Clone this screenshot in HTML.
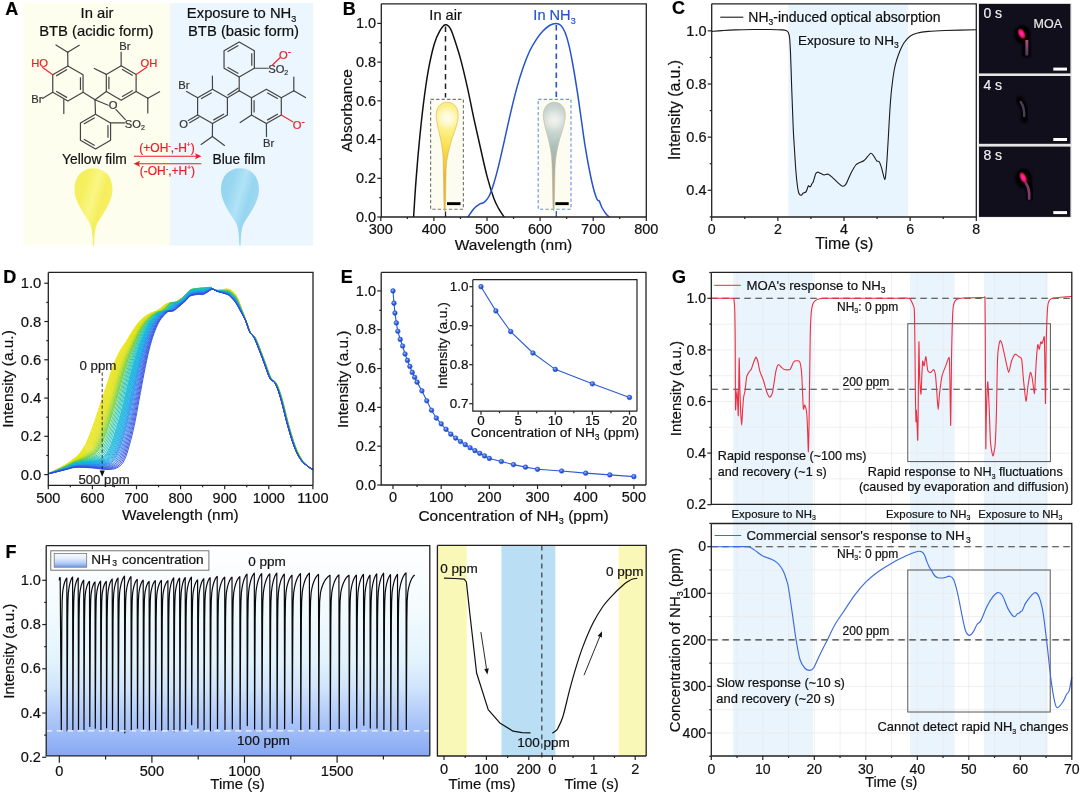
<!DOCTYPE html>
<html lang="en"><head><meta charset="utf-8"><title>Figure</title>
<style>
html,body{margin:0;padding:0;background:#fff;}
body{width:1080px;height:794px;overflow:hidden;}
svg{display:block;font-family:"Liberation Sans", sans-serif;will-change:transform;}
svg text{stroke-width:0.2px;stroke-linejoin:round;}
</style></head><body>
<svg width="1080" height="794" viewBox="0 0 1080 794">
<rect width="1080" height="794" fill="#ffffff"/>
<rect x="23" y="3" width="146.8" height="242.5" fill="#fefeee" stroke="none" stroke-width="1" />
<rect x="169.8" y="3" width="143.4" height="242.5" fill="#ebf6fe" stroke="none" stroke-width="1" />
<text x="5.3" y="15" font-size="18" text-anchor="start" fill="#000" stroke="#000" font-weight="bold" >A</text>
<text x="97" y="18.3" font-size="14.8" text-anchor="middle" fill="#101010" stroke="#101010" font-weight="normal" >In air</text>
<text x="96.3" y="35.7" font-size="14.8" text-anchor="middle" fill="#101010" stroke="#101010" font-weight="normal" >BTB (acidic form)</text>
<text x="241.6" y="18.3" font-size="14.8" text-anchor="middle" fill="#101010" stroke="#101010" font-weight="normal" >Exposure to NH<tspan font-size="9" dy="3.4">3</tspan><tspan dy="-3.4" font-size="1">&#8203;</tspan></text>
<text x="243.5" y="35.7" font-size="14.8" text-anchor="middle" fill="#101010" stroke="#101010" font-weight="normal" >BTB (basic form)</text>
<path d="M67.9 66.1 L83.06 74.85 L83.06 92.35 L67.9 101.1 L52.74 92.35 L52.74 74.85 Z" fill="none" stroke="#444444" stroke-width="1.2" stroke-linejoin="round"/>
<line x1="56.17" y1="75.88" x2="67.08" y2="69.58" stroke="#444444" stroke-width="1.2" />
<line x1="80.46" y1="77.3" x2="80.46" y2="89.9" stroke="#444444" stroke-width="1.2" />
<line x1="67.08" y1="97.62" x2="56.17" y2="91.32" stroke="#444444" stroke-width="1.2" />
<line x1="67.9" y1="66.1" x2="67.7" y2="52.2" stroke="#444444" stroke-width="1.2" stroke-linecap="round"/>
<line x1="67.7" y1="52.2" x2="56" y2="44.9" stroke="#444444" stroke-width="1.2" stroke-linecap="round"/>
<line x1="67.7" y1="52.2" x2="79.2" y2="45.2" stroke="#444444" stroke-width="1.2" stroke-linecap="round"/>
<line x1="52.74" y1="74.85" x2="42.6" y2="67.6" stroke="#ee2a2a" stroke-width="1.2" stroke-linecap="round"/>
<text x="31.2" y="66.6" font-size="11.2" text-anchor="start" fill="#ee1c24" stroke="#ee1c24" font-weight="normal" >HO</text>
<line x1="52.74" y1="92.35" x2="42.5" y2="98.4" stroke="#444444" stroke-width="1.2" stroke-linecap="round"/>
<text x="31.2" y="102.6" font-size="11.2" text-anchor="start" fill="#333" stroke="#333" font-weight="normal" >Br</text>
<line x1="63.8" y1="99.6" x2="63.8" y2="113.5" stroke="#444444" stroke-width="1.2" stroke-linecap="round"/>
<line x1="83.06" y1="92.35" x2="95" y2="99.8" stroke="#444444" stroke-width="1.2" stroke-linecap="round"/>
<path d="M121.2 65.8 L136.1 74.4 L136.1 91.6 L121.2 100.2 L106.3 91.6 L106.3 74.4 Z" fill="none" stroke="#444444" stroke-width="1.2" stroke-linejoin="round"/>
<line x1="121.99" y1="69.26" x2="132.71" y2="75.45" stroke="#444444" stroke-width="1.2" />
<line x1="108.9" y1="89.19" x2="108.9" y2="76.81" stroke="#444444" stroke-width="1.2" />
<line x1="132.71" y1="90.55" x2="121.99" y2="96.74" stroke="#444444" stroke-width="1.2" />
<line x1="95" y1="99.8" x2="106.3" y2="91.6" stroke="#444444" stroke-width="1.2" stroke-linecap="round"/>
<line x1="121.2" y1="65.8" x2="121.1" y2="52.2" stroke="#444444" stroke-width="1.2" stroke-linecap="round"/>
<text x="119.2" y="50.4" font-size="11.2" text-anchor="start" fill="#333" stroke="#333" font-weight="normal" >Br</text>
<line x1="136.1" y1="74.4" x2="146.8" y2="67.3" stroke="#ee2a2a" stroke-width="1.2" stroke-linecap="round"/>
<text x="140.6" y="66.6" font-size="11.2" text-anchor="start" fill="#ee1c24" stroke="#ee1c24" font-weight="normal" >OH</text>
<line x1="106.3" y1="74.4" x2="94.3" y2="68.5" stroke="#444444" stroke-width="1.2" stroke-linecap="round"/>
<line x1="136.1" y1="91.6" x2="147.8" y2="98.3" stroke="#444444" stroke-width="1.2" stroke-linecap="round"/>
<line x1="147.8" y1="98.3" x2="159.6" y2="91.7" stroke="#444444" stroke-width="1.2" stroke-linecap="round"/>
<line x1="147.8" y1="98.3" x2="147.8" y2="112.9" stroke="#444444" stroke-width="1.2" stroke-linecap="round"/>
<line x1="95" y1="99.8" x2="108.2" y2="105.2" stroke="#444444" stroke-width="1.2" stroke-linecap="round"/>
<text x="108.8" y="108.8" font-size="11.2" text-anchor="start" fill="#333" stroke="#333" font-weight="normal" >O</text>
<line x1="116" y1="109.6" x2="125.4" y2="119.6" stroke="#444444" stroke-width="1.2" stroke-linecap="round"/>
<text x="124.8" y="127.8" font-size="11.2" text-anchor="start" fill="#333" stroke="#333" font-weight="normal" >SO<tspan font-size="7" dy="2.5">2</tspan><tspan dy="-2.5" font-size="1">&#8203;</tspan></text>
<path d="M95.5 114.2 L110.57 122.9 L110.57 140.3 L95.5 149 L80.43 140.3 L80.43 122.9 Z" fill="none" stroke="#444444" stroke-width="1.2" stroke-linejoin="round"/>
<line x1="83.84" y1="123.93" x2="94.69" y2="117.67" stroke="#444444" stroke-width="1.2" />
<line x1="107.97" y1="125.34" x2="107.97" y2="137.86" stroke="#444444" stroke-width="1.2" />
<line x1="94.69" y1="145.53" x2="83.84" y2="139.27" stroke="#444444" stroke-width="1.2" />
<line x1="95" y1="99.8" x2="95.5" y2="114.2" stroke="#444444" stroke-width="1.2" stroke-linecap="round"/>
<line x1="110.57" y1="122.9" x2="124.6" y2="122.9" stroke="#444444" stroke-width="1.2" stroke-linecap="round"/>
<text x="94.4" y="164" font-size="13.8" text-anchor="middle" fill="#101010" stroke="#101010" font-weight="normal" >Yellow film</text>
<line x1="133.8" y1="156.3" x2="196.5" y2="156.3" stroke="#ee1c24" stroke-width="1.1" />
<path d="M201.5 156.3 L195 153.3 L196.3 156.3 L195 159.3 Z" fill="#ee1c24" stroke="none" stroke-width="1" />
<line x1="138.6" y1="163.8" x2="201.3" y2="163.8" stroke="#ee1c24" stroke-width="1.1" />
<path d="M133.6 163.8 L140.1 160.8 L138.8 163.8 L140.1 166.8 Z" fill="#ee1c24" stroke="none" stroke-width="1" />
<text x="167" y="152" font-size="12" text-anchor="middle" fill="#ee1c24" stroke="#ee1c24" font-weight="normal" >(+OH<tspan font-size="7.5" dy="-4.2">-</tspan><tspan dy="4.2" font-size="1">&#8203;</tspan>,-H<tspan font-size="6.5" dy="-4.6">+</tspan><tspan dy="4.6" font-size="1">&#8203;</tspan>)</text>
<text x="167.3" y="174.7" font-size="12" text-anchor="middle" fill="#ee1c24" stroke="#ee1c24" font-weight="normal" >(-OH<tspan font-size="7.5" dy="-4.2">-</tspan><tspan dy="4.2" font-size="1">&#8203;</tspan>,+H<tspan font-size="6.5" dy="-4.6">+</tspan><tspan dy="4.6" font-size="1">&#8203;</tspan>)</text>
<text x="239" y="164" font-size="13.8" text-anchor="middle" fill="#101010" stroke="#101010" font-weight="normal" >Blue film</text>
<defs>
<linearGradient id="gy" x1="0" y1="0" x2="1" y2="0.6">
<stop offset="0" stop-color="#f4ed5a"/><stop offset="0.3" stop-color="#f6f060"/><stop offset="0.52" stop-color="#faf684"/><stop offset="0.72" stop-color="#f5ee5c"/><stop offset="1" stop-color="#f7f16e"/>
</linearGradient>
<linearGradient id="gb" x1="0" y1="0" x2="1" y2="0.6">
<stop offset="0" stop-color="#92d2ee"/><stop offset="0.3" stop-color="#99d7f1"/><stop offset="0.52" stop-color="#b0e3f7"/><stop offset="0.72" stop-color="#96d5f0"/><stop offset="1" stop-color="#a5dcf3"/>
</linearGradient>
</defs>
<path d="M93.5 168.3 C104.5 168.3 112.5 176 112.5 189.5 C112.5 201 104.5 212 98 222 C95.5 227 94.4 231 94.1 245.5 L92.9 245.5 C92.6 231 91.5 227 89 222 C82.5 212 74.5 201 74.5 189.5 C74.5 176 82.5 168.3 93.5 168.3 Z" fill="url(#gy)" stroke="none" stroke-width="1" />
<path d="M240 168.3 C251 168.3 259 176 259 189.5 C259 201 251 212 244.5 222 C242 227 240.9 231 240.6 245.5 L239.4 245.5 C239.1 231 238 227 235.5 222 C229 212 221 201 221 189.5 C221 176 229 168.3 240 168.3 Z" fill="url(#gb)" stroke="none" stroke-width="1" />
<path d="M239.2 42 L254.36 50.75 L254.36 68.25 L239.2 77 L224.04 68.25 L224.04 50.75 Z" fill="none" stroke="#444444" stroke-width="1.2" stroke-linejoin="round"/>
<line x1="227.47" y1="51.78" x2="238.38" y2="45.48" stroke="#444444" stroke-width="1.2" />
<line x1="251.76" y1="53.2" x2="251.76" y2="65.8" stroke="#444444" stroke-width="1.2" />
<line x1="238.38" y1="73.52" x2="227.47" y2="67.22" stroke="#444444" stroke-width="1.2" />
<line x1="254.36" y1="68.25" x2="268.3" y2="68.25" stroke="#444444" stroke-width="1.2" stroke-linecap="round"/>
<text x="268.2" y="72.6" font-size="11.2" text-anchor="start" fill="#333" stroke="#333" font-weight="normal" >SO<tspan font-size="7" dy="2.5">2</tspan><tspan dy="-2.5" font-size="1">&#8203;</tspan></text>
<line x1="272.2" y1="65.2" x2="280" y2="57.8" stroke="#ee2a2a" stroke-width="1.2" stroke-linecap="round"/>
<text x="279" y="58.8" font-size="11.2" text-anchor="start" fill="#ee1c24" stroke="#ee1c24" font-weight="normal" >O<tspan font-size="10" dy="-4">-</tspan><tspan dy="4" font-size="1">&#8203;</tspan></text>
<line x1="239.2" y1="77" x2="239.2" y2="90.8" stroke="#444444" stroke-width="1.2" stroke-linecap="round"/>
<path d="M212.5 89.2 L227.4 97.8 L227.4 115 L212.5 123.6 L197.6 115 L197.6 97.8 Z" fill="none" stroke="#444444" stroke-width="1.2" stroke-linejoin="round"/>
<line x1="200.99" y1="98.85" x2="211.71" y2="92.66" stroke="#444444" stroke-width="1.2" />
<line x1="224.01" y1="113.95" x2="213.29" y2="120.14" stroke="#444444" stroke-width="1.2" />
<path d="M266.4 89.2 L281.3 97.8 L281.3 115 L266.4 123.6 L251.5 115 L251.5 97.8 Z" fill="none" stroke="#444444" stroke-width="1.2" stroke-linejoin="round"/>
<line x1="254.1" y1="112.59" x2="254.1" y2="100.21" stroke="#444444" stroke-width="1.2" />
<line x1="267.19" y1="92.66" x2="277.91" y2="98.85" stroke="#444444" stroke-width="1.2" />
<line x1="277.91" y1="113.95" x2="267.19" y2="120.14" stroke="#444444" stroke-width="1.2" />
<line x1="239.2" y1="90.8" x2="227.4" y2="97.8" stroke="#444444" stroke-width="1.2" stroke-linecap="round"/>
<line x1="239.2" y1="90.8" x2="251.5" y2="97.8" stroke="#444444" stroke-width="1.2" stroke-linecap="round"/>
<line x1="238" y1="88.2" x2="227.8" y2="94.9" stroke="#444444" stroke-width="1.2" stroke-linecap="round"/>
<line x1="212.5" y1="89.2" x2="212.4" y2="76.1" stroke="#444444" stroke-width="1.2" stroke-linecap="round"/>
<line x1="197.6" y1="97.8" x2="186.6" y2="91.5" stroke="#444444" stroke-width="1.2" stroke-linecap="round"/>
<text x="178.2" y="89.4" font-size="11.2" text-anchor="start" fill="#333" stroke="#333" font-weight="normal" >Br</text>
<line x1="197.6" y1="115" x2="188.3" y2="120.4" stroke="#444444" stroke-width="1.2" stroke-linecap="round"/>
<line x1="198.9" y1="117.3" x2="189.6" y2="122.7" stroke="#444444" stroke-width="1.2" stroke-linecap="round"/>
<text x="179.3" y="127.9" font-size="11.2" text-anchor="start" fill="#333" stroke="#333" font-weight="normal" >O</text>
<line x1="212.5" y1="123.6" x2="212.4" y2="136.6" stroke="#444444" stroke-width="1.2" stroke-linecap="round"/>
<line x1="212.4" y1="136.6" x2="201.1" y2="144.4" stroke="#444444" stroke-width="1.2" stroke-linecap="round"/>
<line x1="212.4" y1="136.6" x2="224.5" y2="145.4" stroke="#444444" stroke-width="1.2" stroke-linecap="round"/>
<line x1="281.3" y1="97.8" x2="293.8" y2="90.8" stroke="#444444" stroke-width="1.2" stroke-linecap="round"/>
<line x1="293.8" y1="90.8" x2="293.8" y2="77.1" stroke="#444444" stroke-width="1.2" stroke-linecap="round"/>
<line x1="293.8" y1="90.8" x2="305.5" y2="97.6" stroke="#444444" stroke-width="1.2" stroke-linecap="round"/>
<line x1="281.3" y1="115" x2="292.7" y2="121.8" stroke="#ee2a2a" stroke-width="1.2" stroke-linecap="round"/>
<text x="292.7" y="129.4" font-size="11.2" text-anchor="start" fill="#ee1c24" stroke="#ee1c24" font-weight="normal" >O<tspan font-size="10" dy="-4">-</tspan><tspan dy="4" font-size="1">&#8203;</tspan></text>
<line x1="266.4" y1="123.6" x2="266.5" y2="136.6" stroke="#444444" stroke-width="1.2" stroke-linecap="round"/>
<text x="263" y="146.8" font-size="11.2" text-anchor="start" fill="#333" stroke="#333" font-weight="normal" >Br</text>
<line x1="251.5" y1="115" x2="240.2" y2="122.6" stroke="#444444" stroke-width="1.2" stroke-linecap="round"/>
<text x="342.8" y="14.8" font-size="18" text-anchor="start" fill="#000" stroke="#000" font-weight="bold" >B</text>
<defs>
<radialGradient id="by" gradientUnits="userSpaceOnUse" cx="447.2" cy="118" r="60"><stop offset="0" stop-color="#fffdf0"/><stop offset="0.1" stop-color="#fef9cc"/><stop offset="0.2" stop-color="#fcf08c"/><stop offset="0.45" stop-color="#f9e252"/><stop offset="0.8" stop-color="#f2c832"/><stop offset="1" stop-color="#e8b830"/></radialGradient>
<radialGradient id="bg2" gradientUnits="userSpaceOnUse" cx="554.3" cy="120" r="60"><stop offset="0" stop-color="#f4f2ef"/><stop offset="0.1" stop-color="#e4e8e3"/><stop offset="0.2" stop-color="#cad7d3"/><stop offset="0.45" stop-color="#abbfbd"/><stop offset="0.8" stop-color="#a9aca4"/><stop offset="1" stop-color="#b5aa98"/></radialGradient>
</defs>
<rect x="430.6" y="99.3" width="32.8" height="109.9" fill="#fdfcf0" stroke="#777" stroke-width="1.15" stroke-dasharray="3.3 2.2"/>
<path d="M447.2 102.3 C447.73 102.38 449.37 102.43 450.4 102.75 C451.43 103.07 452.47 103.51 453.4 104.2 C454.33 104.89 455.28 105.78 456 106.9 C456.72 108.02 457.33 109.42 457.7 110.9 C458.07 112.38 458.25 113.9 458.2 115.8 C458.15 117.7 457.94 119.88 457.4 122.3 C456.86 124.72 455.88 127.47 454.96 130.3 C454.03 133.13 452.79 136.3 451.86 139.3 C450.92 142.3 450.06 145.47 449.36 148.3 C448.65 151.13 448.13 153.3 447.61 156.3 C447.09 159.3 446.56 161.97 446.26 166.3 C445.95 170.63 445.97 175.37 445.8 182.3 C445.63 189.23 445.52 203.63 445.25 207.9 C444.98 212.17 444.42 212.17 444.15 207.9 C443.88 203.63 443.75 189.23 443.6 182.3 C443.45 175.37 443.35 170.63 443.26 166.3 C443.16 161.97 443.19 159.3 443.01 156.3 C442.83 153.3 442.55 151.13 442.16 148.3 C441.76 145.47 441.26 142.3 440.66 139.3 C440.06 136.3 439.16 133.13 438.56 130.3 C437.95 127.47 437.39 124.72 437 122.3 C436.61 119.88 436.25 117.7 436.2 115.8 C436.15 113.9 436.33 112.38 436.7 110.9 C437.07 109.42 437.68 108.02 438.4 106.9 C439.12 105.78 440.07 104.89 441 104.2 C441.93 103.51 442.97 103.07 444 102.75 C445.03 102.43 446.67 102.38 447.2 102.3 Z" fill="url(#by)" stroke="#d8a84a" stroke-width="0.55" />
<rect x="447" y="202.2" width="13.5" height="2.9" fill="#000" stroke="none" stroke-width="1" />
<rect x="538.2" y="99.3" width="32.8" height="109.9" fill="#fdfcf0" stroke="#6f93e8" stroke-width="1.15" stroke-dasharray="3.3 2.2"/>
<path d="M554.3 102.3 C554.83 102.38 556.47 102.43 557.5 102.75 C558.53 103.07 559.57 103.51 560.5 104.2 C561.43 104.89 562.38 105.78 563.1 106.9 C563.82 108.02 564.43 109.42 564.8 110.9 C565.17 112.38 565.35 113.9 565.3 115.8 C565.25 117.7 564.99 119.88 564.5 122.3 C564.01 124.72 563.19 127.47 562.38 130.3 C561.56 133.13 560.45 136.3 559.64 139.3 C558.82 142.3 558.09 145.47 557.5 148.3 C556.9 151.13 556.47 153.3 556.07 156.3 C555.67 159.3 555.34 161.97 555.12 166.3 C554.89 170.63 554.86 175.37 554.7 182.3 C554.54 189.23 554.42 203.63 554.15 207.9 C553.88 212.17 553.33 212.17 553.05 207.9 C552.78 203.63 552.66 189.23 552.5 182.3 C552.34 175.37 552.29 170.63 552.12 166.3 C551.94 161.97 551.77 159.3 551.47 156.3 C551.17 153.3 550.8 151.13 550.3 148.3 C549.79 145.47 549.16 142.3 548.44 139.3 C547.72 136.3 546.7 133.13 545.98 130.3 C545.25 127.47 544.55 124.72 544.1 122.3 C543.65 119.88 543.35 117.7 543.3 115.8 C543.25 113.9 543.43 112.38 543.8 110.9 C544.17 109.42 544.78 108.02 545.5 106.9 C546.22 105.78 547.17 104.89 548.1 104.2 C549.03 103.51 550.07 103.07 551.1 102.75 C552.13 102.43 553.77 102.38 554.3 102.3 Z" fill="url(#bg2)" stroke="#bfb092" stroke-width="0.55" />
<rect x="555.4" y="202.2" width="13.3" height="2.9" fill="#000" stroke="none" stroke-width="1" />
<line x1="445.5" y1="26.5" x2="445.5" y2="97.5" stroke="#222" stroke-width="1.5" stroke-dasharray="5.5 4"/>
<line x1="445.5" y1="211.5" x2="445.5" y2="217" stroke="#222" stroke-width="1.3" />
<line x1="556.3" y1="25" x2="556.3" y2="98" stroke="#2552cf" stroke-width="1.6" stroke-dasharray="5.5 4"/>
<line x1="556.3" y1="211" x2="556.3" y2="217" stroke="#2552cf" stroke-width="1.3" />
<clipPath id="clipB"><rect x="381.3" y="3.8" width="264.99999999999994" height="213.5"/></clipPath>
<path d="M413.6 217.2 C413.97 211.57 414.88 195.58 415.8 183.4 C416.72 171.22 417.85 157.2 419.1 144.1 C420.35 131 421.77 117.08 423.3 104.8 C424.83 92.52 426.48 80.5 428.3 70.4 C430.12 60.3 432.3 50.75 434.2 44.2 C436.1 37.65 437.85 34.35 439.7 31.1 C441.55 27.85 443.5 25.08 445.3 24.7 C447.1 24.32 448.7 25.55 450.5 28.8 C452.3 32.05 454.35 38.9 456.1 44.2 C457.85 49.5 459.08 53.23 461 60.6 C462.92 67.97 465.42 78.57 467.6 88.4 C469.78 98.23 471.92 109.5 474.1 119.6 C476.28 129.7 478.52 139.45 480.7 149 C482.88 158.55 485.02 168.7 487.2 176.9 C489.38 185.1 491.88 192.92 493.8 198.2 C495.72 203.48 496.95 205.43 498.7 208.6 C500.45 211.77 503.37 215.77 504.3 217.2" fill="none" stroke="#111" stroke-width="1.5" clip-path="url(#clipB)"/>
<path d="M467.8 217.2 C468.85 215.75 472.07 210.72 474.1 208.5 C476.13 206.28 478.35 204.92 480 203.9 C481.65 202.88 482.52 203.63 484 202.4 C485.48 201.17 487.27 199.67 488.9 196.5 C490.53 193.33 492.17 188.58 493.8 183.4 C495.43 178.22 497.07 171.95 498.7 165.4 C500.33 158.85 501.68 152.57 503.6 144.1 C505.52 135.63 508.02 123.88 510.2 114.6 C512.38 105.32 514.52 96.32 516.7 88.4 C518.88 80.48 521.12 73.37 523.3 67.1 C525.48 60.83 527.62 55.43 529.8 50.8 C531.98 46.17 534.22 42.58 536.4 39.3 C538.58 36.02 540.72 33.4 542.9 31.1 C545.08 28.8 547.32 26.77 549.5 25.5 C551.68 24.23 554.1 23.5 556 23.5 C557.9 23.5 559.37 23.95 560.9 25.5 C562.43 27.05 563.83 29.4 565.2 32.8 C566.57 36.2 567.8 40.45 569.1 45.9 C570.4 51.35 571.63 57.87 573 65.5 C574.37 73.13 576.03 83.52 577.3 91.7 C578.57 99.88 579.35 105.87 580.6 114.6 C581.85 123.33 583.43 135.37 584.8 144.1 C586.17 152.83 587.43 159.9 588.8 167 C590.17 174.1 591.63 181.32 593 186.7 C594.37 192.08 595.97 196.92 597 199.3 C598.03 201.68 598.38 199.63 599.2 201 C600.02 202.37 600.75 205.33 601.9 207.5 C603.05 209.67 604.85 212.38 606.1 214 C607.35 215.62 608.85 216.67 609.4 217.2" fill="none" stroke="#2552cf" stroke-width="1.5" clip-path="url(#clipB)"/>
<path d="M381.3 3.8 L381.3 217 L646.3 217" fill="none" stroke="#222" stroke-width="1.3" />
<path d="M381.3 3.8 L646.3 3.8 L646.3 217" fill="none" stroke="#222" stroke-width="1.3" />
<line x1="377.3" y1="217" x2="381.3" y2="217" stroke="#222" stroke-width="1.2" />
<text x="376.1" y="221.7" font-size="14.5" text-anchor="end" fill="#101010" stroke="#101010" font-weight="normal" >0.0</text>
<line x1="377.3" y1="178.28" x2="381.3" y2="178.28" stroke="#222" stroke-width="1.2" />
<text x="376.1" y="182.98" font-size="14.5" text-anchor="end" fill="#101010" stroke="#101010" font-weight="normal" >0.2</text>
<line x1="377.3" y1="139.56" x2="381.3" y2="139.56" stroke="#222" stroke-width="1.2" />
<text x="376.1" y="144.26" font-size="14.5" text-anchor="end" fill="#101010" stroke="#101010" font-weight="normal" >0.4</text>
<line x1="377.3" y1="100.84" x2="381.3" y2="100.84" stroke="#222" stroke-width="1.2" />
<text x="376.1" y="105.54" font-size="14.5" text-anchor="end" fill="#101010" stroke="#101010" font-weight="normal" >0.6</text>
<line x1="377.3" y1="62.12" x2="381.3" y2="62.12" stroke="#222" stroke-width="1.2" />
<text x="376.1" y="66.82" font-size="14.5" text-anchor="end" fill="#101010" stroke="#101010" font-weight="normal" >0.8</text>
<line x1="377.3" y1="23.4" x2="381.3" y2="23.4" stroke="#222" stroke-width="1.2" />
<text x="376.1" y="28.1" font-size="14.5" text-anchor="end" fill="#101010" stroke="#101010" font-weight="normal" >1.0</text>
<line x1="379.3" y1="197.64" x2="381.3" y2="197.64" stroke="#222" stroke-width="1.2" />
<line x1="379.3" y1="158.92" x2="381.3" y2="158.92" stroke="#222" stroke-width="1.2" />
<line x1="379.3" y1="120.2" x2="381.3" y2="120.2" stroke="#222" stroke-width="1.2" />
<line x1="379.3" y1="81.48" x2="381.3" y2="81.48" stroke="#222" stroke-width="1.2" />
<line x1="379.3" y1="42.76" x2="381.3" y2="42.76" stroke="#222" stroke-width="1.2" />
<line x1="380.8" y1="217" x2="380.8" y2="221" stroke="#222" stroke-width="1.2" />
<text x="380.8" y="234.2" font-size="14.5" text-anchor="middle" fill="#101010" stroke="#101010" font-weight="normal" >300</text>
<line x1="433.9" y1="217" x2="433.9" y2="221" stroke="#222" stroke-width="1.2" />
<text x="433.9" y="234.2" font-size="14.5" text-anchor="middle" fill="#101010" stroke="#101010" font-weight="normal" >400</text>
<line x1="487" y1="217" x2="487" y2="221" stroke="#222" stroke-width="1.2" />
<text x="487" y="234.2" font-size="14.5" text-anchor="middle" fill="#101010" stroke="#101010" font-weight="normal" >500</text>
<line x1="540.1" y1="217" x2="540.1" y2="221" stroke="#222" stroke-width="1.2" />
<text x="540.1" y="234.2" font-size="14.5" text-anchor="middle" fill="#101010" stroke="#101010" font-weight="normal" >600</text>
<line x1="593.2" y1="217" x2="593.2" y2="221" stroke="#222" stroke-width="1.2" />
<text x="593.2" y="234.2" font-size="14.5" text-anchor="middle" fill="#101010" stroke="#101010" font-weight="normal" >700</text>
<line x1="646.3" y1="217" x2="646.3" y2="221" stroke="#222" stroke-width="1.2" />
<text x="646.3" y="234.2" font-size="14.5" text-anchor="middle" fill="#101010" stroke="#101010" font-weight="normal" >800</text>
<line x1="407.35" y1="217" x2="407.35" y2="219" stroke="#222" stroke-width="1.2" />
<line x1="460.45" y1="217" x2="460.45" y2="219" stroke="#222" stroke-width="1.2" />
<line x1="513.55" y1="217" x2="513.55" y2="219" stroke="#222" stroke-width="1.2" />
<line x1="566.65" y1="217" x2="566.65" y2="219" stroke="#222" stroke-width="1.2" />
<line x1="619.75" y1="217" x2="619.75" y2="219" stroke="#222" stroke-width="1.2" />
<text x="513.5" y="249.6" font-size="15.5" text-anchor="middle" fill="#101010" stroke="#101010" font-weight="normal" >Wavelength (nm)</text>
<text x="352" y="110.6" font-size="15.5" text-anchor="middle" fill="#101010" stroke="#101010" font-weight="normal" transform="rotate(-90 352 110.6)" >Absorbance</text>
<text x="445.6" y="20.4" font-size="14.6" text-anchor="middle" fill="#101010" stroke="#101010" font-weight="normal" >In air</text>
<text x="554.5" y="20.4" font-size="14.6" text-anchor="middle" fill="#2552cf" stroke="#2552cf" font-weight="normal" >In NH<tspan font-size="9" dy="3.4">3</tspan><tspan dy="-3.4" font-size="1">&#8203;</tspan></text>
<text x="672" y="14" font-size="18" text-anchor="start" fill="#000" stroke="#000" font-weight="bold" >C</text>
<rect x="788.3" y="3.8" width="119.7" height="213.2" fill="#e9f5fe" stroke="none" stroke-width="1" />
<path d="M711.7 31.4 C713.25 31.28 718.5 30.83 722 30.6 C725.5 30.38 730.35 30.06 735 29.9 C739.65 29.73 747.75 29.56 753 29.5 C758.25 29.44 765.65 29.44 770 29.5 C774.35 29.56 779.6 29.73 782 29.9 C784.4 30.06 785.06 30.21 786 30.6 C786.94 30.99 787.76 31.39 788.3 32.5 C788.84 33.61 789.25 34.62 789.6 38 C789.95 41.38 790.3 47.95 790.6 55 C790.9 62.05 791.3 76.45 791.6 85 C791.9 93.55 792.35 105.25 792.6 112 C792.86 118.75 793.06 125.05 793.3 130 C793.54 134.95 793.83 139 794.2 145 C794.58 151 795.33 164 795.8 170 C796.26 176 796.89 181.7 797.3 185 C797.7 188.3 798.14 190.56 798.5 192 C798.86 193.44 799.22 194.15 799.7 194.6 C800.18 195.05 801.21 195.21 801.7 195 C802.2 194.79 802.38 193.65 803 193.2 C803.62 192.75 805.17 192.63 805.8 192 C806.43 191.37 806.83 189.93 807.2 189 C807.58 188.07 807.95 186.16 808.3 185.8 C808.64 185.44 809.12 186.53 809.5 186.6 C809.88 186.67 810.42 186.77 810.8 186.3 C811.17 185.84 811.62 184.19 812 183.5 C812.38 182.81 812.88 182.75 813.3 181.7 C813.72 180.65 814.42 177.72 814.8 176.5 C815.17 175.28 815.47 174.22 815.8 173.6 C816.13 172.98 816.62 172.61 817 172.4 C817.38 172.19 817.7 172.02 818.3 172.2 C818.9 172.38 820.12 173.18 821 173.6 C821.88 174.02 823.11 174.91 824.2 175 C825.3 175.09 826.93 173.7 828.3 174.2 C829.66 174.69 831.84 177.01 833.3 178.3 C834.75 179.59 836.62 181.62 838 182.8 C839.38 183.99 841.33 185.96 842.5 186.2 C843.67 186.44 844.55 186.31 845.8 184.4 C847.04 182.5 849.3 176.41 850.8 173.5 C852.3 170.59 854.54 166.6 855.8 165 C857.06 163.4 858.01 163.43 859.2 162.8 C860.39 162.17 862.46 161.72 863.7 160.8 C864.95 159.89 866.44 157.82 867.5 156.7 C868.56 155.57 869.93 153.51 870.8 153.3 C871.67 153.09 872.41 154.18 873.3 155.3 C874.18 156.43 875.82 159.84 876.7 160.8 C877.59 161.76 878.45 160.57 879.2 161.7 C879.95 162.82 880.88 165.65 881.7 168.3 C882.53 170.96 884.03 179.15 884.7 179.4 C885.38 179.66 885.81 173.66 886.2 170 C886.59 166.34 886.99 159.8 887.3 155 C887.61 150.2 887.89 145 888.3 138 C888.7 131 889.49 115.75 890 108.3 C890.51 100.84 891.07 94.05 891.7 88.3 C892.33 82.55 893.45 74.25 894.2 70 C894.95 65.75 895.83 62.88 896.7 60 C897.57 57.12 898.88 53.42 900 50.8 C901.12 48.17 902.7 44.69 904.2 42.5 C905.7 40.31 908.12 37.59 910 36.2 C911.88 34.81 913.96 33.92 916.7 33.2 C919.45 32.48 924.05 31.8 928.3 31.4 C932.54 30.99 937.8 30.74 945 30.5 C952.2 30.26 971.61 29.91 976.3 29.8" fill="none" stroke="#1a1a1a" stroke-width="1.1" />
<path d="M711.7 3.8 L711.7 217 L976.3 217" fill="none" stroke="#222" stroke-width="1.3" />
<path d="M711.7 3.8 L976.3 3.8 L976.3 217" fill="none" stroke="#222" stroke-width="1.3" />
<line x1="707.7" y1="190.3" x2="711.7" y2="190.3" stroke="#222" stroke-width="1.2" />
<text x="706.5" y="195" font-size="14.5" text-anchor="end" fill="#101010" stroke="#101010" font-weight="normal" >0.4</text>
<line x1="707.7" y1="137.15" x2="711.7" y2="137.15" stroke="#222" stroke-width="1.2" />
<text x="706.5" y="141.85" font-size="14.5" text-anchor="end" fill="#101010" stroke="#101010" font-weight="normal" >0.6</text>
<line x1="707.7" y1="84" x2="711.7" y2="84" stroke="#222" stroke-width="1.2" />
<text x="706.5" y="88.7" font-size="14.5" text-anchor="end" fill="#101010" stroke="#101010" font-weight="normal" >0.8</text>
<line x1="707.7" y1="30.85" x2="711.7" y2="30.85" stroke="#222" stroke-width="1.2" />
<text x="706.5" y="35.55" font-size="14.5" text-anchor="end" fill="#101010" stroke="#101010" font-weight="normal" >1.0</text>
<line x1="709.7" y1="216.9" x2="711.7" y2="216.9" stroke="#222" stroke-width="1.2" />
<line x1="709.7" y1="163.75" x2="711.7" y2="163.75" stroke="#222" stroke-width="1.2" />
<line x1="709.7" y1="110.6" x2="711.7" y2="110.6" stroke="#222" stroke-width="1.2" />
<line x1="709.7" y1="57.45" x2="711.7" y2="57.45" stroke="#222" stroke-width="1.2" />
<line x1="711.7" y1="217" x2="711.7" y2="221" stroke="#222" stroke-width="1.2" />
<text x="711.7" y="234.4" font-size="14.2" text-anchor="middle" fill="#101010" stroke="#101010" font-weight="normal" >0</text>
<line x1="777.85" y1="217" x2="777.85" y2="221" stroke="#222" stroke-width="1.2" />
<text x="777.85" y="234.4" font-size="14.2" text-anchor="middle" fill="#101010" stroke="#101010" font-weight="normal" >2</text>
<line x1="844" y1="217" x2="844" y2="221" stroke="#222" stroke-width="1.2" />
<text x="844" y="234.4" font-size="14.2" text-anchor="middle" fill="#101010" stroke="#101010" font-weight="normal" >4</text>
<line x1="910.15" y1="217" x2="910.15" y2="221" stroke="#222" stroke-width="1.2" />
<text x="910.15" y="234.4" font-size="14.2" text-anchor="middle" fill="#101010" stroke="#101010" font-weight="normal" >6</text>
<line x1="976.3" y1="217" x2="976.3" y2="221" stroke="#222" stroke-width="1.2" />
<text x="976.3" y="234.4" font-size="14.2" text-anchor="middle" fill="#101010" stroke="#101010" font-weight="normal" >8</text>
<line x1="744.77" y1="217" x2="744.77" y2="219" stroke="#222" stroke-width="1.2" />
<line x1="810.92" y1="217" x2="810.92" y2="219" stroke="#222" stroke-width="1.2" />
<line x1="877.07" y1="217" x2="877.07" y2="219" stroke="#222" stroke-width="1.2" />
<line x1="943.22" y1="217" x2="943.22" y2="219" stroke="#222" stroke-width="1.2" />
<text x="844.3" y="249.3" font-size="16" text-anchor="middle" fill="#101010" stroke="#101010" font-weight="normal" >Time (s)</text>
<text x="679.5" y="110" font-size="15.8" text-anchor="middle" fill="#101010" stroke="#101010" font-weight="normal" transform="rotate(-90 679.5 110)" >Intensity (a.u.)</text>
<line x1="720.3" y1="17.2" x2="743.3" y2="17.2" stroke="#1a1a1a" stroke-width="1.1" />
<text x="748.3" y="21.8" font-size="14" text-anchor="start" fill="#101010" stroke="#101010" font-weight="normal" >NH<tspan font-size="8.5" dy="3">3</tspan><tspan dy="-3" font-size="1">&#8203;</tspan>-induced optical absorption</text>
<text x="798" y="44.8" font-size="13.6" text-anchor="start" fill="#101010" stroke="#101010" font-weight="normal" >Exposure to NH<tspan font-size="8.5" dy="3">3</tspan><tspan dy="-3" font-size="1">&#8203;</tspan></text>
<defs>
<radialGradient id="pk" cx="0.5" cy="0.5" r="0.5"><stop offset="0" stop-color="#ff30d8"/><stop offset="0.55" stop-color="#ff1a6a"/><stop offset="1" stop-color="#c8103a" stop-opacity="0.7"/></radialGradient>
<filter id="bl1" x="-50%" y="-50%" width="200%" height="200%"><feGaussianBlur stdDeviation="0.7"/></filter>
<filter id="bl2" x="-50%" y="-50%" width="200%" height="200%"><feGaussianBlur stdDeviation="1.3"/></filter>
</defs>
<rect x="977.8" y="3.2" width="94" height="214.4" fill="#e6e6e6" stroke="none" stroke-width="1" />
<rect x="979" y="3.9" width="91.4" height="69.5" fill="#120f1c" stroke="none" stroke-width="1" />
<rect x="1053.3" y="67.6" width="13.7" height="3" fill="#fff" stroke="none" stroke-width="1" />
<rect x="979" y="76" width="91.4" height="67.8" fill="#120f1c" stroke="none" stroke-width="1" />
<rect x="1053.3" y="138" width="13.7" height="3" fill="#fff" stroke="none" stroke-width="1" />
<rect x="979" y="146.6" width="91.4" height="70.3" fill="#120f1c" stroke="none" stroke-width="1" />
<rect x="1053.3" y="211.1" width="13.7" height="3" fill="#fff" stroke="none" stroke-width="1" />
<linearGradient id="tl1" x1="0" y1="0" x2="0" y2="1"><stop offset="0" stop-color="#d0406e"/><stop offset="0.35" stop-color="#8a4a78"/><stop offset="1" stop-color="#4a3a52"/></linearGradient>
<ellipse cx="1022.3" cy="34.5" rx="8.2" ry="9.5" fill="#000" filter="url(#bl2)" opacity="0.95"/>
<rect x="1021.8" y="40" width="9" height="17" fill="#000" filter="url(#bl2)" opacity="0.9"/>
<rect x="1025.4" y="40" width="2.9" height="15.5" fill="url(#tl1)" filter="url(#bl1)"/>
<ellipse cx="1021.6" cy="33.6" rx="3.3" ry="5.4" fill="url(#pk)" transform="rotate(-28 1021.6 33.6)" filter="url(#bl1)"/>
<path d="M1019.5 100 Q1026 108 1024.5 119" stroke="#000" stroke-width="7.5" fill="none" filter="url(#bl2)" stroke-linecap="round" opacity="0.9"/>
<path d="M1020.8 102 Q1024.6 108 1024.2 116" stroke="#4c3c56" stroke-width="2.4" fill="none" filter="url(#bl1)" stroke-linecap="round"/>
<ellipse cx="1023.6" cy="178.5" rx="8.4" ry="10" fill="#000" filter="url(#bl2)" opacity="0.95"/>
<path d="M1026.5 183 Q1031.5 190 1030 200" stroke="#000" stroke-width="8" fill="none" filter="url(#bl2)" opacity="0.9"/>
<path d="M1025.8 183 Q1029.8 189 1029.2 198.5" stroke="#7c3a68" stroke-width="2.8" fill="none" filter="url(#bl1)" stroke-linecap="round"/>
<ellipse cx="1023.2" cy="177.6" rx="3.1" ry="5.8" fill="url(#pk)" transform="rotate(-25 1023.2 177.6)" filter="url(#bl1)"/>
<text x="983.4" y="17.8" font-size="14" text-anchor="start" fill="#f0f0f0" stroke="#f0f0f0" font-weight="normal" >0 s</text>
<text x="983.4" y="89.7" font-size="14" text-anchor="start" fill="#f0f0f0" stroke="#f0f0f0" font-weight="normal" >4 s</text>
<text x="983.4" y="160.4" font-size="14" text-anchor="start" fill="#f0f0f0" stroke="#f0f0f0" font-weight="normal" >8 s</text>
<text x="1033.5" y="27.5" font-size="12.5" text-anchor="start" fill="#e8e8e8" stroke="#e8e8e8" font-weight="normal" >MOA</text>
<text x="3.3" y="283" font-size="18" text-anchor="start" fill="#000" stroke="#000" font-weight="bold" >D</text>
<g fill="none" stroke-width="0.92" stroke-linejoin="round">
<path d="M48.5 473.8 C50.08 473 55.08 470.55 58 469 C60.92 467.45 63.5 466.08 66 464.5 C68.5 462.92 70.83 461.17 73 459.5 C75.17 457.83 77.17 456.58 79 454.5 C80.83 452.42 82.67 449.17 84 447 C85.33 444.83 85.45 445.12 87 441.5 C88.55 437.88 91.15 431.27 93.3 425.3 C95.45 419.33 97.7 412.25 99.9 405.7 C102.1 399.15 104.32 392.55 106.5 386 C108.68 379.45 110.82 372.13 113 366.4 C115.18 360.67 117.42 355.7 119.6 351.6 C121.78 347.5 124.2 344.8 126.1 341.8 C128 338.8 129.08 336.6 131 333.6 C132.92 330.6 135.42 326.53 137.6 323.8 C139.78 321.07 141.92 318.95 144.1 317.2 C146.28 315.45 148.38 314.48 150.7 313.3 C153.02 312.12 155.38 311.68 158 310.13 C160.62 308.59 163.82 305.22 166.4 304.03 C168.98 302.84 171.15 303.81 173.5 303 C175.85 302.19 177.72 300.86 180.5 299.2 C183.28 297.54 187.25 294.37 190.2 293.05 C193.15 291.73 196 291.62 198.2 291.3 C200.4 290.97 201.35 291.54 203.4 291.1 C205.45 290.66 209.02 289.07 210.5 288.65 C211.98 288.23 211.13 288.33 212.3 288.6 C213.47 288.88 215.02 290.22 217.5 290.3 C219.98 290.38 224.85 289.02 227.2 289.1 C229.55 289.18 230.13 289.78 231.6 290.8 C233.07 291.82 234.52 292.7 236 295.2 C237.48 297.7 238.88 301.68 240.5 305.8 C242.12 309.92 244.05 315.48 245.7 319.9 C247.35 324.32 248.83 329.37 250.42 332.3 C252.02 335.23 253.58 334.57 255.25 337.5 C256.92 340.43 258.7 345.48 260.45 349.9 C262.2 354.32 263.98 359.3 265.75 364 C267.52 368.7 269.28 374.87 271.05 378.1 C272.82 381.33 274.58 380.17 276.35 383.4 C278.12 386.63 279.57 390.52 281.65 397.5 C283.73 404.48 286.55 417.12 288.85 425.3 C291.15 433.48 293.27 440.87 295.45 446.6 C297.63 452.33 299.83 456.42 301.95 459.7 C304.07 462.98 306.27 464.65 308.16 466.3 C310.04 467.95 312.41 469.05 313.26 469.6" stroke="#eae40e"/>
<path d="M48.5 473.8 C50.08 473.01 55.08 470.58 58 469.05 C60.92 467.51 63.51 466.16 66.02 464.59 C68.53 463.02 70.85 461.29 73.06 459.65 C75.26 458.01 77.35 456.79 79.25 454.75 C81.15 452.72 83.06 449.55 84.45 447.43 C85.84 445.3 86.01 445.57 87.59 441.99 C89.16 438.41 91.75 431.88 93.89 425.95 C96.04 420.03 98.27 412.98 100.46 406.44 C102.65 399.91 104.85 393.32 107.03 386.74 C109.2 380.17 111.32 372.81 113.5 367.02 C115.67 361.23 117.89 356.18 120.06 352 C122.24 347.83 124.64 345.02 126.53 341.96 C128.43 338.89 129.52 336.63 131.43 333.6 C133.35 330.57 135.83 326.51 138 323.77 C140.18 321.03 142.3 318.92 144.47 317.17 C146.65 315.42 148.74 314.43 151.04 313.26 C153.34 312.09 155.7 311.68 158.3 310.14 C160.89 308.59 164.06 305.18 166.62 303.98 C169.18 302.79 171.33 303.76 173.66 302.95 C175.99 302.15 177.85 300.81 180.6 299.14 C183.36 297.46 187.27 294.24 190.2 292.91 C193.13 291.57 196 291.48 198.2 291.15 C200.4 290.83 201.35 291.37 203.4 290.94 C205.45 290.52 209.02 288.98 210.5 288.59 C211.98 288.2 211.13 288.32 212.3 288.61 C213.47 288.9 215.02 290.22 217.5 290.32 C219.98 290.42 224.85 289.1 227.2 289.2 C229.55 289.3 230.13 289.91 231.6 290.93 C233.07 291.96 234.52 292.86 236 295.35 C237.48 297.85 238.88 301.81 240.5 305.9 C242.12 310 244.05 315.52 245.7 319.92 C247.35 324.32 248.83 329.37 250.41 332.3 C252 335.23 253.56 334.57 255.23 337.5 C256.89 340.43 258.68 345.48 260.43 349.9 C262.18 354.32 263.96 359.3 265.73 364 C267.49 368.7 269.26 374.87 271.03 378.1 C272.79 381.33 274.56 380.17 276.33 383.4 C278.09 386.63 279.54 390.52 281.63 397.5 C283.71 404.48 286.53 417.12 288.83 425.3 C291.13 433.48 293.24 440.87 295.43 446.6 C297.61 452.33 299.8 456.42 301.93 459.7 C304.05 462.98 306.26 464.65 308.15 466.3 C310.04 467.95 312.4 469.05 313.25 469.6" stroke="#e9e40f"/>
<path d="M48.5 473.8 C50.08 473.02 55.08 470.61 58 469.09 C60.92 467.58 63.52 466.23 66.04 464.68 C68.56 463.13 70.87 461.41 73.11 459.8 C75.36 458.18 77.53 457 79.49 455.01 C81.46 453.02 83.46 449.94 84.91 447.85 C86.36 445.76 86.58 446.02 88.17 442.48 C89.77 438.94 92.34 432.48 94.48 426.6 C96.62 420.72 98.84 413.71 101.02 407.19 C103.2 400.67 105.39 394.08 107.55 387.49 C109.72 380.9 111.83 373.49 113.99 367.64 C116.16 361.79 118.37 356.66 120.53 352.41 C122.69 348.15 125.08 345.25 126.97 342.11 C128.86 338.98 129.96 336.66 131.87 333.6 C133.77 330.54 136.24 326.48 138.41 323.74 C140.57 320.99 142.68 318.89 144.85 317.14 C147.01 315.39 149.09 314.39 151.38 313.22 C153.67 312.05 156.01 311.69 158.59 310.14 C161.17 308.59 164.3 305.14 166.84 303.93 C169.38 302.73 171.51 303.71 173.82 302.91 C176.13 302.1 177.98 300.77 180.71 299.08 C183.44 297.39 187.28 294.11 190.2 292.76 C193.12 291.42 196 291.34 198.2 291.01 C200.4 290.68 201.35 291.2 203.4 290.79 C205.45 290.37 209.02 288.88 210.5 288.52 C211.98 288.16 211.13 288.31 212.3 288.62 C213.47 288.92 215.02 290.23 217.5 290.34 C219.98 290.46 224.85 289.18 227.2 289.3 C229.55 289.42 230.13 290.04 231.6 291.07 C233.07 292.1 234.52 293.01 236 295.5 C237.48 297.99 238.88 301.93 240.5 306 C242.12 310.07 244.05 315.56 245.7 319.94 C247.35 324.32 248.82 329.37 250.4 332.3 C251.98 335.23 253.53 334.57 255.2 337.5 C256.87 340.43 258.65 345.48 260.4 349.9 C262.15 354.32 263.93 359.3 265.7 364 C267.47 368.7 269.23 374.87 271 378.1 C272.77 381.33 274.53 380.17 276.3 383.4 C278.07 386.63 279.52 390.52 281.6 397.5 C283.68 404.48 286.5 417.12 288.8 425.3 C291.1 433.48 293.22 440.87 295.4 446.6 C297.58 452.33 299.78 456.42 301.9 459.7 C304.02 462.98 306.25 464.65 308.14 466.3 C310.03 467.95 312.39 469.05 313.24 469.6" stroke="#e8e40f"/>
<path d="M48.5 473.8 C50.08 473.02 55.07 470.65 58 469.14 C60.93 467.64 63.53 466.31 66.06 464.77 C68.59 463.24 70.89 461.53 73.17 459.94 C75.45 458.36 77.71 457.21 79.74 455.26 C81.77 453.32 83.86 450.33 85.36 448.28 C86.87 446.23 87.14 446.47 88.76 442.97 C90.38 439.46 92.94 433.09 95.07 427.26 C97.21 421.42 99.41 414.44 101.58 407.93 C103.74 401.43 105.93 394.85 108.08 388.23 C110.23 381.62 112.34 374.16 114.49 368.26 C116.64 362.35 118.84 357.14 120.99 352.81 C123.14 348.48 125.52 345.47 127.4 342.27 C129.29 339.06 130.4 336.69 132.3 333.6 C134.2 330.51 136.66 326.45 138.81 323.7 C140.96 320.95 143.07 318.86 145.22 317.11 C147.37 315.36 149.45 314.34 151.72 313.18 C154 312.02 156.33 311.69 158.89 310.14 C161.44 308.6 164.54 305.1 167.06 303.89 C169.58 302.67 171.69 303.67 173.98 302.86 C176.28 302.05 178.11 300.72 180.81 299.02 C183.52 297.31 187.3 293.98 190.2 292.62 C193.1 291.26 196 291.19 198.2 290.86 C200.4 290.53 201.35 291.03 203.4 290.63 C205.45 290.23 209.02 288.79 210.5 288.46 C211.98 288.12 211.13 288.31 212.3 288.62 C213.47 288.94 215.02 290.23 217.5 290.36 C219.98 290.49 224.85 289.26 227.2 289.4 C229.55 289.54 230.13 290.16 231.6 291.2 C233.07 292.25 234.52 293.17 236 295.65 C237.48 298.14 238.88 302.05 240.5 306.1 C242.12 310.15 244.05 315.6 245.7 319.96 C247.35 324.33 248.81 329.38 250.39 332.3 C251.97 335.22 253.51 334.57 255.18 337.5 C256.84 340.43 258.63 345.48 260.38 349.9 C262.13 354.32 263.91 359.3 265.68 364 C267.44 368.7 269.21 374.87 270.98 378.1 C272.74 381.33 274.51 380.17 276.28 383.4 C278.04 386.63 279.49 390.52 281.58 397.5 C283.66 404.48 286.48 417.12 288.78 425.3 C291.08 433.48 293.19 440.87 295.38 446.6 C297.56 452.33 299.75 456.42 301.88 459.7 C304 462.98 306.24 464.65 308.13 466.3 C310.02 467.95 312.38 469.05 313.23 469.6" stroke="#e7e310"/>
<path d="M48.5 473.8 C50.08 473.03 55.07 470.68 58 469.19 C60.93 467.7 63.54 466.38 66.08 464.86 C68.61 463.35 70.91 461.65 73.23 460.09 C75.55 458.53 77.89 457.41 79.99 455.52 C82.08 453.62 84.26 450.72 85.82 448.71 C87.38 446.7 87.71 446.92 89.35 443.46 C90.99 439.99 93.53 433.7 95.66 427.91 C97.8 422.11 99.98 415.17 102.14 408.68 C104.29 402.19 106.47 395.61 108.61 388.98 C110.75 382.35 112.84 374.84 114.99 368.88 C117.13 362.92 119.32 357.62 121.46 353.21 C123.6 348.8 125.96 345.69 127.84 342.42 C129.72 339.15 130.84 336.73 132.74 333.6 C134.63 330.47 137.07 326.42 139.21 323.67 C141.36 320.92 143.45 318.83 145.59 317.08 C147.73 315.32 149.8 314.3 152.06 313.14 C154.33 311.99 156.65 311.7 159.18 310.15 C161.72 308.6 164.79 305.06 167.28 303.84 C169.77 302.61 171.87 303.62 174.14 302.81 C176.42 302 178.24 300.68 180.92 298.95 C183.59 297.23 187.32 293.85 190.2 292.47 C193.08 291.1 196 291.05 198.2 290.71 C200.4 290.38 201.35 290.86 203.4 290.47 C205.45 290.09 209.02 288.7 210.5 288.39 C211.98 288.09 211.13 288.3 212.3 288.63 C213.47 288.96 215.02 290.24 217.5 290.38 C219.98 290.53 224.85 289.34 227.2 289.5 C229.55 289.66 230.13 290.29 231.6 291.34 C233.07 292.39 234.52 293.33 236 295.81 C237.48 298.28 238.88 302.17 240.5 306.2 C242.12 310.23 244.05 315.63 245.7 319.98 C247.35 324.33 248.8 329.38 250.38 332.3 C251.95 335.22 253.49 334.57 255.15 337.5 C256.81 340.43 258.6 345.48 260.35 349.9 C262.1 354.32 263.88 359.3 265.65 364 C267.42 368.7 269.18 374.87 270.95 378.1 C272.72 381.33 274.48 380.17 276.25 383.4 C278.02 386.63 279.47 390.52 281.55 397.5 C283.63 404.48 286.45 417.12 288.75 425.3 C291.05 433.48 293.17 440.87 295.35 446.6 C297.53 452.33 299.72 456.42 301.85 459.7 C303.98 462.98 306.23 464.65 308.12 466.3 C310.02 467.95 312.37 469.05 313.22 469.6" stroke="#e6e311"/>
<path d="M48.5 473.8 C50.08 473.04 55.07 470.71 58 469.24 C60.93 467.76 63.55 466.45 66.09 464.95 C68.64 463.46 70.93 461.77 73.28 460.24 C75.64 458.71 78.07 457.62 80.23 455.77 C82.4 453.92 84.66 451.1 86.27 449.13 C87.89 447.16 88.27 447.37 89.94 443.94 C91.6 440.52 94.13 434.31 96.26 428.56 C98.38 422.81 100.55 415.9 102.69 409.42 C104.84 402.95 107 396.38 109.13 389.72 C111.26 383.07 113.35 375.52 115.48 369.5 C117.61 363.48 119.79 358.1 121.92 353.62 C124.05 349.13 126.39 345.91 128.27 342.58 C130.14 339.24 131.28 336.76 133.17 333.6 C135.06 330.44 137.49 326.4 139.62 323.64 C141.75 320.88 143.84 318.8 145.97 317.05 C148.1 315.29 150.15 314.25 152.41 313.1 C154.66 311.95 156.96 311.7 159.48 310.15 C161.99 308.6 165.03 305.02 167.5 303.79 C169.97 302.56 172.05 303.58 174.31 302.76 C176.56 301.95 178.37 300.63 181.02 298.89 C183.67 297.15 187.34 293.72 190.2 292.33 C193.06 290.94 196 290.9 198.2 290.57 C200.4 290.23 201.35 290.69 203.4 290.32 C205.45 289.95 209.02 288.61 210.5 288.33 C211.98 288.05 211.13 288.29 212.3 288.64 C213.47 288.98 215.02 290.24 217.5 290.4 C219.98 290.56 224.85 289.42 227.2 289.6 C229.55 289.78 230.13 290.41 231.6 291.47 C233.07 292.53 234.52 293.49 236 295.96 C237.48 298.43 238.88 302.29 240.5 306.3 C242.12 310.31 244.06 315.67 245.7 320 C247.34 324.34 248.79 329.38 250.36 332.3 C251.93 335.22 253.47 334.57 255.13 337.5 C256.79 340.43 258.58 345.48 260.33 349.9 C262.08 354.32 263.86 359.3 265.63 364 C267.39 368.7 269.16 374.87 270.93 378.1 C272.69 381.33 274.46 380.17 276.23 383.4 C277.99 386.63 279.44 390.52 281.53 397.5 C283.61 404.48 286.43 417.12 288.73 425.3 C291.03 433.48 293.14 440.87 295.33 446.6 C297.51 452.33 299.7 456.42 301.83 459.7 C303.96 462.98 306.21 464.65 308.11 466.3 C310.01 467.95 312.36 469.05 313.21 469.6" stroke="#e6e311"/>
<path d="M48.5 473.8 C50.08 473.05 55.06 470.74 58 469.28 C60.94 467.83 63.56 466.53 66.11 465.05 C68.67 463.56 70.95 461.89 73.34 460.39 C75.74 458.88 78.25 457.83 80.48 456.02 C82.71 454.22 85.05 451.49 86.73 449.56 C88.4 447.63 88.84 447.82 90.52 444.43 C92.21 441.04 94.73 434.92 96.85 429.21 C98.97 423.5 101.12 416.62 103.25 410.17 C105.39 403.71 107.54 397.14 109.66 390.47 C111.78 383.79 113.86 376.19 115.98 370.12 C118.1 364.04 120.26 358.59 122.39 354.02 C124.51 349.46 126.83 346.14 128.7 342.73 C130.57 339.33 131.72 336.79 133.6 333.6 C135.49 330.41 137.9 326.37 140.02 323.61 C142.14 320.84 144.22 318.78 146.34 317.02 C148.46 315.26 150.51 314.2 152.75 313.06 C154.99 311.92 157.28 311.71 159.77 310.16 C162.27 308.6 165.27 304.98 167.72 303.74 C170.17 302.5 172.23 303.53 174.47 302.72 C176.7 301.9 178.5 300.59 181.13 298.83 C183.75 297.08 187.35 293.59 190.2 292.18 C193.05 290.78 196 290.76 198.2 290.42 C200.4 290.08 201.35 290.52 203.4 290.16 C205.45 289.8 209.02 288.52 210.5 288.27 C211.98 288.01 211.13 288.29 212.3 288.65 C213.47 289.01 215.02 290.25 217.5 290.43 C219.98 290.6 224.85 289.51 227.2 289.7 C229.55 289.9 230.13 290.54 231.6 291.61 C233.07 292.67 234.52 293.64 236 296.11 C237.48 298.58 238.88 302.42 240.5 306.4 C242.12 310.39 244.06 315.71 245.7 320.03 C247.34 324.34 248.78 329.39 250.35 332.3 C251.92 335.21 253.44 334.57 255.1 337.5 C256.76 340.43 258.55 345.48 260.3 349.9 C262.05 354.32 263.84 359.3 265.6 364 C267.37 368.7 269.14 374.87 270.9 378.1 C272.67 381.33 274.44 380.17 276.2 383.4 C277.97 386.63 279.42 390.52 281.5 397.5 C283.59 404.48 286.4 417.12 288.7 425.3 C291 433.48 293.12 440.87 295.3 446.6 C297.49 452.33 299.67 456.42 301.8 459.7 C303.94 462.98 306.2 464.65 308.1 466.3 C310 467.95 312.35 469.05 313.2 469.6" stroke="#e5e312"/>
<path d="M48.5 473.8 C50.08 473.06 55.06 470.78 58 469.33 C60.94 467.89 63.57 466.6 66.13 465.14 C68.7 463.67 70.97 462.01 73.4 460.53 C75.83 459.06 78.43 458.04 80.72 456.28 C83.02 454.52 85.45 451.88 87.18 449.98 C88.91 448.09 89.4 448.28 91.11 444.92 C92.82 441.57 95.32 435.53 97.44 429.86 C99.55 424.19 101.69 417.35 103.81 410.91 C105.94 404.47 108.08 397.91 110.19 391.21 C112.3 384.52 114.36 376.87 116.47 370.74 C118.59 364.61 120.74 359.07 122.85 354.43 C124.96 349.78 127.27 346.36 129.14 342.89 C131 339.42 132.16 336.82 134.04 333.6 C135.92 330.38 138.31 326.34 140.43 323.57 C142.54 320.81 144.6 318.75 146.71 316.99 C148.82 315.23 150.86 314.16 153.09 313.02 C155.31 311.88 157.59 311.72 160.07 310.16 C162.54 308.6 165.51 304.94 167.94 303.69 C170.36 302.44 172.41 303.49 174.63 302.67 C176.84 301.85 178.63 300.54 181.23 298.77 C183.82 297 187.37 293.45 190.2 292.04 C193.03 290.62 196 290.61 198.2 290.27 C200.4 289.93 201.35 290.35 203.4 290.01 C205.45 289.66 209.02 288.43 210.5 288.2 C211.98 287.98 211.13 288.28 212.3 288.65 C213.47 289.03 215.02 290.25 217.5 290.45 C219.98 290.64 224.85 289.59 227.2 289.8 C229.55 290.02 230.13 290.67 231.6 291.74 C233.07 292.82 234.52 293.8 236 296.26 C237.48 298.72 238.88 302.54 240.5 306.5 C242.12 310.47 244.06 315.75 245.7 320.05 C247.34 324.35 248.78 329.39 250.34 332.3 C251.9 335.21 253.42 334.57 255.08 337.5 C256.73 340.43 258.53 345.48 260.28 349.9 C262.03 354.32 263.81 359.3 265.58 364 C267.34 368.7 269.11 374.87 270.88 378.1 C272.64 381.33 274.41 380.17 276.18 383.4 C277.94 386.63 279.39 390.52 281.48 397.5 C283.56 404.48 286.38 417.12 288.68 425.3 C290.98 433.48 293.09 440.87 295.28 446.6 C297.46 452.33 299.64 456.42 301.78 459.7 C303.91 462.98 306.19 464.65 308.09 466.3 C309.99 467.95 312.34 469.05 313.19 469.6" stroke="#e4e213"/>
<path d="M48.5 473.8 C50.08 473.06 55.06 470.81 58 469.38 C60.94 467.95 63.58 466.68 66.15 465.23 C68.73 463.78 70.98 462.13 73.45 460.68 C75.92 459.23 78.61 458.24 80.97 456.53 C83.33 454.82 85.85 452.26 87.64 450.41 C89.43 448.56 89.97 448.73 91.7 445.41 C93.43 442.09 95.92 436.14 98.03 430.51 C100.14 424.89 102.26 418.08 104.37 411.66 C106.49 405.23 108.61 398.67 110.71 391.96 C112.81 385.24 114.87 377.54 116.97 371.36 C119.07 365.17 121.21 359.55 123.31 354.83 C125.41 350.11 127.71 346.58 129.57 343.04 C131.43 339.5 132.59 336.85 134.47 333.6 C136.35 330.35 138.73 326.32 140.83 323.54 C142.93 320.77 144.99 318.72 147.09 316.96 C149.19 315.2 151.22 314.11 153.43 312.98 C155.64 311.85 157.91 311.72 160.36 310.16 C162.82 308.61 165.75 304.9 168.16 303.64 C170.56 302.38 172.59 303.44 174.79 302.62 C176.98 301.8 178.77 300.5 181.33 298.71 C183.9 296.92 187.39 293.32 190.2 291.89 C193.01 290.46 196 290.47 198.2 290.13 C200.4 289.78 201.35 290.18 203.4 289.85 C205.45 289.52 209.02 288.34 210.5 288.14 C211.98 287.94 211.13 288.27 212.3 288.66 C213.47 289.05 215.02 290.26 217.5 290.47 C219.98 290.67 224.85 289.67 227.2 289.9 C229.55 290.14 230.13 290.79 231.6 291.88 C233.07 292.96 234.52 293.96 236 296.41 C237.48 298.87 238.88 302.66 240.5 306.6 C242.12 310.55 244.06 315.78 245.7 320.07 C247.34 324.35 248.77 329.39 250.33 332.3 C251.89 335.21 253.4 334.57 255.05 337.5 C256.71 340.43 258.5 345.48 260.25 349.9 C262 354.32 263.79 359.3 265.55 364 C267.32 368.7 269.09 374.87 270.85 378.1 C272.62 381.33 274.39 380.17 276.15 383.4 C277.92 386.63 279.37 390.52 281.45 397.5 C283.54 404.48 286.35 417.12 288.65 425.3 C290.95 433.48 293.07 440.87 295.25 446.6 C297.44 452.33 299.61 456.42 301.75 459.7 C303.89 462.98 306.18 464.65 308.08 466.3 C309.99 467.95 312.33 469.05 313.18 469.6" stroke="#e3e213"/>
<path d="M48.5 473.8 C50.08 473.07 55.05 470.84 58 469.43 C60.95 468.01 63.59 466.75 66.17 465.32 C68.76 463.89 71 462.25 73.51 460.83 C76.02 459.41 78.79 458.45 81.22 456.79 C83.65 455.12 86.25 452.65 88.09 450.84 C89.94 449.02 90.53 449.18 92.29 445.9 C94.04 442.62 96.51 436.75 98.62 431.17 C100.73 425.58 102.83 418.81 104.93 412.4 C107.03 405.99 109.15 399.44 111.24 392.7 C113.33 385.96 115.38 378.22 117.47 371.98 C119.56 365.73 121.69 360.03 123.78 355.23 C125.87 350.44 128.15 346.8 130.01 343.2 C131.86 339.59 133.03 336.88 134.91 333.6 C136.78 330.32 139.14 326.29 141.23 323.51 C143.32 320.73 145.37 318.69 147.46 316.93 C149.55 315.17 151.57 314.07 153.77 312.94 C155.97 311.82 158.23 311.73 160.66 310.17 C163.09 308.61 166 304.86 168.38 303.59 C170.76 302.32 172.77 303.4 174.95 302.57 C177.13 301.75 178.9 300.45 181.44 298.65 C183.98 296.84 187.41 293.19 190.2 291.75 C192.99 290.31 196 290.32 198.2 289.98 C200.4 289.64 201.35 290.01 203.4 289.69 C205.45 289.38 209.02 288.25 210.5 288.07 C211.98 287.9 211.13 288.27 212.3 288.67 C213.47 289.07 215.02 290.26 217.5 290.49 C219.98 290.71 224.85 289.75 227.2 290 C229.55 290.26 230.13 290.92 231.6 292.01 C233.07 293.1 234.52 294.12 236 296.56 C237.48 299.01 238.88 302.78 240.5 306.7 C242.12 310.62 244.06 315.82 245.7 320.09 C247.34 324.35 248.76 329.4 250.31 332.3 C251.87 335.2 253.38 334.57 255.03 337.5 C256.68 340.43 258.48 345.48 260.23 349.9 C261.98 354.32 263.76 359.3 265.53 364 C267.29 368.7 269.06 374.87 270.83 378.1 C272.59 381.33 274.36 380.17 276.13 383.4 C277.89 386.63 279.34 390.52 281.43 397.5 C283.51 404.48 286.33 417.12 288.63 425.3 C290.93 433.48 293.04 440.87 295.23 446.6 C297.41 452.33 299.59 456.42 301.73 459.7 C303.87 462.98 306.16 464.65 308.07 466.3 C309.98 467.95 312.32 469.05 313.17 469.6" stroke="#e2e214"/>
<path d="M48.5 473.8 C50.08 473.08 55.05 470.87 58 469.47 C60.95 468.08 63.59 466.83 66.19 465.41 C68.78 463.99 71.02 462.37 73.57 460.98 C76.11 459.58 78.97 458.66 81.46 457.04 C83.96 455.42 86.65 453.04 88.55 451.26 C90.45 449.49 91.1 449.63 92.87 446.39 C94.65 443.15 97.11 437.36 99.21 431.82 C101.31 426.28 103.4 419.54 105.49 413.15 C107.58 406.75 109.69 400.2 111.77 393.45 C113.85 386.69 115.89 378.9 117.96 372.6 C120.04 366.29 122.16 360.51 124.24 355.64 C126.32 350.76 128.59 347.03 130.44 343.35 C132.29 339.68 133.47 336.91 135.34 333.6 C137.21 330.29 139.55 326.26 141.64 323.48 C143.72 320.69 145.75 318.66 147.83 316.9 C149.91 315.13 151.92 314.02 154.11 312.9 C156.3 311.78 158.54 311.73 160.96 310.17 C163.37 308.61 166.24 304.81 168.6 303.54 C170.96 302.27 172.95 303.35 175.11 302.53 C177.27 301.7 179.03 300.4 181.54 298.58 C184.06 296.76 187.42 293.06 190.2 291.61 C192.98 290.15 196 290.18 198.2 289.83 C200.4 289.49 201.35 289.84 203.4 289.54 C205.45 289.23 209.02 288.15 210.5 288.01 C211.98 287.87 211.13 288.26 212.3 288.68 C213.47 289.09 215.02 290.27 217.5 290.51 C219.98 290.75 224.85 289.83 227.2 290.1 C229.55 290.38 230.13 291.04 231.6 292.15 C233.07 293.25 234.52 294.27 236 296.72 C237.48 299.16 238.88 302.91 240.5 306.8 C242.12 310.7 244.07 315.86 245.7 320.11 C247.33 324.36 248.75 329.4 250.3 332.3 C251.85 335.2 253.35 334.57 255 337.5 C256.65 340.43 258.45 345.48 260.2 349.9 C261.95 354.32 263.74 359.3 265.5 364 C267.27 368.7 269.04 374.87 270.8 378.1 C272.57 381.33 274.34 380.17 276.1 383.4 C277.87 386.63 279.32 390.52 281.4 397.5 C283.49 404.48 286.3 417.12 288.6 425.3 C290.9 433.48 293.02 440.87 295.2 446.6 C297.39 452.33 299.56 456.42 301.7 459.7 C303.85 462.98 306.15 464.65 308.06 466.3 C309.97 467.95 312.31 469.05 313.16 469.6" stroke="#d8e018"/>
<path d="M48.5 473.8 C50.08 473.09 55.05 470.9 58 469.52 C60.95 468.14 63.6 466.9 66.21 465.5 C68.81 464.1 71.04 462.49 73.63 461.13 C76.21 459.76 79.15 458.87 81.71 457.29 C84.27 455.72 87.04 453.43 89 451.69 C90.96 449.95 91.66 450.08 93.46 446.88 C95.26 443.67 97.7 437.97 99.8 432.47 C101.9 426.97 103.97 420.27 106.05 413.89 C108.13 407.51 110.23 400.97 112.29 394.19 C114.36 387.41 116.39 379.57 118.46 373.22 C120.53 366.86 122.64 360.99 124.71 356.04 C126.78 351.09 129.03 347.25 130.87 343.51 C132.72 339.77 133.91 336.94 135.77 333.6 C137.63 330.26 139.97 326.23 142.04 323.45 C144.11 320.66 146.14 318.63 148.21 316.87 C150.27 315.1 152.28 313.98 154.45 312.86 C156.63 311.75 158.86 311.74 161.25 310.18 C163.65 308.61 166.48 304.77 168.82 303.49 C171.15 302.21 173.13 303.31 175.27 302.48 C177.41 301.65 179.16 300.36 181.65 298.52 C184.13 296.69 187.44 292.93 190.2 291.46 C192.96 289.99 196 290.03 198.2 289.68 C200.4 289.34 201.35 289.67 203.4 289.38 C205.45 289.09 209.02 288.06 210.5 287.95 C211.98 287.83 211.13 288.25 212.3 288.68 C213.47 289.11 215.02 290.28 217.5 290.53 C219.98 290.78 224.85 289.91 227.2 290.2 C229.55 290.5 230.13 291.17 231.6 292.28 C233.07 293.39 234.52 294.43 236 296.87 C237.48 299.3 238.88 303.03 240.5 306.9 C242.12 310.78 244.07 315.9 245.7 320.13 C247.33 324.36 248.74 329.4 250.29 332.3 C251.84 335.2 253.33 334.57 254.98 337.5 C256.63 340.43 258.43 345.48 260.18 349.9 C261.93 354.32 263.71 359.3 265.48 364 C267.25 368.7 269.01 374.87 270.78 378.1 C272.55 381.33 274.31 380.17 276.08 383.4 C277.85 386.63 279.3 390.52 281.38 397.5 C283.46 404.48 286.28 417.12 288.58 425.3 C290.88 433.48 293 440.87 295.18 446.6 C297.36 452.33 299.53 456.42 301.68 459.7 C303.82 462.98 306.14 464.65 308.05 466.3 C309.96 467.95 312.3 469.05 313.15 469.6" stroke="#cedf1c"/>
<path d="M48.5 473.8 C50.08 473.09 55.05 470.94 58 469.57 C60.95 468.2 63.61 466.97 66.23 465.59 C68.84 464.21 71.06 462.61 73.68 461.27 C76.3 459.93 79.33 459.07 81.96 457.55 C84.58 456.02 87.44 453.81 89.46 452.12 C91.47 450.42 92.23 450.53 94.05 447.37 C95.87 444.2 98.3 438.58 100.39 433.12 C102.49 427.67 104.54 421 106.61 414.64 C108.68 408.27 110.76 401.74 112.82 394.94 C114.88 388.14 116.9 380.25 118.96 373.83 C121.02 367.42 123.11 361.47 125.17 356.44 C127.23 351.41 129.47 347.47 131.31 343.66 C133.15 339.86 134.35 336.98 136.21 333.6 C138.06 330.22 140.38 326.21 142.44 323.41 C144.51 320.62 146.52 318.6 148.58 316.84 C150.64 315.07 152.63 313.93 154.79 312.82 C156.95 311.71 159.17 311.74 161.55 310.18 C163.92 308.62 166.72 304.73 169.04 303.44 C171.35 302.15 173.31 303.26 175.43 302.43 C177.55 301.6 179.29 300.31 181.75 298.46 C184.21 296.61 187.46 292.8 190.2 291.32 C192.94 289.83 196 289.89 198.2 289.54 C200.4 289.19 201.35 289.5 203.4 289.22 C205.45 288.95 209.02 287.97 210.5 287.88 C211.98 287.79 211.13 288.25 212.3 288.69 C213.47 289.14 215.02 290.28 217.5 290.55 C219.98 290.82 224.85 289.99 227.2 290.31 C229.55 290.62 230.13 291.3 231.6 292.41 C233.07 293.53 234.52 294.59 236 297.02 C237.48 299.45 238.88 303.15 240.5 307.01 C242.12 310.86 244.07 315.93 245.7 320.15 C247.33 324.37 248.73 329.41 250.28 332.3 C251.82 335.19 253.31 334.57 254.95 337.5 C256.6 340.43 258.4 345.48 260.15 349.9 C261.9 354.32 263.69 359.3 265.45 364 C267.22 368.7 268.99 374.87 270.75 378.1 C272.52 381.33 274.29 380.17 276.05 383.4 C277.82 386.63 279.27 390.52 281.35 397.5 C283.44 404.48 286.25 417.12 288.55 425.3 C290.85 433.48 292.97 440.87 295.15 446.6 C297.34 452.33 299.51 456.42 301.65 459.7 C303.8 462.98 306.13 464.65 308.04 466.3 C309.96 467.95 312.29 469.05 313.14 469.6" stroke="#c5dd1f"/>
<path d="M48.5 473.8 C50.08 473.1 55.04 470.97 58 469.62 C60.96 468.26 63.62 467.05 66.25 465.68 C68.87 464.32 71.08 462.73 73.74 461.42 C76.4 460.11 79.51 459.28 82.2 457.8 C84.9 456.32 87.84 454.2 89.91 452.54 C91.98 450.88 92.79 450.98 94.64 447.85 C96.48 444.73 98.9 439.19 100.99 433.77 C103.07 428.36 105.11 421.73 107.17 415.38 C109.23 409.03 111.3 402.5 113.35 395.68 C115.4 388.86 117.41 380.93 119.45 374.45 C121.5 367.98 123.59 361.95 125.63 356.85 C127.68 351.74 129.91 347.69 131.74 343.82 C133.57 339.95 134.79 337.01 136.64 333.6 C138.49 330.19 140.79 326.18 142.85 323.38 C144.9 320.58 146.9 318.57 148.95 316.81 C151 315.04 152.99 313.89 155.13 312.78 C157.28 311.68 159.49 311.75 161.84 310.18 C164.2 308.62 166.97 304.69 169.26 303.39 C171.55 302.09 173.49 303.22 175.59 302.38 C177.69 301.55 179.42 300.27 181.85 298.4 C184.29 296.53 187.48 292.67 190.2 291.17 C192.92 289.67 196 289.74 198.2 289.39 C200.4 289.04 201.35 289.33 203.4 289.07 C205.45 288.81 209.02 287.88 210.5 287.82 C211.98 287.76 211.13 288.24 212.3 288.7 C213.47 289.16 215.02 290.29 217.5 290.57 C219.98 290.86 224.85 290.08 227.2 290.41 C229.55 290.74 230.13 291.42 231.6 292.55 C233.07 293.68 234.52 294.74 236 297.17 C237.48 299.6 238.88 303.27 240.5 307.11 C242.12 310.94 244.07 315.97 245.7 320.17 C247.33 324.37 248.73 329.41 250.26 332.3 C251.8 335.19 253.29 334.57 254.93 337.5 C256.57 340.43 258.38 345.48 260.13 349.9 C261.88 354.32 263.66 359.3 265.43 364 C267.2 368.7 268.96 374.87 270.73 378.1 C272.5 381.33 274.26 380.17 276.03 383.4 C277.8 386.63 279.25 390.52 281.33 397.5 C283.41 404.48 286.23 417.12 288.53 425.3 C290.83 433.48 292.95 440.87 295.13 446.6 C297.31 452.33 299.48 456.42 301.63 459.7 C303.78 462.98 306.11 464.65 308.03 466.3 C309.95 467.95 312.28 469.05 313.13 469.6" stroke="#bbdb23"/>
<path d="M48.5 473.8 C50.08 473.11 55.04 471 58 469.66 C60.96 468.33 63.63 467.12 66.27 465.77 C68.9 464.42 71.1 462.86 73.8 461.57 C76.49 460.28 79.69 459.49 82.45 458.05 C85.21 456.62 88.24 454.59 90.37 452.97 C92.5 451.35 93.35 451.43 95.22 448.34 C97.09 445.25 99.49 439.79 101.58 434.43 C103.66 429.06 105.68 422.46 107.73 416.12 C109.77 409.79 111.84 403.27 113.87 396.42 C115.91 389.58 117.91 381.6 119.95 375.07 C121.99 368.54 124.06 362.43 126.1 357.25 C128.14 352.07 130.35 347.92 132.17 343.98 C134 340.03 135.23 337.04 137.07 333.6 C138.92 330.16 141.21 326.15 143.25 323.35 C145.29 320.54 147.29 318.54 149.33 316.78 C151.36 315.01 153.34 313.84 155.47 312.74 C157.61 311.64 159.8 311.75 162.14 310.19 C164.47 308.62 167.21 304.65 169.48 303.34 C171.75 302.04 173.67 303.17 175.75 302.34 C177.84 301.5 179.55 300.22 181.96 298.34 C184.37 296.45 187.49 292.54 190.2 291.03 C192.91 289.51 196 289.6 198.2 289.24 C200.4 288.89 201.35 289.16 203.4 288.91 C205.45 288.66 209.02 287.79 210.5 287.75 C211.98 287.72 211.13 288.23 212.3 288.71 C213.47 289.18 215.02 290.29 217.5 290.59 C219.98 290.89 224.85 290.16 227.2 290.51 C229.55 290.85 230.13 291.55 231.6 292.68 C233.07 293.82 234.52 294.9 236 297.32 C237.48 299.74 238.88 303.39 240.5 307.21 C242.12 311.02 244.07 316.01 245.7 320.19 C247.33 324.37 248.72 329.42 250.25 332.3 C251.79 335.18 253.26 334.57 254.91 337.5 C256.55 340.43 258.36 345.48 260.11 349.9 C261.86 354.32 263.64 359.3 265.41 364 C267.17 368.7 268.94 374.87 270.71 378.1 C272.47 381.33 274.24 380.17 276.01 383.4 C277.77 386.63 279.22 390.52 281.31 397.5 C283.39 404.48 286.21 417.12 288.51 425.3 C290.81 433.48 292.92 440.87 295.11 446.6 C297.29 452.33 299.45 456.42 301.61 459.7 C303.76 462.98 306.1 464.65 308.02 466.3 C309.94 467.95 312.27 469.05 313.12 469.6" stroke="#afd928"/>
<path d="M48.5 473.8 C50.08 473.12 55.04 471.03 58 469.71 C60.96 468.39 63.64 467.2 66.28 465.86 C68.93 464.53 71.12 462.98 73.85 461.72 C76.59 460.46 79.87 459.7 82.69 458.31 C85.52 456.92 88.64 454.97 90.82 453.39 C93.01 451.82 93.92 451.89 95.81 448.83 C97.7 445.78 100.09 440.4 102.17 435.08 C104.25 429.75 106.25 423.19 108.28 416.87 C110.32 410.55 112.37 404.03 114.4 397.17 C116.43 390.31 118.42 382.28 120.45 375.69 C122.47 369.11 124.54 362.91 126.56 357.65 C128.59 352.39 130.78 348.14 132.61 344.13 C134.43 340.12 135.67 337.07 137.51 333.6 C139.35 330.13 141.62 326.13 143.65 323.32 C145.69 320.51 147.67 318.51 149.7 316.75 C151.73 314.98 153.69 313.8 155.82 312.7 C157.94 311.61 160.12 311.76 162.43 310.19 C164.75 308.62 167.45 304.61 169.7 303.29 C171.94 301.98 173.85 303.13 175.92 302.29 C177.98 301.45 179.68 300.18 182.06 298.28 C184.44 296.38 187.51 292.41 190.2 290.88 C192.89 289.35 196 289.45 198.2 289.1 C200.4 288.74 201.35 288.99 203.4 288.76 C205.45 288.52 209.02 287.7 210.5 287.69 C211.98 287.68 211.13 288.23 212.3 288.71 C213.47 289.2 215.02 290.3 217.5 290.61 C219.98 290.93 224.85 290.24 227.2 290.61 C229.55 290.97 230.13 291.67 231.6 292.82 C233.07 293.96 234.52 295.06 236 297.47 C237.48 299.89 238.88 303.52 240.5 307.31 C242.12 311.1 244.08 316.05 245.7 320.21 C247.32 324.38 248.71 329.42 250.24 332.3 C251.77 335.18 253.24 334.57 254.88 337.5 C256.52 340.43 258.33 345.48 260.08 349.9 C261.83 354.32 263.61 359.3 265.38 364 C267.15 368.7 268.91 374.87 270.68 378.1 C272.45 381.33 274.21 380.17 275.98 383.4 C277.75 386.63 279.2 390.52 281.28 397.5 C283.36 404.48 286.18 417.12 288.48 425.3 C290.78 433.48 292.9 440.87 295.08 446.6 C297.26 452.33 299.43 456.42 301.58 459.7 C303.74 462.98 306.09 464.65 308.01 466.3 C309.93 467.95 312.26 469.05 313.11 469.6" stroke="#9fd630"/>
<path d="M48.5 473.8 C50.08 473.13 55.03 471.07 58 469.76 C60.97 468.45 63.65 467.27 66.3 465.96 C68.95 464.64 71.14 463.1 73.91 461.86 C76.68 460.63 80.05 459.9 82.94 458.56 C85.84 457.22 89.03 455.36 91.28 453.82 C93.52 452.28 94.48 452.34 96.4 449.32 C98.31 446.31 100.68 441.01 102.76 435.73 C104.83 430.44 106.81 423.92 108.84 417.61 C110.87 411.31 112.91 404.8 114.93 397.91 C116.94 391.03 118.93 382.96 120.94 376.31 C122.96 369.67 125.01 363.4 127.03 358.06 C129.04 352.72 131.22 348.36 133.04 344.29 C134.86 340.21 136.11 337.1 137.94 333.6 C139.78 330.1 142.04 326.1 144.06 323.28 C146.08 320.47 148.06 318.49 150.07 316.71 C152.09 314.94 154.05 313.75 156.16 312.66 C158.27 311.58 160.44 311.76 162.73 310.19 C165.02 308.62 167.69 304.57 169.92 303.25 C172.14 301.92 174.04 303.08 176.08 302.24 C178.12 301.4 179.81 300.13 182.17 298.21 C184.52 296.3 187.53 292.28 190.2 290.74 C192.87 289.19 196 289.31 198.2 288.95 C200.4 288.59 201.35 288.82 203.4 288.6 C205.45 288.38 209.02 287.61 210.5 287.63 C211.98 287.65 211.13 288.22 212.3 288.72 C213.47 289.22 215.02 290.3 217.5 290.63 C219.98 290.96 224.85 290.32 227.2 290.71 C229.55 291.09 230.13 291.8 231.6 292.95 C233.07 294.11 234.52 295.22 236 297.63 C237.48 300.03 238.88 303.64 240.5 307.41 C242.12 311.17 244.08 316.08 245.7 320.23 C247.32 324.38 248.7 329.42 250.23 332.3 C251.75 335.18 253.22 334.57 254.86 337.5 C256.49 340.43 258.31 345.48 260.06 349.9 C261.81 354.32 263.59 359.3 265.36 364 C267.12 368.7 268.89 374.87 270.66 378.1 C272.42 381.33 274.19 380.17 275.96 383.4 C277.72 386.63 279.17 390.52 281.26 397.5 C283.34 404.48 286.16 417.12 288.46 425.3 C290.76 433.48 292.87 440.87 295.06 446.6 C297.24 452.33 299.4 456.42 301.56 459.7 C303.71 462.98 306.08 464.65 308 466.3 C309.93 467.95 312.25 469.05 313.1 469.6" stroke="#8ed438"/>
<path d="M48.5 473.8 C50.08 473.13 55.03 471.1 58 469.81 C60.97 468.51 63.66 467.34 66.32 466.05 C68.98 464.75 71.16 463.22 73.97 462.01 C76.78 460.81 80.23 460.11 83.19 458.82 C86.15 457.52 89.43 455.75 91.73 454.25 C94.03 452.75 95.05 452.79 96.99 449.81 C98.92 446.83 101.28 441.62 103.35 436.38 C105.42 431.14 107.38 424.65 109.4 418.36 C111.42 412.07 113.45 405.56 115.45 398.66 C117.46 391.75 119.43 383.63 121.44 376.93 C123.45 370.23 125.49 363.88 127.49 358.46 C129.5 353.05 131.66 348.58 133.48 344.44 C135.29 340.3 136.55 337.13 138.38 333.6 C140.21 330.07 142.45 326.07 144.46 323.25 C146.47 320.43 148.44 318.46 150.45 316.68 C152.45 314.91 154.4 313.7 156.5 312.62 C158.59 311.54 160.75 311.77 163.02 310.2 C165.3 308.63 167.93 304.53 170.14 303.2 C172.34 301.86 174.22 303.04 176.24 302.19 C178.26 301.35 179.94 300.09 182.27 298.15 C184.6 296.22 187.55 292.15 190.2 290.59 C192.85 289.04 196 289.16 198.2 288.8 C200.4 288.45 201.35 288.65 203.4 288.44 C205.45 288.24 209.02 287.52 210.5 287.56 C211.98 287.61 211.13 288.21 212.3 288.73 C213.47 289.24 215.02 290.31 217.5 290.65 C219.98 291 224.85 290.4 227.2 290.81 C229.55 291.21 230.13 291.93 231.6 293.09 C233.07 294.25 234.52 295.37 236 297.78 C237.48 300.18 238.88 303.76 240.5 307.51 C242.12 311.25 244.08 316.12 245.7 320.25 C247.32 324.39 248.69 329.43 250.22 332.3 C251.74 335.17 253.2 334.57 254.83 337.5 C256.47 340.43 258.28 345.48 260.03 349.9 C261.78 354.32 263.56 359.3 265.33 364 C267.1 368.7 268.86 374.87 270.63 378.1 C272.4 381.33 274.16 380.17 275.93 383.4 C277.7 386.63 279.15 390.52 281.23 397.5 C283.31 404.48 286.13 417.12 288.43 425.3 C290.73 433.48 292.85 440.87 295.03 446.6 C297.21 452.33 299.37 456.42 301.53 459.7 C303.69 462.98 306.07 464.65 307.99 466.3 C309.92 467.95 312.24 469.05 313.09 469.6" stroke="#7ed140"/>
<path d="M48.5 473.8 C50.08 473.14 55.03 471.13 58 469.85 C60.97 468.58 63.67 467.42 66.34 466.14 C69.01 464.85 71.17 463.34 74.02 462.16 C76.87 460.98 80.41 460.32 83.43 459.07 C86.46 457.82 89.83 456.14 92.19 454.67 C94.54 453.21 95.61 453.24 97.57 450.3 C99.53 447.36 101.88 442.23 103.94 437.03 C106.01 431.83 107.95 425.37 109.96 419.1 C111.97 412.83 113.99 406.33 115.98 399.4 C117.98 392.48 119.94 384.31 121.94 377.55 C123.93 370.8 125.96 364.36 127.96 358.86 C129.95 353.37 132.1 348.81 133.91 344.6 C135.72 340.39 136.98 337.16 138.81 333.6 C140.64 330.04 142.86 326.04 144.86 323.22 C146.87 320.4 148.82 318.43 150.82 316.65 C152.81 314.88 154.76 313.66 156.84 312.58 C158.92 311.51 161.07 311.77 163.32 310.2 C165.57 308.63 168.18 304.49 170.36 303.15 C172.54 301.8 174.4 302.99 176.4 302.15 C178.4 301.3 180.08 300.04 182.38 298.09 C184.68 296.14 187.56 292.02 190.2 290.45 C192.84 288.88 196 289.02 198.2 288.66 C200.4 288.3 201.35 288.48 203.4 288.29 C205.45 288.09 209.02 287.42 210.5 287.5 C211.98 287.57 211.13 288.21 212.3 288.74 C213.47 289.27 215.02 290.31 217.5 290.68 C219.98 291.04 224.85 290.48 227.2 290.91 C229.55 291.33 230.13 292.05 231.6 293.22 C233.07 294.39 234.52 295.53 236 297.93 C237.48 300.33 238.88 303.88 240.5 307.61 C242.12 311.33 244.08 316.16 245.7 320.28 C247.32 324.39 248.69 329.43 250.2 332.3 C251.72 335.17 253.17 334.57 254.81 337.5 C256.44 340.43 258.26 345.48 260.01 349.9 C261.76 354.32 263.54 359.3 265.31 364 C267.07 368.7 268.84 374.87 270.61 378.1 C272.37 381.33 274.14 380.17 275.91 383.4 C277.67 386.63 279.12 390.52 281.21 397.5 C283.29 404.48 286.11 417.12 288.41 425.3 C290.71 433.48 292.82 440.87 295.01 446.6 C297.19 452.33 299.34 456.42 301.51 459.7 C303.67 462.98 306.05 464.65 307.98 466.3 C309.91 467.95 312.23 469.05 313.08 469.6" stroke="#6dce49"/>
<path d="M48.5 473.8 C50.08 473.15 55.02 471.16 58 469.9 C60.98 468.64 63.68 467.49 66.36 466.23 C69.04 464.96 71.19 463.46 74.08 462.31 C76.97 461.16 80.59 460.53 83.68 459.32 C86.77 458.12 90.23 456.52 92.64 455.1 C95.05 453.68 96.18 453.69 98.16 450.79 C100.14 447.89 102.47 442.84 104.53 437.68 C106.59 432.53 108.52 426.1 110.52 419.85 C112.52 413.59 114.52 407.09 116.51 400.15 C118.49 393.2 120.45 384.99 122.43 378.17 C124.42 371.36 126.43 364.84 128.42 359.27 C130.41 353.7 132.54 349.03 134.34 344.75 C136.15 340.47 137.42 337.19 139.24 333.6 C141.06 330.01 143.28 326.02 145.27 323.19 C147.26 320.36 149.21 318.4 151.19 316.62 C153.18 314.85 155.11 313.61 157.18 312.54 C159.25 311.47 161.38 311.78 163.62 310.21 C165.85 308.63 168.42 304.45 170.58 303.1 C172.73 301.75 174.58 302.94 176.56 302.1 C178.54 301.26 180.21 300 182.48 298.03 C184.75 296.06 187.58 291.89 190.2 290.31 C192.82 288.72 196 288.87 198.2 288.51 C200.4 288.15 201.35 288.31 203.4 288.13 C205.45 287.95 209.02 287.33 210.5 287.44 C211.98 287.54 211.13 288.2 212.3 288.74 C213.47 289.29 215.02 290.32 217.5 290.7 C219.98 291.07 224.85 290.56 227.2 291.01 C229.55 291.45 230.13 292.18 231.6 293.36 C233.07 294.53 234.52 295.69 236 298.08 C237.48 300.47 238.88 304.01 240.5 307.71 C242.12 311.41 244.08 316.2 245.7 320.3 C247.32 324.39 248.68 329.43 250.19 332.3 C251.7 335.17 253.15 334.57 254.78 337.5 C256.41 340.43 258.23 345.48 259.98 349.9 C261.73 354.32 263.52 359.3 265.28 364 C267.05 368.7 268.82 374.87 270.58 378.1 C272.35 381.33 274.12 380.17 275.88 383.4 C277.65 386.63 279.1 390.52 281.18 397.5 C283.27 404.48 286.08 417.12 288.38 425.3 C290.68 433.48 292.8 440.87 294.98 446.6 C297.17 452.33 299.32 456.42 301.48 459.7 C303.65 462.98 306.04 464.65 307.97 466.3 C309.9 467.95 312.22 469.05 313.07 469.6" stroke="#60cc56"/>
<path d="M48.5 473.8 C50.08 473.16 55.02 471.22 58 469.98 C60.98 468.75 63.7 467.62 66.39 466.39 C69.09 465.15 71.23 463.67 74.18 462.57 C77.13 461.47 80.9 460.89 84.11 459.77 C87.32 458.65 90.93 457.2 93.44 455.85 C95.95 454.5 97.17 454.48 99.19 451.65 C101.22 448.81 103.52 443.91 105.57 438.83 C107.62 433.75 109.53 427.39 111.5 421.16 C113.48 414.93 115.47 408.44 117.43 401.46 C119.4 394.48 121.34 386.18 123.31 379.26 C125.27 372.35 127.27 365.68 129.24 359.98 C131.2 354.27 133.31 349.42 135.11 345.03 C136.9 340.63 138.2 337.25 140.01 333.6 C141.82 329.95 144 325.97 145.98 323.13 C147.95 320.29 149.88 318.35 151.85 316.57 C153.82 314.79 155.73 313.53 157.78 312.47 C159.83 311.41 161.94 311.79 164.14 310.21 C166.33 308.63 168.84 304.38 170.96 303.01 C173.08 301.64 174.89 302.86 176.84 302.02 C178.79 301.17 180.44 299.92 182.66 297.92 C184.89 295.93 187.61 291.66 190.2 290.05 C192.79 288.44 196 288.62 198.2 288.25 C200.4 287.89 201.35 288.01 203.4 287.86 C205.45 287.7 209.02 287.17 210.5 287.32 C211.98 287.47 211.13 288.19 212.3 288.76 C213.47 289.33 215.02 290.33 217.5 290.73 C219.98 291.14 224.85 290.71 227.2 291.18 C229.55 291.66 230.13 292.4 231.6 293.59 C233.07 294.79 234.52 295.96 236 298.35 C237.48 300.73 238.88 304.22 240.5 307.88 C242.12 311.55 244.09 316.26 245.7 320.33 C247.31 324.4 248.66 329.44 250.17 332.3 C251.68 335.16 253.11 334.57 254.74 337.5 C256.37 340.43 258.19 345.48 259.94 349.9 C261.69 354.32 263.47 359.3 265.24 364 C267.01 368.7 268.77 374.87 270.54 378.1 C272.31 381.33 274.07 380.17 275.84 383.4 C277.61 386.63 279.06 390.52 281.14 397.5 C283.22 404.48 286.04 417.12 288.34 425.3 C290.64 433.48 292.76 440.87 294.94 446.6 C297.12 452.33 299.27 456.42 301.44 459.7 C303.61 462.98 306.02 464.65 307.96 466.3 C309.89 467.95 312.21 469.05 313.06 469.6" stroke="#47c86f"/>
<path d="M48.5 473.8 C50.08 473.18 55.01 471.28 58 470.07 C60.99 468.86 63.71 467.75 66.43 466.55 C69.14 465.34 71.26 463.88 74.28 462.83 C77.3 461.77 81.22 461.26 84.55 460.22 C87.87 459.18 91.63 457.88 94.24 456.6 C96.85 455.32 98.16 455.28 100.23 452.51 C102.29 449.74 104.57 444.98 106.61 439.98 C108.66 434.97 110.53 428.67 112.49 422.47 C114.44 416.27 116.41 409.79 118.36 402.77 C120.31 395.75 122.23 387.37 124.18 380.35 C126.13 373.34 128.1 366.53 130.05 360.69 C132 354.85 134.08 349.81 135.87 345.3 C137.66 340.78 138.97 337.3 140.77 333.6 C142.57 329.9 144.73 325.92 146.69 323.07 C148.64 320.23 150.56 318.3 152.51 316.52 C154.45 314.74 156.35 313.45 158.38 312.4 C160.41 311.36 162.49 311.77 164.66 310.24 C166.82 308.7 169.27 304.55 171.35 303.19 C173.43 301.84 175.21 302.95 177.13 302.09 C179.04 301.23 180.67 299.99 182.85 298.02 C185.03 296.05 187.64 291.86 190.2 290.27 C192.76 288.68 196 288.84 198.2 288.48 C200.4 288.11 201.35 288.27 203.4 288.09 C205.45 287.92 209.02 287.31 210.5 287.42 C211.98 287.53 211.13 288.21 212.3 288.77 C213.47 289.33 215.02 290.34 217.5 290.77 C219.98 291.2 224.85 290.85 227.2 291.36 C229.55 291.87 230.13 292.62 231.6 293.83 C233.07 295.04 234.52 296.24 236 298.61 C237.48 300.99 238.88 304.44 240.5 308.06 C242.12 311.69 244.09 316.33 245.7 320.37 C247.31 324.41 248.65 329.44 250.15 332.3 C251.65 335.16 253.07 334.57 254.7 337.5 C256.32 340.43 258.15 345.48 259.9 349.9 C261.65 354.32 263.43 359.3 265.2 364 C266.96 368.7 268.73 374.87 270.5 378.1 C272.26 381.33 274.03 380.17 275.8 383.4 C277.56 386.63 279.01 390.52 281.1 397.5 C283.18 404.48 286 417.12 288.3 425.3 C290.6 433.48 292.71 440.87 294.9 446.6 C297.08 452.33 299.22 456.42 301.4 459.7 C303.57 462.98 306 464.65 307.94 466.3 C309.88 467.95 312.19 469.05 313.04 469.6" stroke="#32c487"/>
<path d="M48.5 473.8 C50.08 473.19 55.01 471.33 58 470.15 C60.99 468.97 63.73 467.88 66.46 466.71 C69.19 465.53 71.29 464.1 74.38 463.09 C77.47 462.08 81.54 461.62 84.98 460.66 C88.42 459.71 92.33 458.57 95.04 457.35 C97.75 456.13 99.16 456.07 101.26 453.37 C103.36 450.66 105.62 446.06 107.65 441.12 C109.69 436.19 111.53 429.95 113.47 423.78 C115.41 417.6 117.36 411.13 119.29 404.08 C121.22 397.02 123.12 388.56 125.05 381.44 C126.98 374.33 128.94 367.38 130.87 361.4 C132.8 355.42 134.86 350.2 136.63 345.57 C138.41 340.94 139.74 337.36 141.53 333.6 C143.33 329.84 145.46 325.87 147.4 323.02 C149.34 320.16 151.23 318.24 153.16 316.46 C155.09 314.68 156.98 313.37 158.98 312.33 C160.98 311.3 163.05 311.75 165.18 310.27 C167.3 308.79 169.7 304.79 171.74 303.44 C173.77 302.1 175.53 303.08 177.41 302.2 C179.29 301.32 180.9 300.09 183.03 298.16 C185.16 296.23 187.67 292.17 190.2 290.61 C192.73 289.05 196 289.18 198.2 288.82 C200.4 288.46 201.35 288.67 203.4 288.46 C205.45 288.25 209.02 287.52 210.5 287.57 C211.98 287.62 211.13 288.24 212.3 288.78 C213.47 289.32 215.02 290.35 217.5 290.81 C219.98 291.26 224.85 290.99 227.2 291.54 C229.55 292.08 230.13 292.84 231.6 294.07 C233.07 295.29 234.52 296.52 236 298.88 C237.48 301.24 238.88 304.65 240.5 308.24 C242.12 311.83 244.1 316.4 245.7 320.41 C247.3 324.42 248.63 329.45 250.13 332.3 C251.62 335.15 253.03 334.57 254.65 337.5 C256.27 340.43 258.1 345.48 259.85 349.9 C261.6 354.32 263.39 359.3 265.15 364 C266.92 368.7 268.69 374.87 270.45 378.1 C272.22 381.33 273.99 380.17 275.75 383.4 C277.52 386.63 278.97 390.52 281.05 397.5 C283.14 404.48 285.95 417.12 288.25 425.3 C290.55 433.48 292.67 440.87 294.85 446.6 C297.04 452.33 299.17 456.42 301.35 459.7 C303.53 462.98 305.98 464.65 307.92 466.3 C309.87 467.95 312.17 469.05 313.02 469.6" stroke="#26c29d"/>
<path d="M48.5 473.8 C50.08 473.21 55 471.39 58 470.23 C61 469.08 63.75 468.02 66.49 466.87 C69.24 465.72 71.33 464.31 74.48 463.35 C77.63 462.39 81.85 461.99 85.41 461.11 C88.97 460.24 93.03 459.25 95.84 458.1 C98.65 456.95 100.15 456.87 102.29 454.23 C104.44 451.59 106.67 447.13 108.69 442.27 C110.72 437.41 112.53 431.24 114.45 425.09 C116.37 418.94 118.3 412.48 120.21 405.39 C122.13 398.3 124.01 389.75 125.93 382.53 C127.84 375.32 129.77 368.22 131.69 362.11 C133.6 355.99 135.63 350.6 137.4 345.85 C139.17 341.09 140.51 337.41 142.3 333.6 C144.08 329.79 146.19 325.83 148.11 322.96 C150.03 320.1 151.91 318.19 153.82 316.41 C155.73 314.63 157.6 313.28 159.58 312.26 C161.56 311.25 163.61 311.73 165.7 310.3 C167.79 308.88 170.12 305.03 172.12 303.69 C174.12 302.36 175.84 303.21 177.69 302.31 C179.54 301.41 181.13 300.2 183.21 298.3 C185.3 296.41 187.7 292.47 190.2 290.95 C192.7 289.43 196 289.52 198.2 289.16 C200.4 288.81 201.35 289.07 203.4 288.83 C205.45 288.59 209.02 287.72 210.5 287.72 C211.98 287.72 211.13 288.28 212.3 288.8 C213.47 289.32 215.02 290.36 217.5 290.84 C219.98 291.33 224.85 291.14 227.2 291.71 C229.55 292.29 230.13 293.06 231.6 294.3 C233.07 295.54 234.52 296.79 236 299.15 C237.48 301.5 238.88 304.87 240.5 308.41 C242.12 311.96 244.1 316.46 245.7 320.44 C247.3 324.42 248.62 329.46 250.1 332.3 C251.59 335.14 252.99 334.57 254.61 337.5 C256.23 340.43 258.06 345.48 259.81 349.9 C261.56 354.32 263.34 359.3 265.11 364 C266.88 368.7 268.64 374.87 270.41 378.1 C272.18 381.33 273.94 380.17 275.71 383.4 C277.48 386.63 278.93 390.52 281.01 397.5 C283.09 404.48 285.91 417.12 288.21 425.3 C290.51 433.48 292.63 440.87 294.81 446.6 C296.99 452.33 299.13 456.42 301.31 459.7 C303.49 462.98 305.95 464.65 307.9 466.3 C309.85 467.95 312.15 469.05 313 469.6" stroke="#1abfb4"/>
<path d="M48.5 473.8 C50.08 473.22 55 471.45 58 470.32 C61 469.19 63.76 468.15 66.53 467.03 C69.29 465.91 71.36 464.52 74.58 463.61 C77.8 462.7 82.17 462.35 85.85 461.56 C89.52 460.76 93.73 459.93 96.64 458.85 C99.55 457.77 101.14 457.66 103.33 455.09 C105.51 452.52 107.71 448.2 109.73 443.42 C111.75 438.64 113.54 432.52 115.44 426.4 C117.34 420.28 119.25 413.83 121.14 406.7 C123.03 399.57 124.91 390.94 126.8 383.62 C128.69 376.31 130.61 369.07 132.5 362.82 C134.4 356.57 136.4 350.99 138.16 346.12 C139.92 341.25 141.28 337.47 143.06 333.6 C144.84 329.73 146.92 325.78 148.82 322.9 C150.72 320.03 152.58 318.14 154.48 316.36 C156.37 314.57 158.22 313.2 160.18 312.19 C162.14 311.19 164.16 311.71 166.22 310.34 C168.27 308.96 170.55 305.26 172.51 303.94 C174.47 302.63 176.16 303.34 177.98 302.42 C179.79 301.51 181.36 300.3 183.4 298.45 C185.43 296.59 187.73 292.78 190.2 291.29 C192.67 289.8 196 289.86 198.2 289.51 C200.4 289.16 201.35 289.47 203.4 289.19 C205.45 288.92 209.02 287.93 210.5 287.87 C211.98 287.81 211.13 288.31 212.3 288.81 C213.47 289.31 215.02 290.37 217.5 290.88 C219.98 291.39 224.85 291.28 227.2 291.89 C229.55 292.5 230.13 293.29 231.6 294.54 C233.07 295.79 234.52 297.07 236 299.41 C237.48 301.76 238.88 305.08 240.5 308.59 C242.12 312.1 244.1 316.53 245.7 320.48 C247.3 324.43 248.61 329.46 250.08 332.3 C251.56 335.14 252.95 334.57 254.57 337.5 C256.18 340.43 258.02 345.48 259.77 349.9 C261.52 354.32 263.3 359.3 265.07 364 C266.83 368.7 268.6 374.87 270.37 378.1 C272.13 381.33 273.9 380.17 275.67 383.4 C277.43 386.63 278.88 390.52 280.97 397.5 C283.05 404.48 285.87 417.12 288.17 425.3 C290.47 433.48 292.58 440.87 294.77 446.6 C296.95 452.33 299.08 456.42 301.27 459.7 C303.45 462.98 305.93 464.65 307.89 466.3 C309.84 467.95 312.14 469.05 312.99 469.6" stroke="#15bcc0"/>
<path d="M48.5 473.8 C50.08 473.23 54.99 471.5 58 470.4 C61.01 469.3 63.78 468.28 66.56 467.19 C69.34 466.1 71.39 464.73 74.68 463.87 C77.97 463 82.49 462.72 86.28 462 C90.07 461.29 94.43 460.61 97.44 459.6 C100.45 458.59 102.14 458.45 104.36 455.95 C106.58 453.44 108.76 449.27 110.77 444.56 C112.78 439.86 114.54 433.8 116.42 427.71 C118.3 421.62 120.19 415.17 122.07 408.01 C123.94 400.84 125.8 392.13 127.67 384.71 C129.55 377.3 131.44 369.91 133.32 363.53 C135.2 357.14 137.17 351.38 138.92 346.39 C140.67 341.4 142.06 337.52 143.82 333.6 C145.59 329.68 147.64 325.73 149.53 322.85 C151.41 319.97 153.26 318.09 155.13 316.3 C157.01 314.52 158.85 313.11 160.78 312.12 C162.71 311.13 164.72 311.69 166.74 310.37 C168.76 309.05 170.98 305.5 172.9 304.2 C174.82 302.89 176.48 303.47 178.26 302.53 C180.04 301.6 181.59 300.41 183.58 298.59 C185.57 296.78 187.76 293.08 190.2 291.63 C192.64 290.17 196 290.2 198.2 289.85 C200.4 289.51 201.35 289.87 203.4 289.56 C205.45 289.25 209.02 288.14 210.5 288.02 C211.98 287.9 211.13 288.34 212.3 288.82 C213.47 289.31 215.02 290.38 217.5 290.92 C219.98 291.46 224.85 291.42 227.2 292.07 C229.55 292.71 230.13 293.51 231.6 294.78 C233.07 296.04 234.52 297.35 236 299.68 C237.48 302.01 238.88 305.3 240.5 308.77 C242.12 312.24 244.11 316.59 245.7 320.52 C247.29 324.44 248.59 329.47 250.06 332.3 C251.53 335.13 252.91 334.57 254.52 337.5 C256.13 340.43 257.97 345.48 259.72 349.9 C261.47 354.32 263.26 359.3 265.02 364 C266.79 368.7 268.56 374.87 270.32 378.1 C272.09 381.33 273.86 380.17 275.62 383.4 C277.39 386.63 278.84 390.52 280.92 397.5 C283.01 404.48 285.82 417.12 288.12 425.3 C290.42 433.48 292.54 440.87 294.72 446.6 C296.91 452.33 299.03 456.42 301.22 459.7 C303.41 462.98 305.91 464.65 307.87 466.3 C309.83 467.95 312.12 469.05 312.97 469.6" stroke="#11bacb"/>
<path d="M48.5 473.8 C50.08 473.24 54.99 471.54 58 470.45 C61.01 469.36 63.79 468.36 66.58 467.28 C69.37 466.21 71.41 464.86 74.74 464.02 C78.07 463.19 82.68 462.93 86.54 462.27 C90.4 461.61 94.85 461.02 97.92 460.05 C100.99 459.08 102.73 458.93 104.98 456.46 C107.23 454 109.39 449.91 111.4 445.25 C113.4 440.59 115.14 434.57 117.01 428.49 C118.88 422.42 120.76 415.98 122.62 408.79 C124.49 401.61 126.33 392.84 128.2 385.37 C130.06 377.89 131.95 370.42 133.81 363.95 C135.67 357.49 137.64 351.62 139.38 346.56 C141.13 341.5 142.52 337.56 144.28 333.6 C146.04 329.64 148.08 325.7 149.95 322.81 C151.83 319.93 153.66 318.06 155.53 316.27 C157.39 314.48 159.22 313.06 161.14 312.08 C163.06 311.1 165.05 311.68 167.05 310.39 C169.05 309.1 171.23 305.64 173.13 304.35 C175.03 303.05 176.67 303.54 178.43 302.6 C180.19 301.66 181.73 300.48 183.69 298.68 C185.65 296.88 187.78 293.27 190.2 291.83 C192.62 290.39 196 290.4 198.2 290.06 C200.4 289.72 201.35 290.11 203.4 289.78 C205.45 289.46 209.02 288.27 210.5 288.11 C211.98 287.95 211.13 288.36 212.3 288.83 C213.47 289.3 215.02 290.38 217.5 290.94 C219.98 291.5 224.85 291.51 227.2 292.17 C229.55 292.84 230.13 293.64 231.6 294.92 C233.07 296.2 234.52 297.51 236 299.84 C237.48 302.17 238.88 305.42 240.5 308.87 C242.12 312.32 244.11 316.63 245.7 320.54 C247.29 324.44 248.58 329.47 250.05 332.3 C251.51 335.13 252.89 334.57 254.5 337.5 C256.1 340.43 257.95 345.48 259.7 349.9 C261.45 354.32 263.23 359.3 265 364 C266.76 368.7 268.53 374.87 270.3 378.1 C272.06 381.33 273.83 380.17 275.6 383.4 C277.36 386.63 278.81 390.52 280.9 397.5 C282.98 404.48 285.8 417.12 288.1 425.3 C290.4 433.48 292.51 440.87 294.7 446.6 C296.88 452.33 299 456.42 301.2 459.7 C303.39 462.98 305.9 464.65 307.86 466.3 C309.82 467.95 312.11 469.05 312.96 469.6" stroke="#0fb9d1"/>
<path d="M48.5 473.8 C50.08 473.25 54.98 471.57 58 470.5 C61.02 469.43 63.8 468.43 66.6 467.38 C69.4 466.33 71.43 464.99 74.8 464.18 C78.17 463.37 82.87 463.15 86.8 462.54 C90.73 461.93 95.27 461.43 98.4 460.5 C101.53 459.57 103.33 459.41 105.6 456.98 C107.87 454.55 110.02 450.56 112.02 445.94 C114.02 441.32 115.74 435.34 117.6 429.28 C119.46 423.22 121.33 416.79 123.18 409.58 C125.03 402.37 126.87 393.55 128.72 386.02 C130.57 378.49 132.45 370.93 134.3 364.38 C136.15 357.83 138.1 351.85 139.84 346.72 C141.58 341.59 142.98 337.59 144.74 333.6 C146.5 329.61 148.52 325.67 150.38 322.78 C152.24 319.89 154.07 318.03 155.92 316.24 C157.77 314.45 159.59 313.01 161.5 312.04 C163.41 311.07 165.38 311.67 167.36 310.41 C169.34 309.15 171.49 305.79 173.36 304.5 C175.23 303.21 176.86 303.62 178.6 302.67 C180.34 301.71 181.87 300.54 183.8 298.77 C185.73 296.99 187.8 293.45 190.2 292.03 C192.6 290.62 196 290.61 198.2 290.27 C200.4 289.93 201.35 290.34 203.4 290 C205.45 289.66 209.02 288.39 210.5 288.2 C211.98 288.01 211.13 288.38 212.3 288.84 C213.47 289.3 215.02 290.39 217.5 290.96 C219.98 291.53 224.85 291.6 227.2 292.28 C229.55 292.96 230.13 293.77 231.6 295.06 C233.07 296.35 234.52 297.68 236 300 C237.48 302.32 238.88 305.55 240.5 308.98 C242.12 312.41 244.11 316.67 245.7 320.56 C247.29 324.45 248.57 329.48 250.03 332.3 C251.5 335.12 252.86 334.57 254.47 337.5 C256.08 340.43 257.92 345.48 259.67 349.9 C261.42 354.32 263.2 359.3 264.97 364 C266.74 368.7 268.5 374.87 270.27 378.1 C272.04 381.33 273.8 380.17 275.57 383.4 C277.34 386.63 278.79 390.52 280.87 397.5 C282.95 404.48 285.77 417.12 288.07 425.3 C290.37 433.48 292.49 440.87 294.67 446.6 C296.85 452.33 298.97 456.42 301.17 459.7 C303.37 462.98 305.88 464.65 307.85 466.3 C309.81 467.95 312.1 469.05 312.95 469.6" stroke="#0fb7d6"/>
<path d="M48.5 473.8 C50.08 473.26 54.98 471.6 58 470.55 C61.02 469.5 63.81 468.51 66.62 467.48 C69.43 466.44 71.45 465.11 74.86 464.34 C78.27 463.56 83.06 463.37 87.06 462.81 C91.06 462.24 95.69 461.84 98.88 460.95 C102.07 460.06 103.93 459.88 106.22 457.5 C108.51 455.11 110.65 451.2 112.64 446.63 C114.64 442.06 116.34 436.11 118.19 430.07 C120.04 424.02 121.89 417.6 123.74 410.37 C125.58 403.13 127.4 394.27 129.24 386.67 C131.09 379.08 132.95 371.44 134.79 364.81 C136.63 358.17 138.56 352.09 140.3 346.88 C142.03 341.68 143.45 337.62 145.2 333.6 C146.95 329.58 148.95 325.64 150.81 322.75 C152.66 319.85 154.47 318 156.31 316.21 C158.16 314.42 159.97 312.96 161.86 312 C163.75 311.03 165.72 311.65 167.67 310.43 C169.63 309.2 171.74 305.93 173.59 304.65 C175.44 303.36 177.05 303.7 178.77 302.73 C180.49 301.77 182 300.6 183.91 298.85 C185.81 297.1 187.82 293.63 190.2 292.24 C192.58 290.84 196 290.81 198.2 290.47 C200.4 290.14 201.35 290.58 203.4 290.22 C205.45 289.86 209.02 288.52 210.5 288.29 C211.98 288.06 211.13 288.4 212.3 288.85 C213.47 289.3 215.02 290.39 217.5 290.98 C219.98 291.57 224.85 291.68 227.2 292.39 C229.55 293.09 230.13 293.91 231.6 295.2 C233.07 296.5 234.52 297.85 236 300.16 C237.48 302.47 238.88 305.68 240.5 309.09 C242.12 312.49 244.11 316.71 245.7 320.58 C247.29 324.45 248.56 329.48 250.02 332.3 C251.48 335.12 252.84 334.57 254.44 337.5 C256.05 340.43 257.89 345.48 259.64 349.9 C261.39 354.32 263.18 359.3 264.94 364 C266.71 368.7 268.48 374.87 270.24 378.1 C272.01 381.33 273.78 380.17 275.54 383.4 C277.31 386.63 278.76 390.52 280.84 397.5 C282.93 404.48 285.74 417.12 288.04 425.3 C290.34 433.48 292.46 440.87 294.64 446.6 C296.83 452.33 298.95 456.42 301.14 459.7 C303.34 462.98 305.87 464.65 307.84 466.3 C309.8 467.95 312.09 469.05 312.94 469.6" stroke="#12b4d9"/>
<path d="M48.5 473.8 C50.08 473.27 54.98 471.64 58 470.6 C61.02 469.56 63.82 468.59 66.64 467.57 C69.46 466.55 71.47 465.24 74.92 464.49 C78.37 463.74 83.25 463.59 87.32 463.08 C91.39 462.56 96.11 462.24 99.36 461.4 C102.61 460.56 104.52 460.36 106.84 458.01 C109.16 455.66 111.28 451.84 113.27 447.32 C115.26 442.79 116.94 436.88 118.78 430.85 C120.62 424.82 122.46 418.41 124.29 411.15 C126.12 403.9 127.94 394.98 129.77 387.33 C131.6 379.67 133.45 371.95 135.28 365.23 C137.11 358.52 139.03 352.32 140.76 347.05 C142.49 341.78 143.91 337.66 145.66 333.6 C147.4 329.54 149.39 325.62 151.23 322.71 C153.07 319.81 154.88 317.97 156.71 316.18 C158.54 314.38 160.34 312.91 162.22 311.96 C164.1 311 166.05 311.64 167.98 310.45 C169.92 309.25 172 306.07 173.82 304.8 C175.65 303.52 177.24 303.78 178.94 302.8 C180.64 301.82 182.14 300.67 184.02 298.94 C185.9 297.21 187.84 293.82 190.2 292.44 C192.56 291.06 196 291.01 198.2 290.68 C200.4 290.35 201.35 290.82 203.4 290.44 C205.45 290.06 209.02 288.64 210.5 288.38 C211.98 288.12 211.13 288.42 212.3 288.86 C213.47 289.29 215.02 290.4 217.5 291 C219.98 291.61 224.85 291.77 227.2 292.49 C229.55 293.22 230.13 294.04 231.6 295.34 C233.07 296.65 234.52 298.01 236 300.32 C237.48 302.63 238.88 305.81 240.5 309.19 C242.12 312.57 244.12 316.75 245.7 320.6 C247.28 324.46 248.56 329.48 250.01 332.3 C251.46 335.12 252.82 334.57 254.42 337.5 C256.02 340.43 257.87 345.48 259.62 349.9 C261.37 354.32 263.15 359.3 264.92 364 C266.68 368.7 268.45 374.87 270.22 378.1 C271.98 381.33 273.75 380.17 275.52 383.4 C277.28 386.63 278.73 390.52 280.82 397.5 C282.9 404.48 285.72 417.12 288.02 425.3 C290.32 433.48 292.43 440.87 294.62 446.6 C296.8 452.33 298.92 456.42 301.12 459.7 C303.32 462.98 305.86 464.65 307.83 466.3 C309.8 467.95 312.08 469.05 312.93 469.6" stroke="#14b2dc"/>
<path d="M48.5 473.8 C50.08 473.27 54.97 471.67 58 470.65 C61.03 469.63 63.83 468.67 66.66 467.67 C69.49 466.67 71.49 465.37 74.98 464.65 C78.47 463.93 83.44 463.81 87.58 463.34 C91.72 462.88 96.53 462.65 99.84 461.85 C103.15 461.05 105.12 460.84 107.46 458.53 C109.8 456.22 111.91 452.49 113.89 448 C115.88 443.52 117.54 437.65 119.37 431.64 C121.2 425.63 123.03 419.21 124.85 411.94 C126.67 404.66 128.47 395.7 130.29 387.98 C132.11 380.27 133.95 372.45 135.77 365.66 C137.59 358.86 139.49 352.56 141.21 347.21 C142.94 341.87 144.37 337.69 146.11 333.6 C147.85 329.51 149.83 325.59 151.66 322.68 C153.49 319.77 155.28 317.94 157.1 316.14 C158.92 314.35 160.71 312.86 162.58 311.91 C164.45 310.97 166.38 311.63 168.3 310.47 C170.21 309.31 172.25 306.21 174.06 304.95 C175.86 303.68 177.43 303.85 179.11 302.87 C180.79 301.88 182.28 300.73 184.13 299.03 C185.98 297.32 187.85 294 190.2 292.64 C192.54 291.29 196 291.22 198.2 290.89 C200.4 290.56 201.35 291.06 203.4 290.66 C205.45 290.26 209.02 288.77 210.5 288.47 C211.98 288.17 211.13 288.44 212.3 288.86 C213.47 289.29 215.02 290.4 217.5 291.03 C219.98 291.65 224.85 291.85 227.2 292.6 C229.55 293.34 230.13 294.17 231.6 295.49 C233.07 296.8 234.52 298.18 236 300.48 C237.48 302.78 238.88 305.94 240.5 309.3 C242.12 312.66 244.12 316.79 245.7 320.63 C247.28 324.46 248.55 329.49 250 332.3 C251.44 335.11 252.79 334.57 254.39 337.5 C255.99 340.43 257.84 345.48 259.59 349.9 C261.34 354.32 263.13 359.3 264.89 364 C266.66 368.7 268.43 374.87 270.19 378.1 C271.96 381.33 273.73 380.17 275.49 383.4 C277.26 386.63 278.71 390.52 280.79 397.5 C282.88 404.48 285.69 417.12 287.99 425.3 C290.29 433.48 292.41 440.87 294.59 446.6 C296.78 452.33 298.89 456.42 301.09 459.7 C303.3 462.98 305.85 464.65 307.82 466.3 C309.79 467.95 312.07 469.05 312.92 469.6" stroke="#17afe0"/>
<path d="M48.5 473.8 C50.08 473.28 54.97 471.71 58 470.7 C61.03 469.69 63.84 468.75 66.68 467.76 C69.52 466.78 71.51 465.5 75.04 464.8 C78.57 464.11 83.63 464.03 87.84 463.61 C92.05 463.19 96.95 463.06 100.32 462.3 C103.69 461.54 105.71 461.31 108.08 459.04 C110.45 456.78 112.54 453.13 114.52 448.69 C116.5 444.26 118.15 438.42 119.96 432.42 C121.77 426.43 123.59 420.02 125.4 412.72 C127.21 405.43 129.01 396.41 130.82 388.64 C132.63 380.86 134.45 372.96 136.26 366.08 C138.07 359.21 139.95 352.79 141.67 347.38 C143.39 341.96 144.84 337.72 146.57 333.6 C148.31 329.48 150.26 325.56 152.08 322.64 C153.9 319.73 155.69 317.91 157.5 316.11 C159.31 314.32 161.09 312.81 162.94 311.87 C164.79 310.93 166.72 311.62 168.61 310.49 C170.5 309.36 172.51 306.36 174.29 305.1 C176.07 303.84 177.62 303.93 179.28 302.93 C180.94 301.94 182.42 300.79 184.24 299.11 C186.06 297.43 187.87 294.18 190.2 292.85 C192.53 291.51 196 291.42 198.2 291.09 C200.4 290.77 201.35 291.3 203.4 290.88 C205.45 290.46 209.02 288.89 210.5 288.56 C211.98 288.23 211.13 288.46 212.3 288.87 C213.47 289.29 215.02 290.41 217.5 291.05 C219.98 291.69 224.85 291.94 227.2 292.7 C229.55 293.47 230.13 294.31 231.6 295.63 C233.07 296.95 234.52 298.34 236 300.64 C237.48 302.94 238.88 306.07 240.5 309.4 C242.12 312.74 244.12 316.83 245.7 320.65 C247.28 324.46 248.54 329.49 249.98 332.3 C251.43 335.11 252.77 334.57 254.37 337.5 C255.96 340.43 257.82 345.48 259.57 349.9 C261.32 354.32 263.1 359.3 264.87 364 C266.63 368.7 268.4 374.87 270.17 378.1 C271.93 381.33 273.7 380.17 275.47 383.4 C277.23 386.63 278.68 390.52 280.77 397.5 C282.85 404.48 285.67 417.12 287.97 425.3 C290.27 433.48 292.38 440.87 294.57 446.6 C296.75 452.33 298.86 456.42 301.07 459.7 C303.27 462.98 305.83 464.65 307.81 466.3 C309.78 467.95 312.06 469.05 312.91 469.6" stroke="#19ade3"/>
<path d="M48.5 473.8 C50.08 473.29 54.97 471.74 58 470.75 C61.03 469.76 63.85 468.82 66.7 467.86 C69.55 466.9 71.53 465.62 75.1 464.96 C78.67 464.3 83.82 464.25 88.1 463.88 C92.38 463.51 97.37 463.47 100.8 462.75 C104.23 462.03 106.31 461.79 108.7 459.56 C111.09 457.33 113.16 453.77 115.14 449.38 C117.12 444.99 118.75 439.19 120.55 433.21 C122.35 427.23 124.16 420.83 125.96 413.51 C127.76 406.19 129.54 397.12 131.34 389.29 C133.14 381.46 134.95 373.47 136.75 366.51 C138.55 359.55 140.42 353.03 142.13 347.54 C143.84 342.06 145.3 337.75 147.03 333.6 C148.76 329.45 150.7 325.53 152.51 322.61 C154.32 319.69 156.09 317.88 157.89 316.08 C159.69 314.28 161.46 312.76 163.3 311.83 C165.14 310.9 167.05 311.6 168.92 310.51 C170.79 309.41 172.77 306.5 174.52 305.25 C176.28 304 177.81 304.01 179.45 303 C181.09 301.99 182.56 300.86 184.35 299.2 C186.14 297.54 187.89 294.37 190.2 293.05 C192.51 291.73 196 291.62 198.2 291.3 C200.4 290.98 201.35 291.54 203.4 291.1 C205.45 290.66 209.02 289.02 210.5 288.65 C211.98 288.28 211.13 288.48 212.3 288.88 C213.47 289.28 215.02 290.41 217.5 291.07 C219.98 291.73 224.85 292.03 227.2 292.81 C229.55 293.59 230.13 294.44 231.6 295.77 C233.07 297.1 234.52 298.51 236 300.8 C237.48 303.09 238.88 306.2 240.5 309.51 C242.12 312.82 244.12 316.87 245.7 320.67 C247.28 324.47 248.53 329.5 249.97 332.3 C251.41 335.11 252.75 334.57 254.34 337.5 C255.94 340.43 257.79 345.48 259.54 349.9 C261.29 354.32 263.07 359.3 264.84 364 C266.61 368.7 268.37 374.87 270.14 378.1 C271.91 381.33 273.67 380.17 275.44 383.4 C277.21 386.63 278.66 390.52 280.74 397.5 C282.82 404.48 285.64 417.12 287.94 425.3 C290.24 433.48 292.36 440.87 294.54 446.6 C296.72 452.33 298.83 456.42 301.04 459.7 C303.25 462.98 305.82 464.65 307.8 466.3 C309.77 467.95 312.05 469.05 312.9 469.6" stroke="#1caae7"/>
<path d="M48.5 473.8 C50.08 473.3 54.96 471.77 58 470.8 C61.04 469.83 63.86 468.9 66.72 467.96 C69.58 467.01 71.55 465.75 75.16 465.12 C78.77 464.48 84.01 464.47 88.36 464.15 C92.71 463.83 97.79 463.88 101.28 463.2 C104.77 462.52 106.91 462.26 109.32 460.08 C111.73 457.89 113.79 454.41 115.76 450.07 C117.73 445.72 119.35 439.96 121.14 434 C122.93 428.03 124.73 421.64 126.52 414.3 C128.3 406.95 130.08 397.84 131.86 389.94 C133.65 382.05 135.45 373.98 137.24 366.94 C139.03 359.9 140.88 353.26 142.59 347.7 C144.3 342.15 145.76 337.79 147.49 333.6 C149.21 329.41 151.14 325.5 152.94 322.58 C154.74 319.65 156.5 317.85 158.28 316.05 C160.07 314.25 161.84 312.71 163.66 311.79 C165.48 310.87 167.38 311.59 169.23 310.53 C171.08 309.46 173.02 306.64 174.75 305.4 C176.48 304.15 178 304.09 179.62 303.07 C181.24 302.05 182.7 300.92 184.46 299.29 C186.22 297.65 187.91 294.55 190.2 293.25 C192.49 291.96 196 291.83 198.2 291.51 C200.4 291.18 201.35 291.78 203.4 291.32 C205.45 290.86 209.02 289.15 210.5 288.74 C211.98 288.33 211.13 288.5 212.3 288.89 C213.47 289.28 215.02 290.42 217.5 291.09 C219.98 291.76 224.85 292.11 227.2 292.92 C229.55 293.72 230.13 294.57 231.6 295.91 C233.07 297.25 234.52 298.68 236 300.96 C237.48 303.24 238.88 306.33 240.5 309.62 C242.12 312.9 244.12 316.91 245.7 320.69 C247.28 324.47 248.52 329.5 249.96 332.3 C251.39 335.1 252.72 334.57 254.31 337.5 C255.91 340.43 257.76 345.48 259.51 349.9 C261.26 354.32 263.05 359.3 264.81 364 C266.58 368.7 268.35 374.87 270.11 378.1 C271.88 381.33 273.65 380.17 275.41 383.4 C277.18 386.63 278.63 390.52 280.71 397.5 C282.8 404.48 285.61 417.12 287.91 425.3 C290.21 433.48 292.33 440.87 294.51 446.6 C296.7 452.33 298.8 456.42 301.01 459.7 C303.23 462.98 305.81 464.65 307.79 466.3 C309.76 467.95 312.04 469.05 312.89 469.6" stroke="#1ea8ea"/>
<path d="M48.5 473.8 C50.08 473.31 54.96 471.81 58 470.85 C61.04 469.89 63.87 468.98 66.74 468.05 C69.61 467.12 71.57 465.88 75.22 465.27 C78.87 464.67 84.2 464.69 88.62 464.42 C93.04 464.15 98.21 464.29 101.76 463.65 C105.31 463.01 107.5 462.74 109.94 460.59 C112.38 458.44 114.42 455.06 116.39 450.76 C118.35 446.45 119.95 440.73 121.73 434.78 C123.51 428.84 125.3 422.45 127.07 415.08 C128.85 407.72 130.61 398.55 132.39 390.6 C134.16 382.64 135.95 374.48 137.73 367.36 C139.51 360.24 141.34 353.5 143.05 347.87 C144.75 342.24 146.23 337.82 147.95 333.6 C149.67 329.38 151.57 325.47 153.36 322.54 C155.15 319.61 156.9 317.82 158.68 316.02 C160.45 314.22 162.21 312.66 164.02 311.75 C165.83 310.83 167.72 311.58 169.54 310.55 C171.37 309.51 173.28 306.78 174.98 305.55 C176.69 304.31 178.19 304.16 179.79 303.13 C181.39 302.1 182.83 300.99 184.57 299.37 C186.31 297.76 187.93 294.73 190.2 293.46 C192.47 292.18 196 292.03 198.2 291.71 C200.4 291.39 201.35 292.02 203.4 291.54 C205.45 291.06 209.02 289.27 210.5 288.83 C211.98 288.39 211.13 288.52 212.3 288.9 C213.47 289.28 215.02 290.43 217.5 291.11 C219.98 291.8 224.85 292.2 227.2 293.02 C229.55 293.85 230.13 294.7 231.6 296.05 C233.07 297.4 234.52 298.84 236 301.12 C237.48 303.4 238.88 306.46 240.5 309.72 C242.12 312.99 244.13 316.95 245.7 320.71 C247.27 324.48 248.51 329.5 249.94 332.3 C251.38 335.1 252.7 334.57 254.29 337.5 C255.88 340.43 257.74 345.48 259.49 349.9 C261.24 354.32 263.02 359.3 264.79 364 C266.55 368.7 268.32 374.87 270.09 378.1 C271.85 381.33 273.62 380.17 275.39 383.4 C277.15 386.63 278.6 390.52 280.69 397.5 C282.77 404.48 285.59 417.12 287.89 425.3 C290.19 433.48 292.3 440.87 294.49 446.6 C296.67 452.33 298.77 456.42 300.99 459.7 C303.2 462.98 305.79 464.65 307.78 466.3 C309.76 467.95 312.03 469.05 312.88 469.6" stroke="#21a0ea"/>
<path d="M48.5 473.8 C50.08 473.32 54.96 471.84 58 470.9 C61.04 469.96 63.88 469.06 66.76 468.15 C69.64 467.24 71.59 466.01 75.28 465.43 C78.97 464.85 84.39 464.91 88.88 464.68 C93.37 464.46 98.63 464.7 102.24 464.1 C105.85 463.5 108.1 463.22 110.56 461.11 C113.02 459 115.05 455.7 117.01 451.44 C118.97 447.19 120.55 441.5 122.32 435.57 C124.09 429.64 125.86 423.25 127.63 415.87 C129.39 408.48 131.15 399.27 132.91 391.25 C134.68 383.24 136.45 374.99 138.22 367.79 C139.99 360.58 141.81 353.73 143.5 348.03 C145.2 342.33 146.69 337.85 148.4 333.6 C150.12 329.35 152.01 325.44 153.79 322.51 C155.57 319.57 157.31 317.78 159.07 315.98 C160.84 314.18 162.58 312.61 164.38 311.7 C166.18 310.8 168.05 311.57 169.86 310.57 C171.66 309.56 173.53 306.92 175.22 305.7 C176.9 304.47 178.38 304.24 179.96 303.2 C181.54 302.16 182.97 301.05 184.68 299.46 C186.39 297.87 187.95 294.92 190.2 293.66 C192.45 292.4 196 292.24 198.2 291.92 C200.4 291.6 201.35 292.26 203.4 291.76 C205.45 291.26 209.02 289.4 210.5 288.92 C211.98 288.44 211.13 288.53 212.3 288.9 C213.47 289.27 215.02 290.43 217.5 291.14 C219.98 291.84 224.85 292.28 227.2 293.13 C229.55 293.97 230.13 294.84 231.6 296.2 C233.07 297.55 234.52 299.01 236 301.28 C237.48 303.55 238.88 306.59 240.5 309.83 C242.12 313.07 244.13 316.99 245.7 320.74 C247.27 324.48 248.5 329.51 249.93 332.3 C251.36 335.09 252.67 334.57 254.26 337.5 C255.85 340.43 257.71 345.48 259.46 349.9 C261.21 354.32 263 359.3 264.76 364 C266.53 368.7 268.3 374.87 270.06 378.1 C271.83 381.33 273.6 380.17 275.36 383.4 C277.13 386.63 278.58 390.52 280.66 397.5 C282.75 404.48 285.56 417.12 287.86 425.3 C290.16 433.48 292.28 440.87 294.46 446.6 C296.65 452.33 298.74 456.42 300.96 459.7 C303.18 462.98 305.78 464.65 307.76 466.3 C309.75 467.95 312.01 469.05 312.86 469.6" stroke="#2599eb"/>
<path d="M48.5 473.8 C50.08 473.32 54.95 471.88 58 470.95 C61.05 470.02 63.89 469.14 66.78 468.24 C69.67 467.35 71.61 466.13 75.34 465.58 C79.07 465.04 84.58 465.12 89.14 464.95 C93.7 464.78 99.05 465.1 102.72 464.55 C106.39 464 108.69 463.69 111.18 461.62 C113.67 459.55 115.68 456.34 117.64 452.13 C119.59 447.92 121.15 442.27 122.91 436.35 C124.67 430.44 126.43 424.06 128.18 416.65 C129.94 409.25 131.68 399.98 133.44 391.91 C135.19 383.83 136.96 375.5 138.71 368.21 C140.46 360.93 142.27 353.97 143.96 348.2 C145.65 342.43 147.15 337.89 148.86 333.6 C150.57 329.31 152.45 325.42 154.21 322.47 C155.98 319.53 157.71 317.75 159.47 315.95 C161.22 314.15 162.96 312.56 164.74 311.66 C166.52 310.77 168.38 311.55 170.17 310.58 C171.95 309.62 173.79 307.07 175.45 305.85 C177.11 304.63 178.57 304.32 180.13 303.27 C181.69 302.22 183.11 301.11 184.79 299.55 C186.47 297.98 187.96 295.1 190.2 293.86 C192.44 292.63 196 292.44 198.2 292.13 C200.4 291.81 201.35 292.5 203.4 291.98 C205.45 291.46 209.02 289.52 210.5 289.01 C211.98 288.5 211.13 288.55 212.3 288.91 C213.47 289.27 215.02 290.44 217.5 291.16 C219.98 291.88 224.85 292.37 227.2 293.23 C229.55 294.1 230.13 294.97 231.6 296.34 C233.07 297.71 234.52 299.17 236 301.44 C237.48 303.71 238.88 306.71 240.5 309.93 C242.12 313.15 244.13 317.03 245.7 320.76 C247.27 324.49 248.5 329.51 249.92 332.3 C251.34 335.09 252.65 334.57 254.24 337.5 C255.82 340.43 257.69 345.48 259.44 349.9 C261.19 354.32 262.97 359.3 264.74 364 C266.5 368.7 268.27 374.87 270.04 378.1 C271.8 381.33 273.57 380.17 275.34 383.4 C277.1 386.63 278.55 390.52 280.64 397.5 C282.72 404.48 285.54 417.12 287.84 425.3 C290.14 433.48 292.25 440.87 294.44 446.6 C296.62 452.33 298.72 456.42 300.94 459.7 C303.16 462.98 305.77 464.65 307.75 466.3 C309.74 467.95 312 469.05 312.85 469.6" stroke="#2891eb"/>
<path d="M48.5 473.8 C50.08 473.33 54.95 471.91 58 471 C61.05 470.09 63.9 469.22 66.8 468.34 C69.7 467.46 71.63 466.26 75.4 465.74 C79.17 465.22 84.77 465.34 89.4 465.22 C94.03 465.1 99.47 465.51 103.2 465 C106.93 464.49 109.29 464.17 111.8 462.14 C114.31 460.11 116.31 456.99 118.26 452.82 C120.21 448.65 121.75 443.04 123.5 437.14 C125.25 431.24 127 424.87 128.74 417.44 C130.48 410.01 132.22 400.69 133.96 392.56 C135.7 384.43 137.46 376.01 139.2 368.64 C140.94 361.27 142.73 354.2 144.42 348.36 C146.11 342.52 147.62 337.92 149.32 333.6 C151.02 329.28 152.88 325.39 154.64 322.44 C156.4 319.49 158.12 317.72 159.86 315.92 C161.6 314.12 163.33 312.51 165.1 311.62 C166.87 310.73 168.72 311.54 170.48 310.6 C172.24 309.67 174.04 307.21 175.68 306 C177.32 304.79 178.76 304.39 180.3 303.33 C181.84 302.27 183.25 301.18 184.9 299.63 C186.55 298.09 187.98 295.28 190.2 294.07 C192.42 292.85 196 292.64 198.2 292.33 C200.4 292.02 201.35 292.74 203.4 292.2 C205.45 291.66 209.02 289.65 210.5 289.1 C211.98 288.55 211.13 288.57 212.3 288.92 C213.47 289.27 215.02 290.44 217.5 291.18 C219.98 291.92 224.85 292.46 227.2 293.34 C229.55 294.22 230.13 295.1 231.6 296.48 C233.07 297.86 234.52 299.34 236 301.6 C237.48 303.86 238.88 306.84 240.5 310.04 C242.12 313.24 244.13 317.07 245.7 320.78 C247.27 324.49 248.49 329.51 249.91 332.3 C251.32 335.09 252.63 334.57 254.21 337.5 C255.79 340.43 257.66 345.48 259.41 349.9 C261.16 354.32 262.94 359.3 264.71 364 C266.48 368.7 268.24 374.87 270.01 378.1 C271.78 381.33 273.54 380.17 275.31 383.4 C277.08 386.63 278.53 390.52 280.61 397.5 C282.69 404.48 285.51 417.12 287.81 425.3 C290.11 433.48 292.23 440.87 294.41 446.6 C296.59 452.33 298.69 456.42 300.91 459.7 C303.13 462.98 305.75 464.65 307.74 466.3 C309.73 467.95 311.99 469.05 312.84 469.6" stroke="#2b89eb"/>
<path d="M48.5 473.8 C50.08 473.35 54.95 471.96 58 471.07 C61.05 470.18 63.91 469.33 66.83 468.48 C69.74 467.63 71.66 466.44 75.49 465.96 C79.31 465.48 85.04 465.66 89.77 465.6 C94.5 465.55 100.07 466.1 103.89 465.64 C107.7 465.19 110.14 464.85 112.69 462.88 C115.23 460.9 117.21 457.91 119.15 453.8 C121.09 449.7 122.61 444.14 124.34 438.26 C126.07 432.39 127.81 426.02 129.53 418.56 C131.26 411.1 132.98 401.71 134.71 393.49 C136.44 385.28 138.17 376.73 139.9 369.25 C141.63 361.77 143.4 354.54 145.07 348.59 C146.75 342.65 148.28 337.97 149.97 333.6 C151.67 329.23 153.51 325.35 155.25 322.39 C156.99 319.44 158.7 317.68 160.42 315.87 C162.15 314.07 163.86 312.43 165.61 311.56 C167.36 310.69 169.19 311.52 170.93 310.63 C172.66 309.74 174.41 307.41 176.01 306.21 C177.61 305.01 179.04 304.5 180.54 303.43 C182.05 302.35 183.45 301.27 185.06 299.76 C186.67 298.25 188.01 295.55 190.2 294.36 C192.39 293.17 196 292.94 198.2 292.63 C200.4 292.32 201.35 293.08 203.4 292.51 C205.45 291.95 209.02 289.83 210.5 289.23 C211.98 288.63 211.13 288.6 212.3 288.93 C213.47 289.26 215.02 290.45 217.5 291.21 C219.98 291.97 224.85 292.58 227.2 293.49 C229.55 294.4 230.13 295.29 231.6 296.68 C233.07 298.07 234.52 299.58 236 301.83 C237.48 304.08 238.88 307.03 240.5 310.19 C242.12 313.36 244.14 317.13 245.7 320.81 C247.26 324.5 248.47 329.52 249.89 332.3 C251.3 335.08 252.59 334.57 254.17 337.5 C255.75 340.43 257.62 345.48 259.37 349.9 C261.12 354.32 262.91 359.3 264.67 364 C266.44 368.7 268.21 374.87 269.97 378.1 C271.74 381.33 273.51 380.17 275.27 383.4 C277.04 386.63 278.49 390.52 280.57 397.5 C282.66 404.48 285.47 417.12 287.77 425.3 C290.07 433.48 292.19 440.87 294.37 446.6 C296.56 452.33 298.65 456.42 300.87 459.7 C303.1 462.98 305.74 464.65 307.73 466.3 C309.72 467.95 311.98 469.05 312.83 469.6" stroke="#307fec"/>
<path d="M48.5 473.8 C50.08 473.36 54.94 472.01 58 471.14 C61.06 470.28 63.93 469.44 66.86 468.61 C69.79 467.79 71.69 466.62 75.57 466.19 C79.45 465.75 85.31 465.97 90.14 465.99 C94.98 466 100.67 466.68 104.57 466.29 C108.48 465.89 110.99 465.53 113.57 463.61 C116.15 461.7 118.11 458.82 120.04 454.79 C121.98 450.75 123.47 445.24 125.19 439.39 C126.9 433.54 128.62 427.18 130.33 419.69 C132.04 412.19 133.75 402.73 135.46 394.43 C137.17 386.12 138.89 377.46 140.6 369.86 C142.31 362.26 144.06 354.87 145.73 348.83 C147.4 342.79 148.94 338.01 150.63 333.6 C152.32 329.19 154.13 325.3 155.86 322.34 C157.58 319.38 159.27 317.64 160.99 315.83 C162.7 314.02 164.4 312.36 166.13 311.5 C167.86 310.64 169.67 311.51 171.37 310.66 C173.07 309.81 174.77 307.62 176.34 306.43 C177.91 305.24 179.31 304.61 180.79 303.52 C182.26 302.43 183.65 301.36 185.21 299.88 C186.78 298.4 188.04 295.81 190.2 294.65 C192.36 293.49 196 293.23 198.2 292.92 C200.4 292.62 201.35 293.42 203.4 292.83 C205.45 292.23 209.02 290 210.5 289.36 C211.98 288.71 211.13 288.63 212.3 288.94 C213.47 289.26 215.02 290.46 217.5 291.24 C219.98 292.03 224.85 292.7 227.2 293.64 C229.55 294.58 230.13 295.48 231.6 296.89 C233.07 298.29 234.52 299.81 236 302.06 C237.48 304.3 238.88 307.21 240.5 310.34 C242.12 313.47 244.14 317.18 245.7 320.84 C247.26 324.5 248.46 329.52 249.87 332.3 C251.27 335.08 252.56 334.57 254.14 337.5 C255.71 340.43 257.59 345.48 259.34 349.9 C261.09 354.32 262.87 359.3 264.64 364 C266.4 368.7 268.17 374.87 269.94 378.1 C271.7 381.33 273.47 380.17 275.24 383.4 C277 386.63 278.45 390.52 280.54 397.5 C282.62 404.48 285.44 417.12 287.74 425.3 C290.04 433.48 292.15 440.87 294.34 446.6 C296.52 452.33 298.61 456.42 300.84 459.7 C303.07 462.98 305.72 464.65 307.71 466.3 C309.71 467.95 311.96 469.05 312.81 469.6" stroke="#3374e9"/>
<path d="M48.5 473.8 C50.08 473.37 54.94 472.06 58 471.21 C61.06 470.37 63.94 469.55 66.89 468.75 C69.83 467.95 71.72 466.81 75.66 466.41 C79.6 466.01 85.58 466.28 90.51 466.37 C95.45 466.46 101.27 467.26 105.26 466.93 C109.25 466.59 111.84 466.21 114.46 464.35 C117.07 462.49 119.01 459.74 120.93 455.77 C122.86 451.79 124.33 446.34 126.03 440.51 C127.73 434.68 129.43 428.33 131.12 420.81 C132.82 413.28 134.51 403.75 136.21 395.36 C137.9 386.97 139.6 378.18 141.3 370.47 C143 362.75 144.72 355.21 146.38 349.06 C148.05 342.92 149.6 338.06 151.28 333.6 C152.96 329.14 154.75 325.26 156.47 322.29 C158.18 319.32 159.85 317.59 161.55 315.78 C163.24 313.97 164.93 312.29 166.64 311.44 C168.35 310.59 170.15 311.49 171.82 310.69 C173.49 309.89 175.14 307.82 176.67 306.64 C178.21 305.46 179.58 304.73 181.03 303.62 C182.48 302.51 183.84 301.45 185.37 300 C186.9 298.56 188.06 296.07 190.2 294.94 C192.34 293.81 196 293.52 198.2 293.22 C200.4 292.92 201.35 293.77 203.4 293.14 C205.45 292.52 209.02 290.18 210.5 289.49 C211.98 288.79 211.13 288.66 212.3 288.95 C213.47 289.25 215.02 290.47 217.5 291.27 C219.98 292.08 224.85 292.83 227.2 293.79 C229.55 294.76 230.13 295.67 231.6 297.09 C233.07 298.5 234.52 300.05 236 302.29 C237.48 304.52 238.88 307.4 240.5 310.49 C242.12 313.59 244.14 317.24 245.7 320.87 C247.26 324.51 248.45 329.53 249.85 332.3 C251.25 335.07 252.52 334.57 254.1 337.5 C255.67 340.43 257.55 345.48 259.3 349.9 C261.05 354.32 262.83 359.3 264.6 364 C266.37 368.7 268.13 374.87 269.9 378.1 C271.67 381.33 273.43 380.17 275.2 383.4 C276.97 386.63 278.42 390.52 280.5 397.5 C282.58 404.48 285.4 417.12 287.7 425.3 C290 433.48 292.12 440.87 294.3 446.6 C296.48 452.33 298.57 456.42 300.8 459.7 C303.03 462.98 305.7 464.65 307.7 466.3 C309.7 467.95 311.95 469.05 312.8 469.6" stroke="#3669e6"/>
<path d="M48.5 473.8 C50.08 473.38 54.93 472.1 58 471.29 C61.07 470.47 63.96 469.66 66.91 468.89 C69.87 468.11 71.75 466.99 75.74 466.63 C79.74 466.28 85.85 466.59 90.89 466.75 C95.92 466.91 101.87 467.85 105.94 467.57 C110.02 467.29 112.7 466.89 115.34 465.09 C117.99 463.29 119.9 460.66 121.83 456.75 C123.75 452.84 125.19 447.43 126.87 441.63 C128.55 435.83 130.24 429.49 131.92 421.93 C133.6 414.38 135.27 404.77 136.95 396.3 C138.63 387.82 140.32 378.91 142 371.07 C143.68 363.24 145.38 355.54 147.04 349.3 C148.69 343.05 150.26 338.11 151.94 333.6 C153.61 329.09 155.38 325.22 157.07 322.25 C158.77 319.27 160.43 317.55 162.11 315.74 C163.79 313.93 165.47 312.22 167.16 311.38 C168.85 310.54 170.62 311.47 172.26 310.72 C173.9 309.96 175.5 308.02 177.01 306.86 C178.51 305.69 179.85 304.84 181.27 303.71 C182.69 302.59 184.04 301.54 185.53 300.13 C187.02 298.71 188.09 296.33 190.2 295.23 C192.31 294.13 196 293.81 198.2 293.51 C200.4 293.22 201.35 294.11 203.4 293.46 C205.45 292.81 209.02 290.36 210.5 289.61 C211.98 288.87 211.13 288.68 212.3 288.97 C213.47 289.25 215.02 290.48 217.5 291.31 C219.98 292.14 224.85 292.95 227.2 293.95 C229.55 294.94 230.13 295.86 231.6 297.29 C233.07 298.72 234.52 300.29 236 302.51 C237.48 304.74 238.88 307.58 240.5 310.65 C242.12 313.71 244.14 317.3 245.7 320.91 C247.26 324.51 248.44 329.53 249.83 332.3 C251.22 335.07 252.49 334.57 254.06 337.5 C255.63 340.43 257.51 345.48 259.26 349.9 C261.01 354.32 262.79 359.3 264.56 364 C266.33 368.7 268.09 374.87 269.86 378.1 C271.63 381.33 273.39 380.17 275.16 383.4 C276.93 386.63 278.38 390.52 280.46 397.5 C282.54 404.48 285.36 417.12 287.66 425.3 C289.96 433.48 292.08 440.87 294.26 446.6 C296.44 452.33 298.52 456.42 300.76 459.7 C303 462.98 305.68 464.65 307.68 466.3 C309.69 467.95 311.93 469.05 312.78 469.6" stroke="#395ee3"/>
<path d="M48.5 473.8 C50.08 473.39 54.93 472.15 58 471.36 C61.07 470.56 63.97 469.78 66.94 469.03 C69.91 468.28 71.78 467.17 75.83 466.85 C79.88 466.54 86.12 466.91 91.26 467.13 C96.39 467.36 102.47 468.43 106.63 468.21 C110.79 468 113.55 467.57 116.23 465.83 C118.91 464.08 120.8 461.58 122.72 457.73 C124.63 453.89 126.05 448.53 127.71 442.75 C129.38 436.97 131.05 430.64 132.71 423.05 C134.38 415.47 136.04 405.79 137.7 397.23 C139.37 388.67 141.04 379.63 142.7 371.68 C144.36 363.73 146.04 355.88 147.69 349.53 C149.34 343.18 150.93 338.16 152.59 333.6 C154.26 329.04 156 325.18 157.68 322.2 C159.36 319.21 161.01 317.5 162.67 315.69 C164.34 313.88 166 312.14 167.67 311.32 C169.34 310.5 171.1 311.45 172.71 310.74 C174.32 310.04 175.87 308.23 177.34 307.07 C178.8 305.92 180.12 304.95 181.51 303.81 C182.91 302.67 184.24 301.63 185.69 300.25 C187.13 298.87 188.11 296.59 190.2 295.52 C192.29 294.45 196 294.1 198.2 293.81 C200.4 293.52 201.35 294.45 203.4 293.77 C205.45 293.09 209.02 290.54 210.5 289.74 C211.98 288.94 211.13 288.71 212.3 288.98 C213.47 289.24 215.02 290.48 217.5 291.34 C219.98 292.19 224.85 293.07 227.2 294.1 C229.55 295.12 230.13 296.05 231.6 297.49 C233.07 298.94 234.52 300.53 236 302.74 C237.48 304.96 238.88 307.76 240.5 310.8 C242.12 313.83 244.15 317.35 245.7 320.94 C247.25 324.52 248.42 329.54 249.81 332.3 C251.2 335.06 252.46 334.57 254.02 337.5 C255.59 340.43 257.47 345.48 259.22 349.9 C260.97 354.32 262.76 359.3 264.52 364 C266.29 368.7 268.06 374.87 269.82 378.1 C271.59 381.33 273.36 380.17 275.12 383.4 C276.89 386.63 278.34 390.52 280.42 397.5 C282.51 404.48 285.32 417.12 287.62 425.3 C289.92 433.48 292.04 440.87 294.22 446.6 C296.41 452.33 298.48 456.42 300.72 459.7 C302.97 462.98 305.66 464.65 307.67 466.3 C309.68 467.95 311.92 469.05 312.77 469.6" stroke="#3656df"/>
<path d="M48.5 473.8 C50.08 473.4 54.92 472.2 58 471.43 C61.08 470.66 63.99 469.89 66.97 469.16 C69.96 468.44 71.8 467.35 75.91 467.08 C80.02 466.8 86.4 467.22 91.63 467.52 C96.86 467.81 103.07 469.02 107.31 468.86 C111.56 468.7 114.4 468.25 117.11 466.56 C119.83 464.87 121.7 462.5 123.61 458.72 C125.52 454.94 126.91 449.63 128.56 443.88 C130.21 438.12 131.86 431.8 133.51 424.18 C135.15 416.56 136.8 406.81 138.45 398.17 C140.1 389.52 141.75 380.36 143.4 372.29 C145.05 364.22 146.7 356.21 148.35 349.77 C149.99 343.32 151.59 338.2 153.25 333.6 C154.9 329 156.63 325.14 158.29 322.15 C159.96 319.16 161.59 317.46 163.24 315.65 C164.89 313.83 166.53 312.07 168.19 311.26 C169.84 310.45 171.57 311.43 173.15 310.77 C174.73 310.11 176.23 308.43 177.67 307.29 C179.1 306.14 180.39 305.06 181.76 303.9 C183.12 302.75 184.44 301.73 185.84 300.38 C187.25 299.03 188.14 296.85 190.2 295.81 C192.26 294.76 196 294.39 198.2 294.1 C200.4 293.82 201.35 294.79 203.4 294.09 C205.45 293.38 209.02 290.72 210.5 289.87 C211.98 289.02 211.13 288.74 212.3 288.99 C213.47 289.24 215.02 290.49 217.5 291.37 C219.98 292.25 224.85 293.19 227.2 294.25 C229.55 295.3 230.13 296.24 231.6 297.7 C233.07 299.15 234.52 300.76 236 302.97 C237.48 305.18 238.88 307.95 240.5 310.95 C242.12 313.95 244.15 317.41 245.7 320.97 C247.25 324.53 248.41 329.54 249.79 332.3 C251.17 335.06 252.42 334.57 253.99 337.5 C255.55 340.43 257.44 345.48 259.19 349.9 C260.94 354.32 262.72 359.3 264.49 364 C266.25 368.7 268.02 374.87 269.79 378.1 C271.55 381.33 273.32 380.17 275.09 383.4 C276.85 386.63 278.3 390.52 280.39 397.5 C282.47 404.48 285.29 417.12 287.59 425.3 C289.89 433.48 292 440.87 294.19 446.6 C296.37 452.33 298.44 456.42 300.69 459.7 C302.93 462.98 305.64 464.65 307.65 466.3 C309.67 467.95 311.9 469.05 312.75 469.6" stroke="#314fdc"/>
<path d="M48.5 473.8 C50.08 473.42 54.92 472.25 58 471.5 C61.08 470.75 64 470 67 469.3 C70 468.6 71.83 467.53 76 467.3 C80.17 467.07 86.67 467.53 92 467.9 C97.33 468.27 103.67 469.6 108 469.5 C112.33 469.4 115.25 468.93 118 467.3 C120.75 465.67 122.6 463.42 124.5 459.7 C126.4 455.98 127.77 450.73 129.4 445 C131.03 439.27 132.67 432.95 134.3 425.3 C135.93 417.65 137.57 407.83 139.2 399.1 C140.83 390.37 142.47 381.08 144.1 372.9 C145.73 364.72 147.37 356.55 149 350 C150.63 343.45 152.25 338.25 153.9 333.6 C155.55 328.95 157.25 325.1 158.9 322.1 C160.55 319.1 162.17 317.42 163.8 315.6 C165.43 313.78 167.07 312 168.7 311.2 C170.33 310.4 172.05 311.42 173.6 310.8 C175.15 310.18 176.6 308.63 178 307.5 C179.4 306.37 180.67 305.17 182 304 C183.33 302.83 184.63 301.82 186 300.5 C187.37 299.18 188.17 297.12 190.2 296.1 C192.23 295.08 196 294.68 198.2 294.4 C200.4 294.12 201.35 295.13 203.4 294.4 C205.45 293.67 209.02 290.9 210.5 290 C211.98 289.1 211.13 288.77 212.3 289 C213.47 289.23 215.02 290.5 217.5 291.4 C219.98 292.3 224.85 293.32 227.2 294.4 C229.55 295.48 230.13 296.43 231.6 297.9 C233.07 299.37 234.52 301 236 303.2 C237.48 305.4 238.88 308.13 240.5 311.1 C242.12 314.07 244.15 317.47 245.7 321 C247.25 324.53 248.4 329.55 249.78 332.3 C251.15 335.05 252.39 334.57 253.95 337.5 C255.51 340.43 257.4 345.48 259.15 349.9 C260.9 354.32 262.68 359.3 264.45 364 C266.22 368.7 267.98 374.87 269.75 378.1 C271.52 381.33 273.28 380.17 275.05 383.4 C276.82 386.63 278.27 390.52 280.35 397.5 C282.43 404.48 285.25 417.12 287.55 425.3 C289.85 433.48 291.97 440.87 294.15 446.6 C296.33 452.33 298.4 456.42 300.65 459.7 C302.9 462.98 305.62 464.65 307.64 466.3 C309.65 467.95 311.89 469.05 312.74 469.6" stroke="#2c48d8"/>
</g>
<line x1="102.2" y1="372.5" x2="102.2" y2="472" stroke="#222" stroke-width="0.9" stroke-dasharray="3.2 2.3"/>
<path d="M102.2 476.8 L99.6 470.6 L104.8 470.6 Z" fill="#111" stroke="none" stroke-width="1" />
<text x="79.4" y="370" font-size="13.3" text-anchor="start" fill="#222" stroke="#222" font-weight="normal" >0 ppm</text>
<text x="78.4" y="483.8" font-size="13.2" text-anchor="start" fill="#222" stroke="#222" font-weight="normal" >500 ppm</text>
<path d="M48.3 272.4 L48.3 485.3 L313 485.3" fill="none" stroke="#222" stroke-width="1.3" />
<path d="M48.3 272.4 L313 272.4 L313 485.3" fill="none" stroke="#222" stroke-width="1.3" />
<line x1="44.3" y1="474.6" x2="48.3" y2="474.6" stroke="#222" stroke-width="1.2" />
<text x="41.3" y="479.6" font-size="14.8" text-anchor="end" fill="#101010" stroke="#101010" font-weight="normal" >0.0</text>
<line x1="44.3" y1="436.33" x2="48.3" y2="436.33" stroke="#222" stroke-width="1.2" />
<text x="41.3" y="441.33" font-size="14.8" text-anchor="end" fill="#101010" stroke="#101010" font-weight="normal" >0.2</text>
<line x1="44.3" y1="398.06" x2="48.3" y2="398.06" stroke="#222" stroke-width="1.2" />
<text x="41.3" y="403.06" font-size="14.8" text-anchor="end" fill="#101010" stroke="#101010" font-weight="normal" >0.4</text>
<line x1="44.3" y1="359.79" x2="48.3" y2="359.79" stroke="#222" stroke-width="1.2" />
<text x="41.3" y="364.79" font-size="14.8" text-anchor="end" fill="#101010" stroke="#101010" font-weight="normal" >0.6</text>
<line x1="44.3" y1="321.52" x2="48.3" y2="321.52" stroke="#222" stroke-width="1.2" />
<text x="41.3" y="326.52" font-size="14.8" text-anchor="end" fill="#101010" stroke="#101010" font-weight="normal" >0.8</text>
<line x1="44.3" y1="283.25" x2="48.3" y2="283.25" stroke="#222" stroke-width="1.2" />
<text x="41.3" y="288.25" font-size="14.8" text-anchor="end" fill="#101010" stroke="#101010" font-weight="normal" >1.0</text>
<line x1="46.3" y1="455.47" x2="48.3" y2="455.47" stroke="#222" stroke-width="1.2" />
<line x1="46.3" y1="417.2" x2="48.3" y2="417.2" stroke="#222" stroke-width="1.2" />
<line x1="46.3" y1="378.93" x2="48.3" y2="378.93" stroke="#222" stroke-width="1.2" />
<line x1="46.3" y1="340.66" x2="48.3" y2="340.66" stroke="#222" stroke-width="1.2" />
<line x1="46.3" y1="302.39" x2="48.3" y2="302.39" stroke="#222" stroke-width="1.2" />
<line x1="48.3" y1="485.3" x2="48.3" y2="489.3" stroke="#222" stroke-width="1.2" />
<text x="48.3" y="502.5" font-size="14.5" text-anchor="middle" fill="#101010" stroke="#101010" font-weight="normal" >500</text>
<line x1="92.4" y1="485.3" x2="92.4" y2="489.3" stroke="#222" stroke-width="1.2" />
<text x="92.4" y="502.5" font-size="14.5" text-anchor="middle" fill="#101010" stroke="#101010" font-weight="normal" >600</text>
<line x1="136.5" y1="485.3" x2="136.5" y2="489.3" stroke="#222" stroke-width="1.2" />
<text x="136.5" y="502.5" font-size="14.5" text-anchor="middle" fill="#101010" stroke="#101010" font-weight="normal" >700</text>
<line x1="180.6" y1="485.3" x2="180.6" y2="489.3" stroke="#222" stroke-width="1.2" />
<text x="180.6" y="502.5" font-size="14.5" text-anchor="middle" fill="#101010" stroke="#101010" font-weight="normal" >800</text>
<line x1="224.7" y1="485.3" x2="224.7" y2="489.3" stroke="#222" stroke-width="1.2" />
<text x="224.7" y="502.5" font-size="14.5" text-anchor="middle" fill="#101010" stroke="#101010" font-weight="normal" >900</text>
<line x1="268.8" y1="485.3" x2="268.8" y2="489.3" stroke="#222" stroke-width="1.2" />
<text x="268.8" y="502.5" font-size="14.5" text-anchor="middle" fill="#101010" stroke="#101010" font-weight="normal" >1000</text>
<line x1="312.9" y1="485.3" x2="312.9" y2="489.3" stroke="#222" stroke-width="1.2" />
<text x="312.9" y="502.5" font-size="14.5" text-anchor="middle" fill="#101010" stroke="#101010" font-weight="normal" >1100</text>
<line x1="70.35" y1="485.3" x2="70.35" y2="487.3" stroke="#222" stroke-width="1.2" />
<line x1="114.45" y1="485.3" x2="114.45" y2="487.3" stroke="#222" stroke-width="1.2" />
<line x1="158.55" y1="485.3" x2="158.55" y2="487.3" stroke="#222" stroke-width="1.2" />
<line x1="202.65" y1="485.3" x2="202.65" y2="487.3" stroke="#222" stroke-width="1.2" />
<line x1="246.75" y1="485.3" x2="246.75" y2="487.3" stroke="#222" stroke-width="1.2" />
<line x1="290.85" y1="485.3" x2="290.85" y2="487.3" stroke="#222" stroke-width="1.2" />
<text x="180.3" y="520.3" font-size="15.4" text-anchor="middle" fill="#101010" stroke="#101010" font-weight="normal" >Wavelength (nm)</text>
<text x="13.3" y="379" font-size="15.4" text-anchor="middle" fill="#101010" stroke="#101010" font-weight="normal" transform="rotate(-90 13.3 379)" >Intensity (a.u.)</text>
<text x="340.8" y="282.8" font-size="18" text-anchor="start" fill="#000" stroke="#000" font-weight="bold" >E</text>
<defs><radialGradient id="mk" cx="0.4" cy="0.35" r="0.65"><stop offset="0" stop-color="#a9c3f8"/><stop offset="0.3" stop-color="#5f88ea"/><stop offset="0.6" stop-color="#2c5bd8"/><stop offset="1" stop-color="#1a45c0"/></radialGradient></defs>
<path d="M393 290.9 L393.96 303.13 L394.93 313.03 L396.37 322.93 L397.82 331.27 L400.23 339.43 L402.64 346.02 L405.05 353.98 L407.45 360.39 L409.86 366.4 L412.27 372.42 L414.68 377.27 L417.09 382.13 L421.91 390.86 L426.73 400.76 L431.54 410.27 L436.36 418.04 L441.18 423.86 L446 429.29 L450.82 434.15 L455.63 438.03 L460.45 441.52 L465.27 444.63 L470.09 447.73 L474.91 450.64 L479.72 453.36 L484.54 455.88 L489.36 458.41 L501.4 461.51 L513.45 464.62 L525.5 467.14 L537.54 469.28 L561.63 471.02 L585.72 473.16 L609.81 474.91 L633.9 476.65" fill="none" stroke="#2a5bd7" stroke-width="1.1" />
<circle cx="393" cy="290.9" r="2.35" fill="url(#mk)" stroke="#1f4fcf" stroke-width="0.5"/>
<circle cx="393.96" cy="303.13" r="2.35" fill="url(#mk)" stroke="#1f4fcf" stroke-width="0.5"/>
<circle cx="394.93" cy="313.03" r="2.35" fill="url(#mk)" stroke="#1f4fcf" stroke-width="0.5"/>
<circle cx="396.37" cy="322.93" r="2.35" fill="url(#mk)" stroke="#1f4fcf" stroke-width="0.5"/>
<circle cx="397.82" cy="331.27" r="2.35" fill="url(#mk)" stroke="#1f4fcf" stroke-width="0.5"/>
<circle cx="400.23" cy="339.43" r="2.35" fill="url(#mk)" stroke="#1f4fcf" stroke-width="0.5"/>
<circle cx="402.64" cy="346.02" r="2.35" fill="url(#mk)" stroke="#1f4fcf" stroke-width="0.5"/>
<circle cx="405.05" cy="353.98" r="2.35" fill="url(#mk)" stroke="#1f4fcf" stroke-width="0.5"/>
<circle cx="407.45" cy="360.39" r="2.35" fill="url(#mk)" stroke="#1f4fcf" stroke-width="0.5"/>
<circle cx="409.86" cy="366.4" r="2.35" fill="url(#mk)" stroke="#1f4fcf" stroke-width="0.5"/>
<circle cx="412.27" cy="372.42" r="2.35" fill="url(#mk)" stroke="#1f4fcf" stroke-width="0.5"/>
<circle cx="414.68" cy="377.27" r="2.35" fill="url(#mk)" stroke="#1f4fcf" stroke-width="0.5"/>
<circle cx="417.09" cy="382.13" r="2.35" fill="url(#mk)" stroke="#1f4fcf" stroke-width="0.5"/>
<circle cx="421.91" cy="390.86" r="2.35" fill="url(#mk)" stroke="#1f4fcf" stroke-width="0.5"/>
<circle cx="426.73" cy="400.76" r="2.35" fill="url(#mk)" stroke="#1f4fcf" stroke-width="0.5"/>
<circle cx="431.54" cy="410.27" r="2.35" fill="url(#mk)" stroke="#1f4fcf" stroke-width="0.5"/>
<circle cx="436.36" cy="418.04" r="2.35" fill="url(#mk)" stroke="#1f4fcf" stroke-width="0.5"/>
<circle cx="441.18" cy="423.86" r="2.35" fill="url(#mk)" stroke="#1f4fcf" stroke-width="0.5"/>
<circle cx="446" cy="429.29" r="2.35" fill="url(#mk)" stroke="#1f4fcf" stroke-width="0.5"/>
<circle cx="450.82" cy="434.15" r="2.35" fill="url(#mk)" stroke="#1f4fcf" stroke-width="0.5"/>
<circle cx="455.63" cy="438.03" r="2.35" fill="url(#mk)" stroke="#1f4fcf" stroke-width="0.5"/>
<circle cx="460.45" cy="441.52" r="2.35" fill="url(#mk)" stroke="#1f4fcf" stroke-width="0.5"/>
<circle cx="465.27" cy="444.63" r="2.35" fill="url(#mk)" stroke="#1f4fcf" stroke-width="0.5"/>
<circle cx="470.09" cy="447.73" r="2.35" fill="url(#mk)" stroke="#1f4fcf" stroke-width="0.5"/>
<circle cx="474.91" cy="450.64" r="2.35" fill="url(#mk)" stroke="#1f4fcf" stroke-width="0.5"/>
<circle cx="479.72" cy="453.36" r="2.35" fill="url(#mk)" stroke="#1f4fcf" stroke-width="0.5"/>
<circle cx="484.54" cy="455.88" r="2.35" fill="url(#mk)" stroke="#1f4fcf" stroke-width="0.5"/>
<circle cx="489.36" cy="458.41" r="2.35" fill="url(#mk)" stroke="#1f4fcf" stroke-width="0.5"/>
<circle cx="501.4" cy="461.51" r="2.35" fill="url(#mk)" stroke="#1f4fcf" stroke-width="0.5"/>
<circle cx="513.45" cy="464.62" r="2.35" fill="url(#mk)" stroke="#1f4fcf" stroke-width="0.5"/>
<circle cx="525.5" cy="467.14" r="2.35" fill="url(#mk)" stroke="#1f4fcf" stroke-width="0.5"/>
<circle cx="537.54" cy="469.28" r="2.35" fill="url(#mk)" stroke="#1f4fcf" stroke-width="0.5"/>
<circle cx="561.63" cy="471.02" r="2.35" fill="url(#mk)" stroke="#1f4fcf" stroke-width="0.5"/>
<circle cx="585.72" cy="473.16" r="2.35" fill="url(#mk)" stroke="#1f4fcf" stroke-width="0.5"/>
<circle cx="609.81" cy="474.91" r="2.35" fill="url(#mk)" stroke="#1f4fcf" stroke-width="0.5"/>
<circle cx="633.9" cy="476.65" r="2.35" fill="url(#mk)" stroke="#1f4fcf" stroke-width="0.5"/>
<path d="M381.2 272.4 L381.2 485 L646 485" fill="none" stroke="#222" stroke-width="1.3" />
<path d="M381.2 272.4 L646 272.4 L646 485" fill="none" stroke="#222" stroke-width="1.3" />
<line x1="377.2" y1="485" x2="381.2" y2="485" stroke="#222" stroke-width="1.2" />
<text x="376" y="489.7" font-size="14.5" text-anchor="end" fill="#101010" stroke="#101010" font-weight="normal" >0.0</text>
<line x1="377.2" y1="446.18" x2="381.2" y2="446.18" stroke="#222" stroke-width="1.2" />
<text x="376" y="450.88" font-size="14.5" text-anchor="end" fill="#101010" stroke="#101010" font-weight="normal" >0.2</text>
<line x1="377.2" y1="407.36" x2="381.2" y2="407.36" stroke="#222" stroke-width="1.2" />
<text x="376" y="412.06" font-size="14.5" text-anchor="end" fill="#101010" stroke="#101010" font-weight="normal" >0.4</text>
<line x1="377.2" y1="368.54" x2="381.2" y2="368.54" stroke="#222" stroke-width="1.2" />
<text x="376" y="373.24" font-size="14.5" text-anchor="end" fill="#101010" stroke="#101010" font-weight="normal" >0.6</text>
<line x1="377.2" y1="329.72" x2="381.2" y2="329.72" stroke="#222" stroke-width="1.2" />
<text x="376" y="334.42" font-size="14.5" text-anchor="end" fill="#101010" stroke="#101010" font-weight="normal" >0.8</text>
<line x1="377.2" y1="290.9" x2="381.2" y2="290.9" stroke="#222" stroke-width="1.2" />
<text x="376" y="295.6" font-size="14.5" text-anchor="end" fill="#101010" stroke="#101010" font-weight="normal" >1.0</text>
<line x1="379.2" y1="465.59" x2="381.2" y2="465.59" stroke="#222" stroke-width="1.2" />
<line x1="379.2" y1="426.77" x2="381.2" y2="426.77" stroke="#222" stroke-width="1.2" />
<line x1="379.2" y1="387.95" x2="381.2" y2="387.95" stroke="#222" stroke-width="1.2" />
<line x1="379.2" y1="349.13" x2="381.2" y2="349.13" stroke="#222" stroke-width="1.2" />
<line x1="379.2" y1="310.31" x2="381.2" y2="310.31" stroke="#222" stroke-width="1.2" />
<line x1="393" y1="485" x2="393" y2="489" stroke="#222" stroke-width="1.2" />
<text x="393" y="502.4" font-size="14.5" text-anchor="middle" fill="#101010" stroke="#101010" font-weight="normal" >0</text>
<line x1="441.18" y1="485" x2="441.18" y2="489" stroke="#222" stroke-width="1.2" />
<text x="441.18" y="502.4" font-size="14.5" text-anchor="middle" fill="#101010" stroke="#101010" font-weight="normal" >100</text>
<line x1="489.36" y1="485" x2="489.36" y2="489" stroke="#222" stroke-width="1.2" />
<text x="489.36" y="502.4" font-size="14.5" text-anchor="middle" fill="#101010" stroke="#101010" font-weight="normal" >200</text>
<line x1="537.54" y1="485" x2="537.54" y2="489" stroke="#222" stroke-width="1.2" />
<text x="537.54" y="502.4" font-size="14.5" text-anchor="middle" fill="#101010" stroke="#101010" font-weight="normal" >300</text>
<line x1="585.72" y1="485" x2="585.72" y2="489" stroke="#222" stroke-width="1.2" />
<text x="585.72" y="502.4" font-size="14.5" text-anchor="middle" fill="#101010" stroke="#101010" font-weight="normal" >400</text>
<line x1="633.9" y1="485" x2="633.9" y2="489" stroke="#222" stroke-width="1.2" />
<text x="633.9" y="502.4" font-size="14.5" text-anchor="middle" fill="#101010" stroke="#101010" font-weight="normal" >500</text>
<line x1="417.09" y1="485" x2="417.09" y2="487" stroke="#222" stroke-width="1.2" />
<line x1="465.27" y1="485" x2="465.27" y2="487" stroke="#222" stroke-width="1.2" />
<line x1="513.45" y1="485" x2="513.45" y2="487" stroke="#222" stroke-width="1.2" />
<line x1="561.63" y1="485" x2="561.63" y2="487" stroke="#222" stroke-width="1.2" />
<line x1="609.81" y1="485" x2="609.81" y2="487" stroke="#222" stroke-width="1.2" />
<text x="513.5" y="520.8" font-size="15.5" text-anchor="middle" fill="#101010" stroke="#101010" font-weight="normal" >Concentration of NH<tspan font-size="9" dy="3.2">3</tspan><tspan dy="-3.2" font-size="1">&#8203;</tspan> (ppm)</text>
<text x="347.6" y="379.3" font-size="15.4" text-anchor="middle" fill="#101010" stroke="#101010" font-weight="normal" transform="rotate(-90 347.6 379.3)" >Intensity (a.u.)</text>
<rect x="472.8" y="279.7" width="164.2" height="131.5" fill="#fff" stroke="none" stroke-width="1" />
<path d="M481 286.7 L495.85 310.88 L510.7 331.55 L532.98 353 L555.25 369.38 L592.38 383.81 L629.5 397.46" fill="none" stroke="#2a5bd7" stroke-width="1.1" />
<circle cx="481" cy="286.7" r="2.35" fill="url(#mk)" stroke="#1f4fcf" stroke-width="0.5"/>
<circle cx="495.85" cy="310.88" r="2.35" fill="url(#mk)" stroke="#1f4fcf" stroke-width="0.5"/>
<circle cx="510.7" cy="331.55" r="2.35" fill="url(#mk)" stroke="#1f4fcf" stroke-width="0.5"/>
<circle cx="532.98" cy="353" r="2.35" fill="url(#mk)" stroke="#1f4fcf" stroke-width="0.5"/>
<circle cx="555.25" cy="369.38" r="2.35" fill="url(#mk)" stroke="#1f4fcf" stroke-width="0.5"/>
<circle cx="592.38" cy="383.81" r="2.35" fill="url(#mk)" stroke="#1f4fcf" stroke-width="0.5"/>
<circle cx="629.5" cy="397.46" r="2.35" fill="url(#mk)" stroke="#1f4fcf" stroke-width="0.5"/>
<path d="M472.8 279.7 L472.8 411.2 L637 411.2" fill="none" stroke="#222" stroke-width="1.2" />
<path d="M472.8 279.7 L637 279.7 L637 411.2" fill="none" stroke="#222" stroke-width="1.2" />
<line x1="469.3" y1="403.7" x2="472.8" y2="403.7" stroke="#222" stroke-width="1.2" />
<text x="468.4" y="408" font-size="13.4" text-anchor="end" fill="#101010" stroke="#101010" font-weight="normal" >0.7</text>
<line x1="469.3" y1="364.7" x2="472.8" y2="364.7" stroke="#222" stroke-width="1.2" />
<text x="468.4" y="369" font-size="13.4" text-anchor="end" fill="#101010" stroke="#101010" font-weight="normal" >0.8</text>
<line x1="469.3" y1="325.7" x2="472.8" y2="325.7" stroke="#222" stroke-width="1.2" />
<text x="468.4" y="330" font-size="13.4" text-anchor="end" fill="#101010" stroke="#101010" font-weight="normal" >0.9</text>
<line x1="469.3" y1="286.7" x2="472.8" y2="286.7" stroke="#222" stroke-width="1.2" />
<text x="468.4" y="291" font-size="13.4" text-anchor="end" fill="#101010" stroke="#101010" font-weight="normal" >1.0</text>
<line x1="470.8" y1="384.2" x2="472.8" y2="384.2" stroke="#222" stroke-width="1.2" />
<line x1="470.8" y1="345.2" x2="472.8" y2="345.2" stroke="#222" stroke-width="1.2" />
<line x1="470.8" y1="306.2" x2="472.8" y2="306.2" stroke="#222" stroke-width="1.2" />
<line x1="481" y1="411.2" x2="481" y2="414.7" stroke="#222" stroke-width="1.2" />
<text x="481" y="424.8" font-size="13.4" text-anchor="middle" fill="#101010" stroke="#101010" font-weight="normal" >0</text>
<line x1="518.12" y1="411.2" x2="518.12" y2="414.7" stroke="#222" stroke-width="1.2" />
<text x="518.12" y="424.8" font-size="13.4" text-anchor="middle" fill="#101010" stroke="#101010" font-weight="normal" >5</text>
<line x1="555.25" y1="411.2" x2="555.25" y2="414.7" stroke="#222" stroke-width="1.2" />
<text x="555.25" y="424.8" font-size="13.4" text-anchor="middle" fill="#101010" stroke="#101010" font-weight="normal" >10</text>
<line x1="592.38" y1="411.2" x2="592.38" y2="414.7" stroke="#222" stroke-width="1.2" />
<text x="592.38" y="424.8" font-size="13.4" text-anchor="middle" fill="#101010" stroke="#101010" font-weight="normal" >15</text>
<line x1="629.5" y1="411.2" x2="629.5" y2="414.7" stroke="#222" stroke-width="1.2" />
<text x="629.5" y="424.8" font-size="13.4" text-anchor="middle" fill="#101010" stroke="#101010" font-weight="normal" >20</text>
<line x1="499.56" y1="411.2" x2="499.56" y2="413.2" stroke="#222" stroke-width="1.2" />
<line x1="536.69" y1="411.2" x2="536.69" y2="413.2" stroke="#222" stroke-width="1.2" />
<line x1="573.81" y1="411.2" x2="573.81" y2="413.2" stroke="#222" stroke-width="1.2" />
<line x1="610.94" y1="411.2" x2="610.94" y2="413.2" stroke="#222" stroke-width="1.2" />
<text x="555" y="437.2" font-size="13.7" text-anchor="middle" fill="#101010" stroke="#101010" font-weight="normal" >Concentration of NH<tspan font-size="8.5" dy="3">3</tspan><tspan dy="-3" font-size="1">&#8203;</tspan> (ppm)</text>
<text x="447" y="345.5" font-size="13.7" text-anchor="middle" fill="#101010" stroke="#101010" font-weight="normal" transform="rotate(-90 447 345.5)" >Intensity (a.u.)</text>
<text x="5.4" y="557.8" font-size="18" text-anchor="start" fill="#000" stroke="#000" font-weight="bold" >F</text>
<defs><linearGradient id="fg" x1="0" y1="0" x2="0" y2="1">
<stop offset="0" stop-color="#ffffff"/><stop offset="0.3" stop-color="#f3fbff"/><stop offset="0.55" stop-color="#e2f3fd"/><stop offset="0.68" stop-color="#cfe3fb"/><stop offset="0.8" stop-color="#b3cbf9"/><stop offset="0.9" stop-color="#9dbaf7"/><stop offset="1" stop-color="#86a8f3"/>
</linearGradient>
<linearGradient id="fl" x1="0" y1="0" x2="0" y2="1"><stop offset="0" stop-color="#f4faff"/><stop offset="0.35" stop-color="#e3effd"/><stop offset="0.7" stop-color="#b4cdf8"/><stop offset="1" stop-color="#6f9aee"/></linearGradient>
</defs>
<rect x="46.2" y="545.6" width="383.6" height="210.2" fill="url(#fg)" stroke="none" stroke-width="1" />
<path d="M59.2 580.3 L59.6 577.65 L60.2 577.65 L61.3 730.62 L61.6 668.78 L61.85 620.12 L62.15 601.31 L62.54 593.49 L62.92 590.25 L63.31 587.84 L63.7 585.89 L64.09 584.26 L64.47 582.87 L64.86 581.68 L65.25 580.67 L65.64 579.81 L66.02 579.09 L66.41 578.51 L66.8 578.05 L67.1 730.9 L67.4 668.78 L67.65 620.12 L67.95 601.31 L68.34 593.16 L68.73 589.78 L69.11 587.27 L69.5 585.24 L69.89 583.54 L70.28 582.09 L70.66 580.85 L71.05 579.79 L71.44 578.89 L71.83 578.14 L72.21 577.54 L72.6 577.06 L72.9 729.86 L73.2 668.78 L73.45 620.12 L73.75 601.31 L74.12 593.44 L74.49 590.18 L74.86 587.76 L75.23 585.8 L75.6 584.16 L75.98 582.76 L76.35 581.56 L76.72 580.54 L77.09 579.68 L77.46 578.95 L77.83 578.37 L78.2 577.91 L78.5 729.36 L78.8 668.78 L79.05 620.12 L79.35 601.31 L79.71 594.19 L80.08 591.25 L80.44 589.06 L80.8 587.28 L81.16 585.8 L81.53 584.53 L81.89 583.45 L82.25 582.53 L82.61 581.74 L82.98 581.09 L83.34 580.56 L83.7 580.15 L84 729.62 L84.3 668.78 L84.55 620.12 L84.85 601.31 L85.24 594.58 L85.63 591.8 L86.01 589.72 L86.4 588.05 L86.79 586.64 L87.18 585.45 L87.56 584.42 L87.95 583.55 L88.34 582.81 L88.73 582.19 L89.11 581.69 L89.5 581.3 L89.8 726.41 L90.1 668.78 L90.35 620.12 L90.65 601.31 L91.01 594.8 L91.38 592.1 L91.74 590.09 L92.1 588.47 L92.46 587.11 L92.83 585.95 L93.19 584.96 L93.55 584.12 L93.91 583.4 L94.28 582.8 L94.64 582.31 L95 581.94 L95.3 728.23 L95.6 668.78 L95.85 620.12 L96.15 601.31 L96.52 594.53 L96.89 591.72 L97.26 589.63 L97.63 587.94 L98 586.52 L98.38 585.32 L98.75 584.28 L99.12 583.4 L99.49 582.66 L99.86 582.03 L100.23 581.53 L100.6 581.13 L100.9 730.37 L101.2 668.78 L101.45 620.12 L101.75 601.31 L102.13 594.62 L102.51 591.85 L102.89 589.78 L103.27 588.12 L103.65 586.72 L104.03 585.53 L104.4 584.51 L104.78 583.64 L105.16 582.91 L105.54 582.29 L105.92 581.79 L106.3 581.41 L106.6 727.8 L106.9 668.78 L107.15 620.12 L107.45 601.31 L107.85 593.82 L108.24 590.72 L108.64 588.41 L109.03 586.54 L109.43 584.98 L109.83 583.65 L110.22 582.51 L110.62 581.54 L111.01 580.71 L111.41 580.02 L111.8 579.47 L112.2 579.03 L112.5 729.75 L112.8 668.78 L113.05 620.12 L113.35 601.31 L113.74 593.5 L114.13 590.26 L114.51 587.85 L114.9 585.91 L115.29 584.28 L115.68 582.89 L116.06 581.7 L116.45 580.69 L116.84 579.82 L117.23 579.11 L117.61 578.52 L118 578.07 L118.3 730.99 L118.6 668.78 L118.85 620.12 L119.15 601.31 L119.6 592.88 L120.04 589.39 L120.49 586.79 L120.93 584.69 L121.38 582.93 L121.83 581.44 L122.27 580.15 L122.72 579.06 L123.16 578.13 L123.61 577.36 L124.05 576.73 L124.5 576.24 L124.8 732.79 L125.1 668.78 L125.35 620.12 L125.65 601.31 L126.1 593.01 L126.54 589.57 L126.99 587.02 L127.43 584.95 L127.88 583.21 L128.33 581.74 L128.77 580.48 L129.22 579.4 L129.66 578.49 L130.11 577.72 L130.55 577.11 L131 576.63 L131.3 730.74 L131.6 668.78 L131.85 620.12 L132.15 601.31 L132.57 593.92 L132.99 590.87 L133.41 588.59 L133.83 586.75 L134.25 585.21 L134.68 583.9 L135.1 582.78 L135.52 581.82 L135.94 581 L136.36 580.33 L136.78 579.77 L137.2 579.35 L137.5 728.27 L137.8 668.78 L138.05 620.12 L138.35 601.31 L138.75 594.16 L139.16 591.21 L139.56 589 L139.97 587.22 L140.37 585.73 L140.78 584.46 L141.18 583.38 L141.58 582.45 L141.99 581.66 L142.39 581.01 L142.8 580.47 L143.2 580.06 L143.5 729.1 L143.8 668.78 L144.05 620.12 L144.35 601.31 L144.75 594.61 L145.14 591.83 L145.54 589.77 L145.93 588.1 L146.33 586.7 L146.72 585.51 L147.12 584.49 L147.52 583.62 L147.91 582.88 L148.31 582.27 L148.7 581.77 L149.1 581.38 L149.4 729.84 L149.7 668.78 L149.95 620.12 L150.25 601.31 L150.67 594.34 L151.09 591.46 L151.51 589.31 L151.93 587.58 L152.35 586.12 L152.78 584.89 L153.2 583.83 L153.62 582.92 L154.04 582.16 L154.46 581.52 L154.88 581 L155.3 580.59 L155.6 730.94 L155.9 668.78 L156.15 620.12 L156.45 601.31 L156.86 594.3 L157.28 591.4 L157.69 589.24 L158.1 587.5 L158.51 586.03 L158.93 584.79 L159.34 583.72 L159.75 582.81 L160.16 582.04 L160.58 581.4 L160.99 580.88 L161.4 580.47 L161.7 730.43 L162 668.78 L162.25 620.12 L162.55 601.31 L163 594.38 L163.44 591.51 L163.89 589.38 L164.33 587.65 L164.78 586.2 L165.23 584.97 L165.67 583.92 L166.12 583.02 L166.56 582.26 L167.01 581.62 L167.45 581.1 L167.9 580.7 L168.2 729.65 L168.5 668.78 L168.75 620.12 L169.05 601.31 L169.44 593.45 L169.83 590.2 L170.21 587.78 L170.6 585.82 L170.99 584.18 L171.38 582.79 L171.76 581.59 L172.15 580.57 L172.54 579.71 L172.93 578.99 L173.31 578.4 L173.7 577.94 L174 731.74 L174.3 668.78 L174.55 620.12 L174.85 601.31 L175.25 593.51 L175.64 590.28 L176.04 587.87 L176.43 585.93 L176.83 584.3 L177.22 582.91 L177.62 581.73 L178.02 580.71 L178.41 579.86 L178.81 579.14 L179.2 578.56 L179.6 578.11 L179.9 730.1 L180.2 668.78 L180.45 620.12 L180.75 601.31 L181.12 593.33 L181.49 590.02 L181.86 587.56 L182.23 585.57 L182.6 583.91 L182.97 582.49 L183.35 581.28 L183.72 580.24 L184.09 579.36 L184.46 578.63 L184.83 578.03 L185.2 577.57 L185.5 728.68 L185.8 668.78 L186.05 620.12 L186.35 601.31 L186.77 593.22 L187.19 589.87 L187.61 587.37 L188.03 585.35 L188.45 583.66 L188.88 582.23 L189.3 581 L189.72 579.95 L190.14 579.06 L190.56 578.31 L190.98 577.71 L191.4 577.24 L191.7 724.7 L192 668.78 L192.25 620.12 L192.55 601.31 L192.97 594.08 L193.39 591.09 L193.81 588.86 L194.23 587.06 L194.65 585.55 L195.08 584.27 L195.5 583.17 L195.92 582.23 L196.34 581.43 L196.76 580.77 L197.18 580.23 L197.6 579.81 L197.9 728.06 L198.2 668.78 L198.45 620.12 L198.75 601.31 L199.17 593.73 L199.59 590.6 L200.01 588.26 L200.43 586.37 L200.85 584.79 L201.28 583.45 L201.7 582.29 L202.12 581.31 L202.54 580.48 L202.96 579.78 L203.38 579.22 L203.8 578.78 L204.1 730.14 L204.4 668.78 L204.65 620.12 L204.95 601.31 L205.38 593.36 L205.81 590.06 L206.24 587.61 L206.67 585.63 L207.1 583.97 L207.53 582.56 L207.95 581.35 L208.38 580.31 L208.81 579.44 L209.24 578.71 L209.67 578.11 L210.1 577.65 L210.4 730.74 L210.7 668.78 L210.95 620.12 L211.25 601.31 L211.75 592.91 L212.24 589.43 L212.74 586.85 L213.23 584.75 L213.73 583 L214.22 581.51 L214.72 580.23 L215.22 579.14 L215.71 578.22 L216.21 577.45 L216.7 576.82 L217.2 576.33 L217.5 728.48 L217.8 668.78 L218.05 620.12 L218.35 601.31 L218.88 593.18 L219.41 589.82 L219.94 587.31 L220.47 585.28 L221 583.59 L221.53 582.14 L222.05 580.91 L222.58 579.85 L223.11 578.96 L223.64 578.21 L224.17 577.61 L224.7 577.13 L225 729.43 L225.3 668.78 L225.55 620.12 L225.85 601.31 L226.36 593.19 L226.88 589.83 L227.39 587.33 L227.9 585.31 L228.41 583.61 L228.93 582.17 L229.44 580.94 L229.95 579.88 L230.46 578.99 L230.97 578.24 L231.49 577.64 L232 577.17 L232.3 728.79 L232.6 668.78 L232.85 620.12 L233.15 601.31 L233.7 593.05 L234.26 589.63 L234.81 587.09 L235.37 585.03 L235.92 583.3 L236.48 581.84 L237.03 580.58 L237.58 579.51 L238.14 578.6 L238.69 577.84 L239.25 577.23 L239.8 576.75 L240.1 729.13 L240.4 668.78 L240.65 620.12 L240.95 601.31 L241.45 592.18 L241.96 588.4 L242.46 585.59 L242.97 583.31 L243.47 581.41 L243.98 579.79 L244.48 578.4 L244.98 577.21 L245.49 576.21 L245.99 575.37 L246.5 574.69 L247 574.16 L247.3 725.62 L247.6 668.78 L247.85 620.12 L248.15 601.31 L248.66 591.85 L249.18 587.94 L249.69 585.03 L250.2 582.67 L250.71 580.7 L251.23 579.02 L251.74 577.58 L252.25 576.35 L252.76 575.31 L253.28 574.44 L253.79 573.74 L254.3 573.19 L254.6 729.05 L254.9 668.78 L255.15 620.12 L255.45 601.31 L255.97 591.99 L256.49 588.13 L257.01 585.26 L257.53 582.93 L258.05 580.99 L258.57 579.33 L259.1 577.92 L259.62 576.7 L260.14 575.68 L260.66 574.82 L261.18 574.13 L261.7 573.59 L262 729.54 L262.3 668.78 L262.55 620.12 L262.85 601.31 L263.43 592.09 L264.01 588.27 L264.59 585.43 L265.17 583.14 L265.75 581.21 L266.32 579.58 L266.9 578.17 L267.48 576.98 L268.06 575.96 L268.64 575.12 L269.22 574.43 L269.8 573.89 L270.1 727.81 L270.4 668.78 L270.65 620.12 L270.95 601.31 L271.44 591.86 L271.93 587.95 L272.41 585.03 L272.9 582.68 L273.39 580.71 L273.88 579.03 L274.36 577.59 L274.85 576.36 L275.34 575.32 L275.82 574.46 L276.31 573.75 L276.8 573.2 L277.1 728.81 L277.4 668.78 L277.65 620.12 L277.95 601.31 L278.48 592.18 L279.01 588.41 L279.54 585.6 L280.07 583.32 L280.6 581.42 L281.12 579.8 L281.65 578.41 L282.18 577.23 L282.71 576.22 L283.24 575.38 L283.77 574.7 L284.3 574.18 L284.6 728.68 L284.9 668.78 L285.15 620.12 L285.45 601.31 L286 592.55 L286.54 588.93 L287.09 586.23 L287.63 584.05 L288.18 582.22 L288.72 580.67 L289.27 579.34 L289.82 578.2 L290.36 577.24 L290.91 576.43 L291.45 575.78 L292 575.27 L292.3 723.22 L292.6 668.78 L292.85 620.12 L293.15 601.31 L293.76 592.03 L294.38 588.19 L294.99 585.33 L295.6 583.02 L296.21 581.08 L296.82 579.43 L297.44 578.02 L298.05 576.82 L298.66 575.8 L299.27 574.94 L299.89 574.25 L300.5 573.72 L300.8 730.15 L301.1 668.78 L301.35 620.12 L301.65 601.31 L302.3 591.87 L302.94 587.97 L303.59 585.06 L304.23 582.71 L304.88 580.74 L305.52 579.07 L306.17 577.63 L306.82 576.41 L307.46 575.37 L308.11 574.5 L308.75 573.8 L309.4 573.25 L309.7 728.79 L310 668.78 L310.25 620.12 L310.55 601.31 L311.21 592.26 L311.87 588.52 L312.54 585.73 L313.2 583.48 L313.86 581.59 L314.52 579.98 L315.19 578.61 L315.85 577.43 L316.51 576.44 L317.17 575.61 L317.84 574.93 L318.5 574.41 L318.8 729.52 L319.1 668.78 L319.35 620.12 L319.65 601.31 L320.51 592.59 L321.38 588.98 L322.24 586.29 L323.1 584.12 L323.96 582.3 L324.82 580.75 L325.69 579.42 L326.55 578.29 L327.41 577.33 L328.27 576.53 L329.14 575.88 L330 575.37 L330.3 730.74 L330.6 668.78 L330.85 620.12 L331.15 601.31 L331.8 592.46 L332.44 588.79 L333.09 586.07 L333.73 583.86 L334.38 582.01 L335.02 580.44 L335.67 579.1 L336.32 577.95 L336.96 576.97 L337.61 576.16 L338.25 575.5 L338.9 574.99 L339.2 728.44 L339.5 668.78 L339.75 620.12 L340.05 601.31 L340.8 592.56 L341.54 588.93 L342.29 586.23 L343.03 584.05 L343.78 582.23 L344.52 580.67 L345.27 579.34 L346.02 578.2 L346.76 577.24 L347.51 576.44 L348.25 575.78 L349 575.28 L349.3 730.28 L349.6 668.78 L349.85 620.12 L350.15 601.31 L350.67 592.49 L351.19 588.84 L351.71 586.13 L352.23 583.93 L352.75 582.09 L353.27 580.52 L353.8 579.18 L354.32 578.04 L354.84 577.07 L355.36 576.26 L355.88 575.6 L356.4 575.09 L356.7 728.07 L357 668.78 L357.25 620.12 L357.55 601.31 L358.05 592.26 L358.54 588.51 L359.04 585.72 L359.53 583.47 L360.03 581.58 L360.52 579.97 L361.02 578.6 L361.52 577.42 L362.01 576.43 L362.51 575.59 L363 574.92 L363.5 574.4 L363.8 725.14 L364.1 668.78 L364.35 620.12 L364.65 601.31 L365.1 592.54 L365.54 588.9 L365.99 586.2 L366.43 584.01 L366.88 582.18 L367.32 580.63 L367.77 579.29 L368.22 578.15 L368.66 577.19 L369.11 576.38 L369.55 575.73 L370 575.22 L370.3 728.03 L370.6 668.78 L370.85 620.12 L371.15 601.31 L371.61 592.12 L372.07 588.31 L372.54 585.48 L373 583.19 L373.46 581.27 L373.92 579.64 L374.39 578.24 L374.85 577.05 L375.31 576.04 L375.77 575.19 L376.24 574.51 L376.7 573.98 L377 728.1 L377.3 668.78 L377.55 620.12 L377.85 601.31 L378.33 591.88 L378.81 587.97 L379.29 585.07 L379.77 582.71 L380.25 580.75 L380.72 579.07 L381.2 577.64 L381.68 576.41 L382.16 575.37 L382.64 574.51 L383.12 573.8 L383.6 573.26 L383.9 729.69 L384.2 668.78 L384.45 620.12 L384.75 601.31 L385.23 592.36 L385.71 588.66 L386.19 585.9 L386.67 583.67 L387.15 581.8 L387.62 580.21 L388.1 578.85 L388.58 577.69 L389.06 576.7 L389.54 575.88 L390.02 575.21 L390.5 574.69 L390.8 730.68 L391.1 668.78 L391.35 620.12 L391.65 601.31 L392.14 592.29 L392.62 588.55 L393.11 585.77 L393.6 583.53 L394.09 581.64 L394.57 580.04 L395.06 578.67 L395.55 577.5 L396.04 576.5 L396.52 575.68 L397.01 575 L397.5 574.48 L397.8 730.62 L398.1 668.78 L398.35 620.12 L398.65 601.31 L399.26 591.75 L399.88 587.8 L400.49 584.85 L401.1 582.47 L401.71 580.48 L402.32 578.78 L402.94 577.33 L403.55 576.09 L404.16 575.03 L404.77 574.16 L405.39 573.44 L406 572.89 L406.3 730.34 L406.6 668.78 L406.85 620.12 L407.15 601.31 L407.78 592.45 L408.41 588.78 L409.04 586.05 L409.67 583.85 L410.3 582 L410.92 580.42 L411.55 579.08 L412.18 577.93 L412.81 576.95 L413.44 576.14 L414.07 575.48 L414.7 574.97" fill="none" stroke="#0a0a0a" stroke-width="1.2" stroke-linejoin="round"/>
<line x1="46.2" y1="730.8" x2="429.8" y2="730.8" stroke="#f2f6ff" stroke-width="1.3" stroke-dasharray="6 4.5"/>
<rect x="50.8" y="550.8" width="158.1" height="19.4" fill="#fff" stroke="#666" stroke-width="0.9" />
<rect x="54.2" y="553.4" width="32.5" height="13.8" fill="url(#fl)" stroke="#777" stroke-width="0.8" />
<text x="91.2" y="563.8" font-size="13.6" text-anchor="start" fill="#101010" stroke="#101010" font-weight="normal" xml:space="preserve">NH<tspan dx="1.5" font-size="8.5" dy="2.4">3</tspan><tspan dx="1.2" dy="-2.4"> concentration</tspan></text>
<text x="267" y="565.9" font-size="13.5" text-anchor="middle" fill="#111" stroke="#111" font-weight="normal" >0 ppm</text>
<text x="263.5" y="745.2" font-size="13.6" text-anchor="middle" fill="#111" stroke="#111" font-weight="normal" >100 ppm</text>
<path d="M46.2 545.6 L46.2 755.8 L429.8 755.8" fill="none" stroke="#222" stroke-width="1.3" />
<path d="M46.2 545.6 L429.8 545.6 L429.8 755.8" fill="none" stroke="#222" stroke-width="1.3" />
<line x1="42.2" y1="757.26" x2="46.2" y2="757.26" stroke="#222" stroke-width="1.2" />
<text x="41" y="761.96" font-size="14.6" text-anchor="end" fill="#101010" stroke="#101010" font-weight="normal" >0.2</text>
<line x1="42.2" y1="713.02" x2="46.2" y2="713.02" stroke="#222" stroke-width="1.2" />
<text x="41" y="717.72" font-size="14.6" text-anchor="end" fill="#101010" stroke="#101010" font-weight="normal" >0.4</text>
<line x1="42.2" y1="668.78" x2="46.2" y2="668.78" stroke="#222" stroke-width="1.2" />
<text x="41" y="673.48" font-size="14.6" text-anchor="end" fill="#101010" stroke="#101010" font-weight="normal" >0.6</text>
<line x1="42.2" y1="624.54" x2="46.2" y2="624.54" stroke="#222" stroke-width="1.2" />
<text x="41" y="629.24" font-size="14.6" text-anchor="end" fill="#101010" stroke="#101010" font-weight="normal" >0.8</text>
<line x1="42.2" y1="580.3" x2="46.2" y2="580.3" stroke="#222" stroke-width="1.2" />
<text x="41" y="585" font-size="14.6" text-anchor="end" fill="#101010" stroke="#101010" font-weight="normal" >1.0</text>
<line x1="44.2" y1="735.14" x2="46.2" y2="735.14" stroke="#222" stroke-width="1.2" />
<line x1="44.2" y1="690.9" x2="46.2" y2="690.9" stroke="#222" stroke-width="1.2" />
<line x1="44.2" y1="646.66" x2="46.2" y2="646.66" stroke="#222" stroke-width="1.2" />
<line x1="44.2" y1="602.42" x2="46.2" y2="602.42" stroke="#222" stroke-width="1.2" />
<line x1="59.3" y1="755.8" x2="59.3" y2="762.8" stroke="#222" stroke-width="1.2" />
<text x="59.3" y="775.6" font-size="14.6" text-anchor="middle" fill="#101010" stroke="#101010" font-weight="normal" >0</text>
<line x1="151.9" y1="755.8" x2="151.9" y2="762.8" stroke="#222" stroke-width="1.2" />
<text x="151.9" y="775.6" font-size="14.6" text-anchor="middle" fill="#101010" stroke="#101010" font-weight="normal" >500</text>
<line x1="244.5" y1="755.8" x2="244.5" y2="762.8" stroke="#222" stroke-width="1.2" />
<text x="244.5" y="775.6" font-size="14.6" text-anchor="middle" fill="#101010" stroke="#101010" font-weight="normal" >1000</text>
<line x1="337.1" y1="755.8" x2="337.1" y2="762.8" stroke="#222" stroke-width="1.2" />
<text x="337.1" y="775.6" font-size="14.6" text-anchor="middle" fill="#101010" stroke="#101010" font-weight="normal" >1500</text>
<line x1="105.6" y1="755.8" x2="105.6" y2="759.6" stroke="#222" stroke-width="1.2" />
<line x1="198.2" y1="755.8" x2="198.2" y2="759.6" stroke="#222" stroke-width="1.2" />
<line x1="290.8" y1="755.8" x2="290.8" y2="759.6" stroke="#222" stroke-width="1.2" />
<line x1="383.4" y1="755.8" x2="383.4" y2="759.6" stroke="#222" stroke-width="1.2" />
<text x="237.5" y="788.8" font-size="15" text-anchor="middle" fill="#101010" stroke="#101010" font-weight="normal" >Time (s)</text>
<text x="14.2" y="651.2" font-size="15" text-anchor="middle" fill="#101010" stroke="#101010" font-weight="normal" transform="rotate(-90 14.2 651.2)" >Intensity (a.u.)</text>
<rect x="437.4" y="545.4" width="29.3" height="210.6" fill="#faf8b6" stroke="none" stroke-width="1" />
<rect x="618.6" y="545.4" width="27.6" height="210.6" fill="#faf8b6" stroke="none" stroke-width="1" />
<rect x="501.4" y="545.4" width="54" height="210.6" fill="#badff5" stroke="none" stroke-width="1" />
<line x1="541.8" y1="545.4" x2="541.8" y2="759" stroke="#444" stroke-width="1.3" stroke-dasharray="5 4"/>
<path d="M444 578.2 L455 578.5 L464.2 579.2 L466.4 582 L470 615 L476.6 673 L488.2 709.6 L499.8 722.9 L513.1 731.2 L522 732.6 L530.5 732.9" fill="none" stroke="#111" stroke-width="1.2" stroke-linejoin="round"/>
<path d="M552.4 733.2 C552.92 732.83 554.57 731.88 555.5 731 C556.43 730.12 556.75 730.37 558 727.9 C559.25 725.43 561.05 722.58 563 716.2 C564.95 709.82 567.48 697.9 569.7 689.6 C571.92 681.3 574.08 673.6 576.3 666.4 C578.52 659.2 580.22 653.62 583 646.4 C585.78 639.18 589.68 629.75 593 623.1 C596.32 616.45 599.58 611.22 602.9 606.5 C606.22 601.78 609.57 598.35 612.9 594.8 C616.23 591.25 620.38 587.42 622.9 585.2 C625.42 582.98 626.48 582.5 628 581.5 C629.52 580.5 630.47 579.72 632 579.2 C633.53 578.68 636.33 578.53 637.2 578.4" fill="none" stroke="#111" stroke-width="1.2" />
<line x1="480.9" y1="632.1" x2="486.49" y2="668.57" stroke="#111" stroke-width="0.9" />
<path d="M487.4 674.5 L484.22 668.92 L488.76 668.22 Z" fill="#111" stroke="none" stroke-width="1" />
<line x1="584" y1="675.3" x2="599.73" y2="636.76" stroke="#111" stroke-width="0.9" />
<path d="M602 631.2 L601.86 637.62 L597.6 635.89 Z" fill="#111" stroke="none" stroke-width="1" />
<text x="440.2" y="573" font-size="13.5" text-anchor="start" fill="#111" stroke="#111" font-weight="normal" >0 ppm</text>
<text x="643.6" y="576" font-size="13.5" text-anchor="end" fill="#111" stroke="#111" font-weight="normal" >0 ppm</text>
<text x="543.4" y="747" font-size="13.5" text-anchor="middle" fill="#111" stroke="#111" font-weight="normal" >100 ppm</text>
<path d="M437.4 545.4 L437.4 756 L646.2 756" fill="none" stroke="#222" stroke-width="1.3" />
<path d="M437.4 545.4 L646.2 545.4 L646.2 756" fill="none" stroke="#222" stroke-width="1.3" />
<line x1="444" y1="756" x2="444" y2="760" stroke="#222" stroke-width="1.2" />
<text x="444" y="774.2" font-size="14.6" text-anchor="middle" fill="#101010" stroke="#101010" font-weight="normal" >0</text>
<line x1="486.4" y1="756" x2="486.4" y2="760" stroke="#222" stroke-width="1.2" />
<text x="486.4" y="774.2" font-size="14.6" text-anchor="middle" fill="#101010" stroke="#101010" font-weight="normal" >100</text>
<line x1="528.8" y1="756" x2="528.8" y2="760" stroke="#222" stroke-width="1.2" />
<text x="528.8" y="774.2" font-size="14.6" text-anchor="middle" fill="#101010" stroke="#101010" font-weight="normal" >200</text>
<line x1="465.2" y1="756" x2="465.2" y2="758" stroke="#222" stroke-width="1.2" />
<line x1="507.6" y1="756" x2="507.6" y2="758" stroke="#222" stroke-width="1.2" />
<line x1="552.4" y1="756" x2="552.4" y2="760" stroke="#222" stroke-width="1.2" />
<text x="552.4" y="774.2" font-size="14.6" text-anchor="middle" fill="#101010" stroke="#101010" font-weight="normal" >0</text>
<line x1="593.8" y1="756" x2="593.8" y2="760" stroke="#222" stroke-width="1.2" />
<text x="593.8" y="774.2" font-size="14.6" text-anchor="middle" fill="#101010" stroke="#101010" font-weight="normal" >1</text>
<line x1="635.2" y1="756" x2="635.2" y2="760" stroke="#222" stroke-width="1.2" />
<text x="635.2" y="774.2" font-size="14.6" text-anchor="middle" fill="#101010" stroke="#101010" font-weight="normal" >2</text>
<line x1="573.1" y1="756" x2="573.1" y2="758" stroke="#222" stroke-width="1.2" />
<line x1="614.5" y1="756" x2="614.5" y2="758" stroke="#222" stroke-width="1.2" />
<text x="482" y="788.8" font-size="15" text-anchor="middle" fill="#101010" stroke="#101010" font-weight="normal" >Time (ms)</text>
<text x="591.6" y="788.8" font-size="15" text-anchor="middle" fill="#101010" stroke="#101010" font-weight="normal" >Time (s)</text>
<text x="672" y="282.8" font-size="18" text-anchor="start" fill="#000" stroke="#000" font-weight="bold" >G</text>
<rect x="733.2" y="272.4" width="79.6" height="483.6" fill="#e9f4fd" stroke="none" stroke-width="1" />
<rect x="910" y="272.4" width="44.6" height="483.6" fill="#e9f4fd" stroke="none" stroke-width="1" />
<rect x="984.1" y="272.4" width="63.5" height="483.6" fill="#e9f4fd" stroke="none" stroke-width="1" />
<line x1="737.05" y1="272.4" x2="737.05" y2="756" stroke="#e9e9e9" stroke-width="0.75" />
<line x1="762.8" y1="272.4" x2="762.8" y2="756" stroke="#e9e9e9" stroke-width="0.75" />
<line x1="788.55" y1="272.4" x2="788.55" y2="756" stroke="#e9e9e9" stroke-width="0.75" />
<line x1="814.3" y1="272.4" x2="814.3" y2="756" stroke="#e9e9e9" stroke-width="0.75" />
<line x1="840.05" y1="272.4" x2="840.05" y2="756" stroke="#e9e9e9" stroke-width="0.75" />
<line x1="865.8" y1="272.4" x2="865.8" y2="756" stroke="#e9e9e9" stroke-width="0.75" />
<line x1="891.55" y1="272.4" x2="891.55" y2="756" stroke="#e9e9e9" stroke-width="0.75" />
<line x1="917.3" y1="272.4" x2="917.3" y2="756" stroke="#e9e9e9" stroke-width="0.75" />
<line x1="943.05" y1="272.4" x2="943.05" y2="756" stroke="#e9e9e9" stroke-width="0.75" />
<line x1="968.8" y1="272.4" x2="968.8" y2="756" stroke="#e9e9e9" stroke-width="0.75" />
<line x1="994.55" y1="272.4" x2="994.55" y2="756" stroke="#e9e9e9" stroke-width="0.75" />
<line x1="1020.3" y1="272.4" x2="1020.3" y2="756" stroke="#e9e9e9" stroke-width="0.75" />
<line x1="1046.05" y1="272.4" x2="1046.05" y2="756" stroke="#e9e9e9" stroke-width="0.75" />
<line x1="711.3" y1="478.9" x2="1071.8" y2="478.9" stroke="#e9e9e9" stroke-width="0.75" />
<line x1="711.3" y1="453.1" x2="1071.8" y2="453.1" stroke="#e9e9e9" stroke-width="0.75" />
<line x1="711.3" y1="427.3" x2="1071.8" y2="427.3" stroke="#e9e9e9" stroke-width="0.75" />
<line x1="711.3" y1="401.5" x2="1071.8" y2="401.5" stroke="#e9e9e9" stroke-width="0.75" />
<line x1="711.3" y1="375.7" x2="1071.8" y2="375.7" stroke="#e9e9e9" stroke-width="0.75" />
<line x1="711.3" y1="349.9" x2="1071.8" y2="349.9" stroke="#e9e9e9" stroke-width="0.75" />
<line x1="711.3" y1="324.1" x2="1071.8" y2="324.1" stroke="#e9e9e9" stroke-width="0.75" />
<line x1="711.3" y1="298.3" x2="1071.8" y2="298.3" stroke="#e9e9e9" stroke-width="0.75" />
<line x1="711.3" y1="546.7" x2="1071.8" y2="546.7" stroke="#e9e9e9" stroke-width="0.75" />
<line x1="711.3" y1="569.99" x2="1071.8" y2="569.99" stroke="#e9e9e9" stroke-width="0.75" />
<line x1="711.3" y1="593.28" x2="1071.8" y2="593.28" stroke="#e9e9e9" stroke-width="0.75" />
<line x1="711.3" y1="616.57" x2="1071.8" y2="616.57" stroke="#e9e9e9" stroke-width="0.75" />
<line x1="711.3" y1="639.86" x2="1071.8" y2="639.86" stroke="#e9e9e9" stroke-width="0.75" />
<line x1="711.3" y1="663.15" x2="1071.8" y2="663.15" stroke="#e9e9e9" stroke-width="0.75" />
<line x1="711.3" y1="686.44" x2="1071.8" y2="686.44" stroke="#e9e9e9" stroke-width="0.75" />
<line x1="711.3" y1="709.73" x2="1071.8" y2="709.73" stroke="#e9e9e9" stroke-width="0.75" />
<line x1="711.3" y1="733.02" x2="1071.8" y2="733.02" stroke="#e9e9e9" stroke-width="0.75" />
<line x1="711.3" y1="298.3" x2="1071.8" y2="298.3" stroke="#3a3a3a" stroke-width="1.05" stroke-dasharray="6.5 4.5"/>
<line x1="711.3" y1="389.2" x2="1071.8" y2="389.2" stroke="#3a3a3a" stroke-width="1.05" stroke-dasharray="6.5 4.5"/>
<line x1="711.3" y1="546.7" x2="1071.8" y2="546.7" stroke="#3a3a3a" stroke-width="1.05" stroke-dasharray="6.5 4.5"/>
<line x1="711.3" y1="639.86" x2="1071.8" y2="639.86" stroke="#3a3a3a" stroke-width="1.05" stroke-dasharray="6.5 4.5"/>
<rect x="907.8" y="323.7" width="142.6" height="137.9" fill="none" stroke="#555" stroke-width="1.0" />
<rect x="907.8" y="570" width="142.4" height="142" fill="none" stroke="#555" stroke-width="1.0" />
<path d="M711.3 298.3 C712.67 298.3 722.8 298.29 725 298.3 C727.2 298.31 732.38 298.13 733.3 298.4 C734.22 298.67 734.05 299.64 734.2 301 C734.35 302.36 734.7 308.1 734.8 312 C734.9 315.9 735.13 330.37 735.2 340 C735.27 349.63 735.4 402.3 735.5 408.3 C735.6 414.3 736.05 401.83 736.2 400 C736.35 398.17 736.86 390 737 390 C737.14 390 737.47 397.45 737.6 400 C737.73 402.55 738.18 417.5 738.3 415.5 C738.42 413.5 738.71 385.75 738.8 380 C738.89 374.25 739.1 357.5 739.2 358 C739.3 358.5 739.66 379.8 739.8 385 C739.94 390.2 740.41 405.97 740.6 410 C740.79 414.03 741.5 425.3 741.7 425.3 C741.9 425.3 742.4 412.86 742.6 410 C742.8 407.14 743.46 398.6 743.7 396.7 C743.94 394.8 744.7 393 745 391 C745.3 389 746.28 378.63 746.7 376.7 C747.12 374.77 748.74 372.45 749.2 371.7 C749.66 370.95 750.89 370.04 751.3 369.2 C751.71 368.36 752.85 364.5 753.3 363.3 C753.75 362.1 755.38 357.53 755.8 357.2 C756.22 356.87 757.08 358.55 757.5 360 C757.92 361.45 759.42 369.7 760 371.7 C760.58 373.7 762.63 378 763.3 380 C763.97 382 766.06 389.98 766.7 391.7 C767.34 393.42 769.12 397.12 769.7 397.2 C770.28 397.28 771.89 395.05 772.5 392.5 C773.11 389.95 775.22 374.48 775.8 371.7 C776.38 368.92 777.8 365.2 778.3 364.7 C778.8 364.2 780.21 366.22 780.8 366.7 C781.39 367.18 783.28 369.22 784.2 369.5 C785.12 369.78 789.09 370.2 790 369.5 C790.91 368.8 792.72 363.37 793.3 362.5 C793.88 361.63 795.16 360.88 795.8 360.8 C796.44 360.72 799.11 360.38 799.7 361.7 C800.29 363.02 801.34 369.34 801.7 374 C802.06 378.66 803 405.2 803.3 408.3 C803.6 411.4 804.36 404.5 804.7 405 C805.04 405.5 806.41 410.8 806.7 413.3 C806.99 415.8 807.44 426.16 807.6 430 C807.76 433.84 808.17 451.5 808.3 451.7 C808.43 451.9 808.79 437.67 808.9 432 C809.01 426.33 809.31 401.7 809.4 395 C809.49 388.3 809.71 371.33 809.8 365 C809.89 358.67 810.16 336.87 810.3 331.7 C810.44 326.53 810.98 315.97 811.2 313.3 C811.42 310.63 812.12 306.25 812.5 305 C812.88 303.75 814.25 301.42 815 300.8 C815.75 300.18 818.83 299.05 820 298.8 C821.17 298.55 822.7 298.35 826.7 298.3 C830.7 298.25 852.67 298.3 860 298.3 C867.33 298.3 895.04 298.29 900 298.3 C904.96 298.31 908.3 297.75 909.6 298.4 C910.9 299.05 912.53 303.7 913 304.8 C913.47 305.9 914.11 305.6 914.3 309.4 C914.49 313.2 914.79 334.28 914.9 342.8 C915.01 351.32 915.3 386.73 915.4 394.6 C915.5 402.47 915.8 419.94 915.9 421.5 C916 423.06 916.28 409.85 916.4 410.2 C916.52 410.55 916.96 422.02 917.1 425 C917.24 427.98 917.68 442.61 917.8 440 C917.92 437.39 918.19 408.71 918.3 398.9 C918.41 389.09 918.77 344.29 918.9 341.9 C919.03 339.51 919.46 370.39 919.6 375 C919.74 379.61 920.16 386.08 920.3 388 C920.44 389.92 920.87 394.8 921 394.2 C921.13 393.6 921.44 385.29 921.6 382 C921.76 378.71 922.35 362.91 922.6 361.3 C922.85 359.69 923.77 366.36 924.1 365.9 C924.43 365.44 925.53 356.23 925.9 356.7 C926.27 357.17 927.3 369.03 927.8 370.6 C928.3 372.17 930.31 372.5 930.9 372.4 C931.49 372.3 933.23 369.23 933.7 369.6 C934.17 369.97 935.27 373.56 935.6 376.1 C935.93 378.64 936.74 391.63 937 395 C937.26 398.37 937.96 409.8 938.2 409.8 C938.44 409.8 939.02 398.37 939.4 395 C939.78 391.63 941.37 379.01 942 376.1 C942.63 373.19 944.98 367.75 945.7 365.9 C946.42 364.05 948.78 356.19 949.2 357.6 C949.62 359.01 949.76 373.23 949.9 380 C950.04 386.77 950.48 423.8 950.6 425.3 C950.72 426.8 951.01 401.53 951.1 395 C951.19 388.47 951.42 365.59 951.5 360 C951.58 354.41 951.77 343.97 951.9 339.1 C952.03 334.23 952.58 314.91 952.8 311.3 C953.02 307.69 953.69 304.2 954.1 303 C954.51 301.8 955.98 299.8 956.9 299.3 C957.82 298.8 960.99 298.18 963.3 298 C965.61 297.82 977.96 297.55 980 297.5 C982.04 297.45 983.24 297.49 983.7 297.5 C984.16 297.51 984.47 297.45 984.6 297.6 C984.73 297.75 984.93 294.76 985 299 C985.07 303.24 985.22 325.14 985.3 340 C985.38 354.86 985.7 439.82 985.8 447.6 C985.9 455.38 986.18 423.06 986.3 417.8 C986.42 412.54 986.85 398.59 987 395 C987.15 391.41 987.58 380.57 987.8 381.9 C988.02 383.23 988.93 402.26 989.2 408.3 C989.47 414.34 990.13 437.54 990.5 442.3 C990.87 447.06 992.43 455.71 992.9 455.9 C993.37 456.09 994.84 448.79 995.2 444.2 C995.56 439.61 996.26 418.66 996.5 410 C996.74 401.34 997.25 364.51 997.6 357.6 C997.95 350.69 999.54 342.2 1000 340.9 C1000.46 339.6 1001.61 342.56 1002.2 344.6 C1002.79 346.64 1005.25 358.52 1005.9 361.3 C1006.55 364.08 1008.14 372.4 1008.7 372.4 C1009.26 372.4 1010.85 363.11 1011.5 361.3 C1012.15 359.49 1014.46 354.76 1015.2 354.3 C1015.94 353.84 1018.25 356.19 1018.9 356.7 C1019.55 357.21 1021.24 357.07 1021.7 359.4 C1022.16 361.73 1023.07 375.82 1023.5 380 C1023.93 384.18 1025.54 400.7 1026 401.2 C1026.46 401.7 1027.66 387.88 1028.1 385 C1028.54 382.12 1029.99 373.1 1030.4 372.4 C1030.81 371.7 1031.79 375.88 1032.2 378 C1032.61 380.12 1034.17 393.9 1034.5 393.6 C1034.83 393.3 1035.3 378.6 1035.5 375 C1035.7 371.4 1036.27 360.64 1036.5 357.6 C1036.73 354.56 1037.52 345.43 1037.8 344.6 C1038.08 343.77 1039.01 349.57 1039.3 349.3 C1039.59 349.03 1040.43 342.46 1040.7 341.9 C1040.97 341.34 1041.72 343.98 1042 343.7 C1042.28 343.42 1043.26 339.66 1043.5 339.1 C1043.74 338.54 1044.25 334.51 1044.4 338.1 C1044.55 341.69 1044.89 368.45 1045 375 C1045.11 381.55 1045.41 404.1 1045.5 403.6 C1045.59 403.1 1045.82 376.45 1045.9 370 C1045.98 363.55 1046.13 345.34 1046.3 339.1 C1046.47 332.86 1047.29 311.49 1047.6 307.6 C1047.91 303.71 1048.75 301.16 1049.4 300.2 C1050.05 299.24 1052.52 298.33 1054.1 298 C1055.68 297.67 1063.43 297.05 1065.2 296.9 C1066.97 296.75 1071.14 296.54 1071.8 296.5" fill="none" stroke="#ef2f40" stroke-width="1.1" stroke-linejoin="round"/>
<path d="M711.3 546.7 C714.11 546.7 724.57 546.7 730 546.7 C735.43 546.7 744.42 546.57 747.5 546.7 C750.58 546.84 749.33 547.01 750.5 547.6 C751.67 548.19 753.59 549.4 755.3 550.6 C757.01 551.8 760.29 554.6 761.9 555.6 C763.5 556.61 764.65 556.77 766 557.3 C767.35 557.82 769.29 558.34 770.9 559.1 C772.5 559.87 775.26 561.29 776.7 562.4 C778.14 563.51 779.45 565.06 780.5 566.5 C781.55 567.94 782.85 570.12 783.7 572 C784.56 573.88 785.5 576.67 786.2 579 C786.91 581.33 787.5 582.43 788.4 587.5 C789.3 592.57 791.05 604.92 792.2 612.8 C793.36 620.67 794.93 633 796.1 640 C797.27 647 798.71 655.3 800 659.5 C801.29 663.7 803.25 666.37 804.7 668 C806.16 669.63 808.37 670.4 809.7 670.4 C811.04 670.4 812.13 670.22 813.6 668 C815.07 665.78 817.45 659.8 819.5 655.6 C821.55 651.4 824.97 644.66 827.3 640 C829.62 635.34 832.67 628.58 835 624.5 C837.33 620.42 839.88 617.18 842.8 612.8 C845.72 608.42 850.99 599.96 854.5 595.3 C858.01 590.63 862.71 585.2 866.2 581.7 C869.7 578.21 873.72 574.92 877.8 572 C881.88 569.08 888.74 564.83 893.4 562.2 C898.06 559.58 905.66 556 908.9 554.5 C912.14 553 913.53 552.68 915 552.2 C916.47 551.72 917.65 551.33 918.7 551.3 C919.75 551.27 921.13 551.44 922 552 C922.87 552.56 923.84 553.75 924.5 555 C925.16 556.25 925.73 558.57 926.4 560.3 C927.07 562.02 928.12 564.75 929 566.5 C929.88 568.25 931.4 570.58 932.3 572 C933.2 573.42 934.13 575.13 935 576 C935.87 576.87 936.75 577.53 938.1 577.8 C939.45 578.07 942.25 578.04 944 577.8 C945.75 577.56 948.34 575.92 949.8 576.2 C951.25 576.49 952.53 577.14 953.7 579.7 C954.87 582.26 956.43 588.33 957.6 593.3 C958.77 598.26 960.33 607.25 961.5 612.8 C962.67 618.35 964.25 626.91 965.4 630.3 C966.55 633.69 968.05 635.12 969.2 635.4 C970.36 635.68 971.93 633.84 973.1 632.2 C974.27 630.57 975.83 626.24 977 624.5 C978.17 622.76 979.44 623.23 980.9 620.6 C982.36 617.98 984.95 610.51 986.7 607 C988.46 603.49 990.97 599.36 992.6 597.2 C994.24 595.04 996.14 592.88 997.6 592.6 C999.06 592.32 1000.72 592.86 1002.3 595.3 C1003.88 597.74 1006.35 605.69 1008.1 608.9 C1009.86 612.11 1012.58 616 1014 616.7 C1015.42 617.41 1016.79 614.15 1017.6 613.6 C1018.41 613.05 1018.92 613.33 1019.4 613 C1019.88 612.67 1020.41 611.7 1020.8 611.4 C1021.19 611.1 1021.58 611.57 1022 611 C1022.42 610.43 1023.06 608.78 1023.6 607.6 C1024.14 606.42 1024.41 604.95 1025.6 603.1 C1026.78 601.25 1030.03 596.88 1031.5 595.3 C1032.97 593.72 1034.25 592.32 1035.4 592.6 C1036.56 592.88 1038.05 594.17 1039.2 597.2 C1040.36 600.23 1041.93 605.79 1043.1 612.8 C1044.27 619.8 1045.83 633.99 1047 643.9 C1048.17 653.81 1049.73 670.14 1050.9 678.9 C1052.07 687.66 1053.81 697.98 1054.8 702.3 C1055.79 706.62 1056.33 707.7 1057.5 707.7 C1058.67 707.7 1061.25 704.28 1062.6 702.3 C1063.95 700.32 1065.51 696.25 1066.5 694.5 C1067.49 692.75 1068.4 693.23 1069.2 690.6 C1070 687.98 1071.41 679.04 1071.8 677" fill="none" stroke="#3c6be0" stroke-width="1.15" />
<path d="M711.3 272.4 L711.3 504.3 L1071.8 504.3" fill="none" stroke="#222" stroke-width="1.3" />
<path d="M711.3 272.4 L1071.8 272.4 L1071.8 504.3" fill="none" stroke="#222" stroke-width="1.3" />
<path d="M711.3 523.5 L711.3 756 L1071.8 756" fill="none" stroke="#222" stroke-width="1.3" />
<path d="M711.3 523.5 L1071.8 523.5 L1071.8 756" fill="none" stroke="#222" stroke-width="1.3" />
<line x1="707.3" y1="504.7" x2="711.3" y2="504.7" stroke="#222" stroke-width="1.2" />
<text x="706.1" y="509.4" font-size="14.1" text-anchor="end" fill="#101010" stroke="#101010" font-weight="normal" >0.2</text>
<line x1="707.3" y1="453.1" x2="711.3" y2="453.1" stroke="#222" stroke-width="1.2" />
<text x="706.1" y="457.8" font-size="14.1" text-anchor="end" fill="#101010" stroke="#101010" font-weight="normal" >0.4</text>
<line x1="707.3" y1="401.5" x2="711.3" y2="401.5" stroke="#222" stroke-width="1.2" />
<text x="706.1" y="406.2" font-size="14.1" text-anchor="end" fill="#101010" stroke="#101010" font-weight="normal" >0.6</text>
<line x1="707.3" y1="349.9" x2="711.3" y2="349.9" stroke="#222" stroke-width="1.2" />
<text x="706.1" y="354.6" font-size="14.1" text-anchor="end" fill="#101010" stroke="#101010" font-weight="normal" >0.8</text>
<line x1="707.3" y1="298.3" x2="711.3" y2="298.3" stroke="#222" stroke-width="1.2" />
<text x="706.1" y="303" font-size="14.1" text-anchor="end" fill="#101010" stroke="#101010" font-weight="normal" >1.0</text>
<line x1="709.3" y1="478.9" x2="711.3" y2="478.9" stroke="#222" stroke-width="1.2" />
<line x1="709.3" y1="427.3" x2="711.3" y2="427.3" stroke="#222" stroke-width="1.2" />
<line x1="709.3" y1="375.7" x2="711.3" y2="375.7" stroke="#222" stroke-width="1.2" />
<line x1="709.3" y1="324.1" x2="711.3" y2="324.1" stroke="#222" stroke-width="1.2" />
<line x1="709.3" y1="272.5" x2="711.3" y2="272.5" stroke="#222" stroke-width="1.2" />
<line x1="707.3" y1="546.7" x2="711.3" y2="546.7" stroke="#222" stroke-width="1.2" />
<text x="706.1" y="551.4" font-size="14.1" text-anchor="end" fill="#101010" stroke="#101010" font-weight="normal" >0</text>
<line x1="707.3" y1="593.28" x2="711.3" y2="593.28" stroke="#222" stroke-width="1.2" />
<text x="706.1" y="597.98" font-size="14.1" text-anchor="end" fill="#101010" stroke="#101010" font-weight="normal" >100</text>
<line x1="707.3" y1="639.86" x2="711.3" y2="639.86" stroke="#222" stroke-width="1.2" />
<text x="706.1" y="644.56" font-size="14.1" text-anchor="end" fill="#101010" stroke="#101010" font-weight="normal" >200</text>
<line x1="707.3" y1="686.44" x2="711.3" y2="686.44" stroke="#222" stroke-width="1.2" />
<text x="706.1" y="691.14" font-size="14.1" text-anchor="end" fill="#101010" stroke="#101010" font-weight="normal" >300</text>
<line x1="707.3" y1="733.02" x2="711.3" y2="733.02" stroke="#222" stroke-width="1.2" />
<text x="706.1" y="737.72" font-size="14.1" text-anchor="end" fill="#101010" stroke="#101010" font-weight="normal" >400</text>
<line x1="709.3" y1="523.41" x2="711.3" y2="523.41" stroke="#222" stroke-width="1.2" />
<line x1="709.3" y1="569.99" x2="711.3" y2="569.99" stroke="#222" stroke-width="1.2" />
<line x1="709.3" y1="616.57" x2="711.3" y2="616.57" stroke="#222" stroke-width="1.2" />
<line x1="709.3" y1="663.15" x2="711.3" y2="663.15" stroke="#222" stroke-width="1.2" />
<line x1="709.3" y1="709.73" x2="711.3" y2="709.73" stroke="#222" stroke-width="1.2" />
<line x1="709.3" y1="756.31" x2="711.3" y2="756.31" stroke="#222" stroke-width="1.2" />
<line x1="711.3" y1="756" x2="711.3" y2="760" stroke="#222" stroke-width="1.2" />
<text x="711.3" y="773.6" font-size="14.1" text-anchor="middle" fill="#101010" stroke="#101010" font-weight="normal" >0</text>
<line x1="762.8" y1="756" x2="762.8" y2="760" stroke="#222" stroke-width="1.2" />
<text x="762.8" y="773.6" font-size="14.1" text-anchor="middle" fill="#101010" stroke="#101010" font-weight="normal" >10</text>
<line x1="814.3" y1="756" x2="814.3" y2="760" stroke="#222" stroke-width="1.2" />
<text x="814.3" y="773.6" font-size="14.1" text-anchor="middle" fill="#101010" stroke="#101010" font-weight="normal" >20</text>
<line x1="865.8" y1="756" x2="865.8" y2="760" stroke="#222" stroke-width="1.2" />
<text x="865.8" y="773.6" font-size="14.1" text-anchor="middle" fill="#101010" stroke="#101010" font-weight="normal" >30</text>
<line x1="917.3" y1="756" x2="917.3" y2="760" stroke="#222" stroke-width="1.2" />
<text x="917.3" y="773.6" font-size="14.1" text-anchor="middle" fill="#101010" stroke="#101010" font-weight="normal" >40</text>
<line x1="968.8" y1="756" x2="968.8" y2="760" stroke="#222" stroke-width="1.2" />
<text x="968.8" y="773.6" font-size="14.1" text-anchor="middle" fill="#101010" stroke="#101010" font-weight="normal" >50</text>
<line x1="1020.3" y1="756" x2="1020.3" y2="760" stroke="#222" stroke-width="1.2" />
<text x="1020.3" y="773.6" font-size="14.1" text-anchor="middle" fill="#101010" stroke="#101010" font-weight="normal" >60</text>
<line x1="1071.8" y1="756" x2="1071.8" y2="760" stroke="#222" stroke-width="1.2" />
<text x="1071.8" y="773.6" font-size="14.1" text-anchor="middle" fill="#101010" stroke="#101010" font-weight="normal" >70</text>
<line x1="737.05" y1="756" x2="737.05" y2="758" stroke="#222" stroke-width="1.2" />
<line x1="788.55" y1="756" x2="788.55" y2="758" stroke="#222" stroke-width="1.2" />
<line x1="840.05" y1="756" x2="840.05" y2="758" stroke="#222" stroke-width="1.2" />
<line x1="891.55" y1="756" x2="891.55" y2="758" stroke="#222" stroke-width="1.2" />
<line x1="943.05" y1="756" x2="943.05" y2="758" stroke="#222" stroke-width="1.2" />
<line x1="994.55" y1="756" x2="994.55" y2="758" stroke="#222" stroke-width="1.2" />
<line x1="1046.05" y1="756" x2="1046.05" y2="758" stroke="#222" stroke-width="1.2" />
<line x1="711.3" y1="504.3" x2="711.3" y2="504.4" stroke="#222" stroke-width="1" />
<line x1="762.8" y1="504.3" x2="762.8" y2="504.4" stroke="#222" stroke-width="1" />
<line x1="814.3" y1="504.3" x2="814.3" y2="504.4" stroke="#222" stroke-width="1" />
<line x1="865.8" y1="504.3" x2="865.8" y2="504.4" stroke="#222" stroke-width="1" />
<line x1="917.3" y1="504.3" x2="917.3" y2="504.4" stroke="#222" stroke-width="1" />
<line x1="968.8" y1="504.3" x2="968.8" y2="504.4" stroke="#222" stroke-width="1" />
<line x1="1020.3" y1="504.3" x2="1020.3" y2="504.4" stroke="#222" stroke-width="1" />
<line x1="1071.8" y1="504.3" x2="1071.8" y2="504.4" stroke="#222" stroke-width="1" />
<text x="891.3" y="787.4" font-size="14.4" text-anchor="middle" fill="#101010" stroke="#101010" font-weight="normal" >Time (s)</text>
<text x="680.6" y="388.6" font-size="15" text-anchor="middle" fill="#101010" stroke="#101010" font-weight="normal" transform="rotate(-90 680.6 388.6)" >Intensity (a.u.)</text>
<text x="679.6" y="640" font-size="15" text-anchor="middle" fill="#101010" stroke="#101010" font-weight="normal" transform="rotate(-90 679.6 640)" >Concentration of NH<tspan font-size="9" dy="3.2">3</tspan><tspan dy="-3.2" font-size="1">&#8203;</tspan> (ppm)</text>
<line x1="714.2" y1="285.3" x2="740.8" y2="285.3" stroke="#ee2a3a" stroke-width="1.0" />
<text x="746.4" y="289.6" font-size="13.2" text-anchor="start" fill="#101010" stroke="#101010" font-weight="normal" >MOA's response to NH<tspan font-size="8.5" dy="3">3</tspan><tspan dy="-3" font-size="1">&#8203;</tspan></text>
<line x1="714.6" y1="535.5" x2="741.2" y2="535.5" stroke="#3c6be0" stroke-width="1.0" />
<text x="746.6" y="540.2" font-size="13.2" text-anchor="start" fill="#101010" stroke="#101010" font-weight="normal" xml:space="preserve">Commercial sensor's response to NH<tspan dx="1.4" font-size="8.5" dy="3">3</tspan></text>
<text x="837" y="310.9" font-size="12" text-anchor="start" fill="#101010" stroke="#101010" font-weight="normal" >NH<tspan font-size="7" dy="2.5">3</tspan><tspan dy="-2.5" font-size="1">&#8203;</tspan>: 0 ppm</text>
<text x="842.6" y="385.6" font-size="12" text-anchor="start" fill="#101010" stroke="#101010" font-weight="normal" >200 ppm</text>
<text x="837" y="557.7" font-size="12" text-anchor="start" fill="#101010" stroke="#101010" font-weight="normal" >NH<tspan font-size="7" dy="2.5">3</tspan><tspan dy="-2.5" font-size="1">&#8203;</tspan>: 0 ppm</text>
<text x="842.6" y="635" font-size="12" text-anchor="start" fill="#101010" stroke="#101010" font-weight="normal" >200 ppm</text>
<text x="717.8" y="460.2" font-size="12.6" text-anchor="start" fill="#101010" stroke="#101010" font-weight="normal" >Rapid response (~100 ms)</text>
<text x="717.8" y="475.8" font-size="12.6" text-anchor="start" fill="#101010" stroke="#101010" font-weight="normal" >and recovery (~1 s)</text>
<text x="1062.7" y="475.5" font-size="12.6" text-anchor="end" fill="#101010" stroke="#101010" font-weight="normal" >Rapid response to NH<tspan font-size="6.8" dy="3.3">3</tspan><tspan dy="-3.3" font-size="1">&#8203;</tspan> fluctuations</text>
<text x="1068.7" y="490.6" font-size="12.6" text-anchor="end" fill="#101010" stroke="#101010" font-weight="normal" >(caused by evaporation and diffusion)</text>
<text x="716.3" y="687" font-size="12.9" text-anchor="start" fill="#101010" stroke="#101010" font-weight="normal" >Slow response (~10 s)</text>
<text x="716.3" y="703.3" font-size="12.9" text-anchor="start" fill="#101010" stroke="#101010" font-weight="normal" >and recovery (~20 s)</text>
<text x="1068.5" y="731" font-size="12.9" text-anchor="end" fill="#101010" stroke="#101010" font-weight="normal" >Cannot detect rapid NH<tspan font-size="7" dy="3.3">3</tspan><tspan dy="-3.3" font-size="1">&#8203;</tspan> changes</text>
<text x="731.5" y="517.6" font-size="11.4" text-anchor="start" fill="#101010" stroke="#101010" font-weight="normal" >Exposure to NH<tspan font-size="7" dy="2.6">3</tspan><tspan dy="-2.6" font-size="1">&#8203;</tspan></text>
<text x="886" y="517.6" font-size="11.4" text-anchor="start" fill="#101010" stroke="#101010" font-weight="normal" >Exposure to NH<tspan font-size="7" dy="2.6">3</tspan><tspan dy="-2.6" font-size="1">&#8203;</tspan></text>
<text x="978.2" y="517.6" font-size="11.4" text-anchor="start" fill="#101010" stroke="#101010" font-weight="normal" >Exposure to NH<tspan font-size="7" dy="2.6">3</tspan><tspan dy="-2.6" font-size="1">&#8203;</tspan></text>
</svg>
</body></html>
